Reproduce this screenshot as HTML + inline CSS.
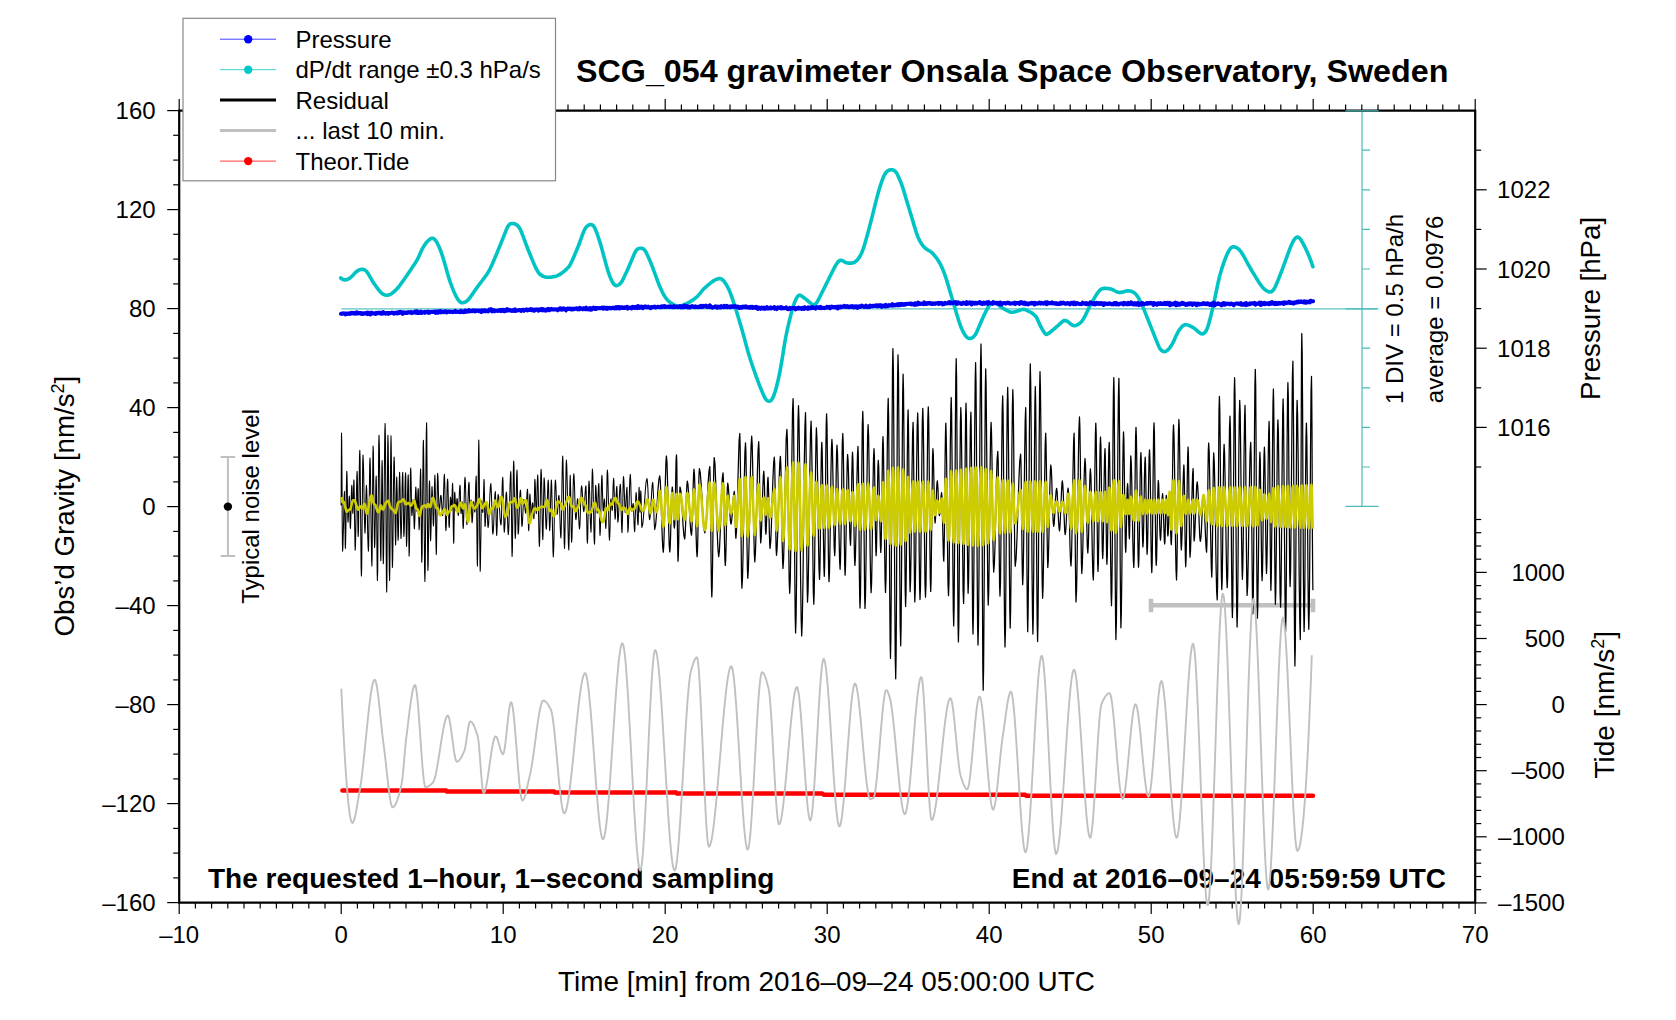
<!DOCTYPE html><html><head><meta charset="utf-8"><title>SCG_054</title><style>html,body{margin:0;padding:0;background:#fff;overflow:hidden}svg{display:block}</style></head><body><svg width="1676" height="1020" viewBox="0 0 1676 1020">
<rect width="1676" height="1020" fill="#fff"/>
<path d="M341.3,308.9 H1377" stroke="#5cc4c4" stroke-width="1.2" fill="none"/>
<path d="M1362,110.6 V506.5 M1345.5,110.9 H1378.5 M1345.5,506.3 H1378.5 M1345.5,308.9 H1378.5 M1362,150.2 h8 M1362,189.8 h8 M1362,229.4 h8 M1362,269.0 h8 M1362,348.2 h8 M1362,387.8 h8 M1362,427.4 h8 M1362,467.0 h8" stroke="#4dbaba" stroke-width="1.2" fill="none"/>
<path d="M340.7,278.0 341.5,278.6 342.3,279.1 343.1,279.5 343.9,279.8 344.7,280.0 345.5,279.9 346.3,279.8 347.1,279.5 347.9,279.2 348.7,278.7 349.5,278.3 350.3,277.7 351.1,277.0 351.9,276.3 352.7,275.5 353.5,274.6 354.3,273.7 355.1,272.9 355.9,272.1 356.7,271.4 357.5,270.9 358.3,270.4 359.1,270.0 359.9,269.7 360.7,269.5 361.5,269.4 362.3,269.4 363.1,269.4 363.9,269.6 364.7,270.0 365.5,270.5 366.3,271.2 367.1,272.2 367.9,273.3 368.7,274.6 369.5,275.9 370.3,277.3 371.1,278.7 371.9,280.1 372.7,281.5 373.5,282.7 374.3,283.9 375.1,285.0 375.9,286.1 376.7,287.3 377.5,288.3 378.3,289.4 379.1,290.4 379.9,291.3 380.7,292.2 381.5,293.0 382.3,293.7 383.1,294.2 383.9,294.6 384.7,294.9 385.5,295.1 386.3,295.2 387.1,295.2 387.9,295.1 388.7,295.0 389.5,294.7 390.3,294.4 391.1,294.0 391.9,293.4 392.7,292.8 393.5,292.1 394.3,291.4 395.1,290.7 395.9,289.9 396.7,289.1 397.5,288.2 398.3,287.3 399.1,286.3 399.9,285.2 400.7,284.1 401.5,283.0 402.3,281.9 403.1,280.8 403.9,279.7 404.7,278.5 405.5,277.4 406.3,276.2 407.1,275.1 407.9,273.9 408.7,272.8 409.5,271.6 410.3,270.4 411.1,269.2 411.9,268.0 412.7,266.8 413.5,265.6 414.3,264.4 415.1,263.2 415.9,261.9 416.7,260.6 417.5,259.2 418.3,257.6 419.1,255.9 419.9,254.1 420.7,252.2 421.5,250.5 422.3,248.9 423.1,247.4 423.9,246.1 424.7,244.9 425.5,243.7 426.3,242.7 427.1,241.8 427.9,241.0 428.7,240.2 429.5,239.6 430.3,239.0 431.1,238.5 431.9,238.3 432.7,238.3 433.5,238.5 434.3,239.1 435.1,239.9 435.9,240.9 436.7,242.2 437.5,243.7 438.3,245.3 439.1,247.0 439.9,248.9 440.7,251.0 441.5,253.2 442.3,255.5 443.1,258.0 443.9,260.6 444.7,263.4 445.5,266.2 446.3,269.1 447.1,271.9 447.9,274.7 448.7,277.4 449.5,279.9 450.3,282.3 451.1,284.5 451.9,286.7 452.7,288.7 453.5,290.6 454.3,292.5 455.1,294.2 455.9,295.9 456.7,297.4 457.5,298.8 458.3,300.0 459.1,301.0 459.9,301.8 460.7,302.4 461.5,302.7 462.3,302.8 463.1,302.7 463.9,302.5 464.7,302.2 465.5,301.9 466.3,301.4 467.1,300.8 467.9,300.1 468.7,299.2 469.5,298.2 470.3,297.1 471.1,296.0 471.9,294.9 472.7,293.7 473.5,292.6 474.3,291.4 475.1,290.3 475.9,289.1 476.7,288.0 477.5,286.9 478.3,285.8 479.1,284.7 479.9,283.6 480.7,282.6 481.5,281.5 482.3,280.5 483.1,279.4 483.9,278.4 484.7,277.3 485.5,276.2 486.3,275.1 487.1,274.0 487.9,272.7 488.7,271.3 489.5,269.9 490.3,268.3 491.1,266.6 491.9,264.9 492.7,263.1 493.5,261.3 494.3,259.4 495.1,257.5 495.9,255.6 496.7,253.6 497.5,251.7 498.3,249.7 499.1,247.8 499.9,245.8 500.7,243.9 501.5,241.9 502.3,239.9 503.1,237.9 503.9,235.9 504.7,233.8 505.5,231.8 506.3,229.8 507.1,227.9 507.9,226.4 508.7,225.2 509.5,224.4 510.3,223.9 511.1,223.6 511.9,223.5 512.7,223.5 513.5,223.6 514.3,223.8 515.1,224.0 515.9,224.4 516.7,224.9 517.5,225.5 518.3,226.4 519.1,227.4 519.9,228.7 520.7,230.3 521.5,232.2 522.3,234.3 523.1,236.3 523.9,238.5 524.7,240.6 525.5,242.8 526.3,244.9 527.1,247.0 527.9,249.1 528.7,251.1 529.5,253.1 530.3,255.0 531.1,257.0 531.9,258.9 532.7,260.9 533.5,262.7 534.3,264.6 535.1,266.4 535.9,268.2 536.7,269.7 537.5,271.1 538.3,272.3 539.1,273.3 539.9,274.2 540.7,274.8 541.5,275.4 542.3,275.9 543.1,276.3 543.9,276.6 544.7,276.9 545.5,277.1 546.3,277.2 547.1,277.3 547.9,277.3 548.7,277.3 549.5,277.2 550.3,277.2 551.1,277.1 551.9,277.0 552.7,276.9 553.5,276.8 554.3,276.6 555.1,276.4 555.9,276.2 556.7,275.9 557.5,275.6 558.3,275.2 559.1,274.8 559.9,274.4 560.7,273.9 561.5,273.3 562.3,272.7 563.1,272.1 563.9,271.5 564.7,270.8 565.5,270.1 566.3,269.4 567.1,268.6 567.9,267.8 568.7,266.9 569.5,265.7 570.3,264.3 571.1,262.8 571.9,261.1 572.7,259.4 573.5,257.6 574.3,255.7 575.1,253.8 575.9,251.9 576.7,250.0 577.5,248.0 578.3,246.1 579.1,244.0 579.9,241.8 580.7,239.6 581.5,237.4 582.3,235.2 583.1,233.1 583.9,231.1 584.7,229.5 585.5,228.1 586.3,227.0 587.1,226.2 587.9,225.6 588.7,225.1 589.5,224.7 590.3,224.5 591.1,224.5 591.9,224.7 592.7,225.2 593.5,226.0 594.3,227.1 595.1,228.7 595.9,230.6 596.7,232.7 597.5,234.9 598.3,237.3 599.1,239.7 599.9,242.3 600.7,244.9 601.5,247.6 602.3,250.5 603.1,253.4 603.9,256.4 604.7,259.4 605.5,262.4 606.3,265.3 607.1,268.1 607.9,270.8 608.7,273.2 609.5,275.4 610.3,277.4 611.1,279.3 611.9,281.0 612.7,282.5 613.5,283.7 614.3,284.6 615.1,285.2 615.9,285.6 616.7,285.6 617.5,285.4 618.3,285.0 619.1,284.5 619.9,283.9 620.7,283.1 621.5,282.0 622.3,280.7 623.1,279.2 623.9,277.5 624.7,275.8 625.5,274.1 626.3,272.4 627.1,270.7 627.9,268.9 628.7,267.1 629.5,265.3 630.3,263.4 631.1,261.5 631.9,259.6 632.7,257.7 633.5,255.8 634.3,254.0 635.1,252.3 635.9,250.9 636.7,249.9 637.5,249.1 638.3,248.7 639.1,248.4 639.9,248.2 640.7,248.2 641.5,248.3 642.3,248.5 643.1,248.8 643.9,249.4 644.7,250.2 645.5,251.3 646.3,252.7 647.1,254.4 647.9,256.1 648.7,257.9 649.5,259.7 650.3,261.6 651.1,263.6 651.9,265.6 652.7,267.7 653.5,269.8 654.3,272.0 655.1,274.2 655.9,276.4 656.7,278.5 657.5,280.7 658.3,282.8 659.1,284.8 659.9,286.7 660.7,288.5 661.5,290.3 662.3,292.0 663.1,293.5 663.9,295.0 664.7,296.3 665.5,297.5 666.3,298.6 667.1,299.5 667.9,300.4 668.7,301.2 669.5,301.9 670.3,302.5 671.1,303.1 671.9,303.6 672.7,304.1 673.5,304.6 674.3,305.0 675.1,305.4 675.9,305.7 676.7,305.9 677.5,306.1 678.3,306.1 679.1,306.1 679.9,305.9 680.7,305.8 681.5,305.6 682.3,305.4 683.1,305.1 683.9,304.8 684.7,304.5 685.5,304.1 686.3,303.8 687.1,303.4 687.9,302.9 688.7,302.5 689.5,302.1 690.3,301.6 691.1,301.1 691.9,300.6 692.7,300.1 693.5,299.6 694.3,299.0 695.1,298.4 695.9,297.7 696.7,297.0 697.5,296.3 698.3,295.5 699.1,294.5 699.9,293.5 700.7,292.5 701.5,291.5 702.3,290.5 703.1,289.6 703.9,288.8 704.7,288.0 705.5,287.3 706.3,286.6 707.1,285.9 707.9,285.2 708.7,284.5 709.5,283.9 710.3,283.2 711.1,282.6 711.9,282.0 712.7,281.4 713.5,280.9 714.3,280.4 715.1,280.0 715.9,279.6 716.7,279.3 717.5,279.0 718.3,278.8 719.1,278.6 719.9,278.5 720.7,278.7 721.5,279.1 722.3,279.6 723.1,280.3 723.9,281.2 724.7,282.2 725.5,283.4 726.3,284.6 727.1,286.0 727.9,287.5 728.7,289.1 729.5,290.9 730.3,292.9 731.1,295.1 731.9,297.4 732.7,299.7 733.5,302.0 734.3,304.4 735.1,306.9 735.9,309.4 736.7,312.0 737.5,314.6 738.3,317.3 739.1,320.0 739.9,322.7 740.7,325.4 741.5,328.1 742.3,330.9 743.1,333.7 743.9,336.6 744.7,339.6 745.5,342.6 746.3,345.6 747.1,348.5 747.9,351.4 748.7,354.1 749.5,356.7 750.3,359.3 751.1,361.7 751.9,364.1 752.7,366.5 753.5,368.8 754.3,371.0 755.1,373.3 755.9,375.6 756.7,377.8 757.5,380.0 758.3,382.2 759.1,384.3 759.9,386.3 760.7,388.3 761.5,390.2 762.3,392.1 763.1,394.0 763.9,395.8 764.7,397.5 765.5,398.9 766.3,399.8 767.1,400.5 767.9,400.9 768.7,401.2 769.5,401.2 770.3,400.9 771.1,400.3 771.9,399.3 772.7,398.0 773.5,396.3 774.3,394.2 775.1,391.8 775.9,389.0 776.7,386.0 777.5,382.8 778.3,379.3 779.1,375.6 779.9,371.6 780.7,367.4 781.5,362.9 782.3,358.0 783.1,353.0 783.9,347.9 784.7,343.0 785.5,338.5 786.3,334.5 787.1,330.7 787.9,327.1 788.7,323.6 789.5,320.2 790.3,317.0 791.1,313.9 791.9,310.9 792.7,308.1 793.5,305.5 794.3,303.1 795.1,301.1 795.9,299.4 796.7,297.9 797.5,296.6 798.3,295.7 799.1,295.2 799.9,295.1 800.7,295.5 801.5,296.0 802.3,296.5 803.1,297.1 803.9,297.7 804.7,298.3 805.5,298.9 806.3,299.5 807.1,300.2 807.9,300.9 808.7,301.6 809.5,302.2 810.3,302.9 811.1,303.6 811.9,304.2 812.7,304.6 813.5,304.8 814.3,304.7 815.1,304.4 815.9,303.7 816.7,302.7 817.5,301.4 818.3,299.8 819.1,298.3 819.9,296.7 820.7,295.1 821.5,293.5 822.3,291.9 823.1,290.3 823.9,288.7 824.7,287.1 825.5,285.5 826.3,283.9 827.1,282.3 827.9,280.7 828.7,279.1 829.5,277.4 830.3,275.8 831.1,274.2 831.9,272.6 832.7,271.0 833.5,269.4 834.3,267.8 835.1,266.3 835.9,264.9 836.7,263.7 837.5,262.6 838.3,261.6 839.1,260.9 839.9,260.5 840.7,260.3 841.5,260.4 842.3,260.6 843.1,261.0 843.9,261.5 844.7,261.9 845.5,262.4 846.3,262.7 847.1,262.9 847.9,263.0 848.7,263.1 849.5,263.1 850.3,263.1 851.1,263.1 851.9,263.0 852.7,262.9 853.5,262.8 854.3,262.4 855.1,261.9 855.9,261.3 856.7,260.6 857.5,259.7 858.3,258.7 859.1,257.6 859.9,256.3 860.7,254.8 861.5,253.2 862.3,251.3 863.1,249.2 863.9,246.9 864.7,244.3 865.5,241.5 866.3,238.7 867.1,235.8 867.9,232.9 868.7,229.9 869.5,226.9 870.3,223.9 871.1,220.7 871.9,217.6 872.7,214.4 873.5,211.2 874.3,207.9 875.1,204.7 875.9,201.6 876.7,198.4 877.5,195.4 878.3,192.5 879.1,189.7 879.9,187.1 880.7,184.6 881.5,182.2 882.3,179.9 883.1,177.8 883.9,176.0 884.7,174.5 885.5,173.2 886.3,172.2 887.1,171.4 887.9,170.8 888.7,170.3 889.5,170.0 890.3,169.9 891.1,169.8 891.9,169.8 892.7,169.9 893.5,170.2 894.3,170.6 895.1,171.3 895.9,172.1 896.7,173.2 897.5,174.7 898.3,176.4 899.1,178.2 899.9,180.1 900.7,182.1 901.5,184.2 902.3,186.4 903.1,188.8 903.9,191.4 904.7,194.1 905.5,196.7 906.3,199.4 907.1,202.0 907.9,204.7 908.7,207.3 909.5,210.0 910.3,212.7 911.1,215.3 911.9,218.0 912.7,220.6 913.5,223.3 914.3,225.9 915.1,228.6 915.9,231.3 916.7,233.7 917.5,235.9 918.3,237.8 919.1,239.5 919.9,241.1 920.7,242.4 921.5,243.7 922.3,244.8 923.1,245.8 923.9,246.8 924.7,247.6 925.5,248.3 926.3,248.9 927.1,249.5 927.9,250.0 928.7,250.5 929.5,250.9 930.3,251.5 931.1,252.0 931.9,252.7 932.7,253.4 933.5,254.3 934.3,255.3 935.1,256.2 935.9,257.3 936.7,258.3 937.5,259.5 938.3,260.7 939.1,262.0 939.9,263.4 940.7,264.9 941.5,266.5 942.3,268.3 943.1,270.2 943.9,272.2 944.7,274.3 945.5,276.6 946.3,279.0 947.1,281.6 947.9,284.3 948.7,287.0 949.5,289.7 950.3,292.4 951.1,295.1 951.9,297.8 952.7,300.5 953.5,303.2 954.3,305.9 955.1,308.6 955.9,311.2 956.7,313.9 957.5,316.5 958.3,319.2 959.1,321.8 959.9,324.2 960.7,326.3 961.5,328.3 962.3,330.0 963.1,331.6 963.9,333.1 964.7,334.5 965.5,335.7 966.3,336.7 967.1,337.5 967.9,338.0 968.7,338.4 969.5,338.5 970.3,338.5 971.1,338.3 971.9,337.9 972.7,337.5 973.5,336.9 974.3,336.0 975.1,335.0 975.9,333.7 976.7,332.1 977.5,330.3 978.3,328.4 979.1,326.5 979.9,324.6 980.7,322.7 981.5,320.8 982.3,319.0 983.1,317.3 983.9,315.5 984.7,313.9 985.5,312.2 986.3,310.6 987.1,309.1 987.9,307.6 988.7,306.3 989.5,305.2 990.3,304.3 991.1,303.6 991.9,303.0 992.7,302.7 993.5,302.6 994.3,302.6 995.1,302.8 995.9,303.2 996.7,303.7 997.5,304.2 998.3,304.8 999.1,305.5 999.9,306.1 1000.7,306.7 1001.5,307.3 1002.3,307.9 1003.1,308.4 1003.9,308.8 1004.7,309.3 1005.5,309.7 1006.3,310.2 1007.1,310.6 1007.9,311.0 1008.7,311.3 1009.5,311.7 1010.3,312.0 1011.1,312.2 1011.9,312.3 1012.7,312.3 1013.5,312.1 1014.3,311.9 1015.1,311.7 1015.9,311.4 1016.7,311.2 1017.5,311.0 1018.3,310.7 1019.1,310.4 1019.9,310.2 1020.7,309.9 1021.5,309.6 1022.3,309.4 1023.1,309.2 1023.9,309.2 1024.7,309.4 1025.5,309.7 1026.3,310.1 1027.1,310.5 1027.9,310.9 1028.7,311.3 1029.5,311.7 1030.3,312.1 1031.1,312.5 1031.9,313.0 1032.7,313.6 1033.5,314.2 1034.3,314.9 1035.1,315.7 1035.9,316.5 1036.7,317.8 1037.5,319.4 1038.3,321.2 1039.1,323.0 1039.9,324.9 1040.7,326.5 1041.5,327.9 1042.3,329.3 1043.1,330.7 1043.9,332.0 1044.7,333.1 1045.5,333.9 1046.3,334.4 1047.1,334.3 1047.9,333.8 1048.7,333.3 1049.5,332.7 1050.3,332.1 1051.1,331.5 1051.9,330.8 1052.7,330.1 1053.5,329.4 1054.3,328.8 1055.1,328.1 1055.9,327.4 1056.7,326.7 1057.5,326.0 1058.3,325.3 1059.1,324.5 1059.9,323.8 1060.7,323.1 1061.5,322.4 1062.3,321.7 1063.1,321.1 1063.9,320.6 1064.7,320.5 1065.5,320.6 1066.3,320.8 1067.1,321.2 1067.9,321.8 1068.7,322.4 1069.5,323.0 1070.3,323.7 1071.1,324.3 1071.9,324.8 1072.7,325.3 1073.5,325.6 1074.3,325.7 1075.1,325.6 1075.9,325.4 1076.7,325.1 1077.5,324.7 1078.3,324.3 1079.1,323.8 1079.9,323.2 1080.7,322.5 1081.5,321.6 1082.3,320.6 1083.1,319.4 1083.9,318.1 1084.7,316.6 1085.5,315.1 1086.3,313.4 1087.1,311.8 1087.9,310.1 1088.7,308.5 1089.5,306.9 1090.3,305.3 1091.1,303.9 1091.9,302.5 1092.7,301.0 1093.5,299.6 1094.3,298.2 1095.1,296.9 1095.9,295.6 1096.7,294.3 1097.5,293.1 1098.3,292.0 1099.1,291.0 1099.9,290.2 1100.7,289.5 1101.5,289.0 1102.3,288.7 1103.1,288.5 1103.9,288.4 1104.7,288.4 1105.5,288.4 1106.3,288.4 1107.1,288.5 1107.9,288.5 1108.7,288.6 1109.5,288.8 1110.3,288.9 1111.1,289.1 1111.9,289.4 1112.7,289.7 1113.5,290.1 1114.3,290.5 1115.1,291.0 1115.9,291.4 1116.7,291.8 1117.5,292.1 1118.3,292.3 1119.1,292.5 1119.9,292.5 1120.7,292.4 1121.5,292.3 1122.3,292.1 1123.1,291.9 1123.9,291.7 1124.7,291.5 1125.5,291.3 1126.3,291.1 1127.1,290.9 1127.9,290.9 1128.7,290.9 1129.5,291.0 1130.3,291.1 1131.1,291.3 1131.9,291.6 1132.7,291.9 1133.5,292.3 1134.3,292.9 1135.1,293.5 1135.9,294.3 1136.7,295.3 1137.5,296.4 1138.3,297.6 1139.1,299.0 1139.9,300.5 1140.7,302.0 1141.5,303.7 1142.3,305.5 1143.1,307.3 1143.9,309.3 1144.7,311.3 1145.5,313.3 1146.3,315.3 1147.1,317.3 1147.9,319.3 1148.7,321.3 1149.5,323.3 1150.3,325.3 1151.1,327.3 1151.9,329.3 1152.7,331.3 1153.5,333.3 1154.3,335.3 1155.1,337.3 1155.9,339.3 1156.7,341.3 1157.5,343.3 1158.3,345.3 1159.1,347.0 1159.9,348.5 1160.7,349.6 1161.5,350.4 1162.3,351.0 1163.1,351.4 1163.9,351.6 1164.7,351.6 1165.5,351.4 1166.3,351.0 1167.1,350.5 1167.9,349.8 1168.7,349.0 1169.5,348.1 1170.3,347.0 1171.1,345.9 1171.9,344.6 1172.7,343.2 1173.5,341.6 1174.3,339.9 1175.1,338.1 1175.9,336.3 1176.7,334.6 1177.5,333.0 1178.3,331.5 1179.1,330.3 1179.9,329.1 1180.7,328.1 1181.5,327.1 1182.3,326.3 1183.1,325.7 1183.9,325.1 1184.7,324.8 1185.5,324.7 1186.3,324.8 1187.1,324.9 1187.9,325.1 1188.7,325.4 1189.5,325.7 1190.3,326.1 1191.1,326.5 1191.9,326.9 1192.7,327.3 1193.5,327.8 1194.3,328.4 1195.1,329.0 1195.9,329.7 1196.7,330.4 1197.5,331.1 1198.3,331.8 1199.1,332.4 1199.9,333.0 1200.7,333.5 1201.5,333.8 1202.3,333.9 1203.1,333.8 1203.9,333.4 1204.7,332.7 1205.5,331.8 1206.3,330.4 1207.1,328.7 1207.9,326.5 1208.7,324.0 1209.5,321.1 1210.3,318.0 1211.1,314.8 1211.9,311.4 1212.7,307.9 1213.5,304.4 1214.3,300.7 1215.1,296.9 1215.9,293.1 1216.7,289.3 1217.5,285.5 1218.3,281.9 1219.1,278.5 1219.9,275.3 1220.7,272.4 1221.5,269.7 1222.3,267.1 1223.1,264.7 1223.9,262.4 1224.7,260.2 1225.5,258.1 1226.3,256.1 1227.1,254.3 1227.9,252.6 1228.7,251.1 1229.5,249.8 1230.3,248.7 1231.1,247.8 1231.9,247.2 1232.7,246.9 1233.5,246.8 1234.3,246.9 1235.1,247.1 1235.9,247.4 1236.7,247.8 1237.5,248.3 1238.3,248.9 1239.1,249.6 1239.9,250.5 1240.7,251.4 1241.5,252.5 1242.3,253.8 1243.1,255.1 1243.9,256.5 1244.7,258.0 1245.5,259.4 1246.3,260.9 1247.1,262.3 1247.9,263.8 1248.7,265.3 1249.5,266.7 1250.3,268.1 1251.1,269.5 1251.9,270.9 1252.7,272.2 1253.5,273.5 1254.3,274.8 1255.1,276.1 1255.9,277.4 1256.7,278.7 1257.5,280.0 1258.3,281.2 1259.1,282.5 1259.9,283.7 1260.7,284.9 1261.5,286.0 1262.3,287.0 1263.1,287.9 1263.9,288.7 1264.7,289.4 1265.5,290.0 1266.3,290.6 1267.1,291.0 1267.9,291.4 1268.7,291.8 1269.5,292.0 1270.3,292.0 1271.1,291.8 1271.9,291.4 1272.7,290.7 1273.5,289.8 1274.3,288.6 1275.1,287.1 1275.9,285.3 1276.7,283.4 1277.5,281.5 1278.3,279.6 1279.1,277.6 1279.9,275.5 1280.7,273.5 1281.5,271.4 1282.3,269.3 1283.1,267.2 1283.9,265.0 1284.7,262.8 1285.5,260.6 1286.3,258.4 1287.1,256.2 1287.9,254.0 1288.7,251.8 1289.5,249.7 1290.3,247.6 1291.1,245.6 1291.9,243.9 1292.7,242.2 1293.5,240.8 1294.3,239.6 1295.1,238.5 1295.9,237.7 1296.7,237.2 1297.5,237.0 1298.3,237.2 1299.1,237.7 1299.9,238.5 1300.7,239.6 1301.5,240.8 1302.3,242.2 1303.1,243.6 1303.9,245.2 1304.7,246.7 1305.5,248.3 1306.3,250.0 1307.1,251.7 1307.9,253.5 1308.7,255.4 1309.5,257.3 1310.3,259.4 1311.1,261.5 1311.9,263.7 1312.7,266.1 1312.9,266.7" stroke="#00c4c4" stroke-width="3.6" fill="none" stroke-linejoin="round" stroke-linecap="round"/>
<path d="M341.0,313.8 341.6,313.9 342.2,313.6 342.8,313.3 343.4,313.5 344.0,313.3 344.6,313.8 345.2,314.4 345.8,313.5 346.4,313.4 347.0,314.0 347.6,313.9 348.2,313.7 348.8,313.2 349.4,313.7 350.0,314.0 350.6,313.0 351.2,313.4 351.8,312.7 352.4,313.0 353.0,312.7 353.6,313.5 354.2,313.0 354.8,313.7 355.4,313.7 356.0,313.5 356.6,312.3 357.2,313.3 357.8,313.5 358.4,313.6 359.0,312.8 359.6,313.3 360.2,313.0 360.8,313.1 361.4,314.0 362.0,313.1 362.6,313.5 363.2,313.9 363.8,313.2 364.4,313.4 365.0,313.5 365.6,313.5 366.2,312.8 366.8,313.5 367.4,314.1 368.0,312.6 368.6,313.8 369.2,313.4 369.8,313.1 370.4,314.4 371.0,313.7 371.6,312.7 372.2,313.4 372.8,313.6 373.4,313.2 374.0,313.6 374.6,313.3 375.2,313.6 375.8,314.0 376.4,312.9 377.0,313.4 377.6,313.0 378.2,313.3 378.8,312.6 379.4,312.9 380.0,313.1 380.6,313.7 381.2,313.8 381.8,312.5 382.4,312.8 383.0,313.5 383.6,312.2 384.2,312.9 384.8,313.1 385.4,313.8 386.0,313.5 386.6,313.0 387.2,312.9 387.8,313.0 388.4,313.9 389.0,312.9 389.6,312.9 390.2,313.2 390.8,313.0 391.4,312.9 392.0,312.5 392.6,313.0 393.2,312.8 393.8,313.6 394.4,313.3 395.0,312.9 395.6,313.3 396.2,312.7 396.8,313.4 397.4,312.9 398.0,313.2 398.6,312.2 399.2,313.0 399.8,312.0 400.4,311.8 401.0,312.7 401.6,312.3 402.2,312.9 402.8,313.9 403.4,312.3 404.0,312.4 404.6,312.8 405.2,313.0 405.8,312.6 406.4,312.6 407.0,313.0 407.6,312.9 408.2,312.1 408.8,312.6 409.4,312.6 410.0,312.1 410.6,312.7 411.2,312.2 411.8,313.1 412.4,312.6 413.0,312.6 413.6,312.2 414.2,312.5 414.8,311.5 415.4,311.9 416.0,312.7 416.6,311.4 417.2,312.9 417.8,311.6 418.4,312.8 419.0,312.0 419.6,312.8 420.2,312.4 420.8,311.6 421.4,313.0 422.0,313.1 422.6,312.3 423.2,312.2 423.8,312.2 424.4,311.8 425.0,312.8 425.6,312.0 426.2,312.2 426.8,311.8 427.4,311.9 428.0,311.6 428.6,312.8 429.2,312.1 429.8,312.6 430.4,312.2 431.0,311.8 431.6,312.0 432.2,311.8 432.8,312.1 433.4,311.9 434.0,311.9 434.6,311.4 435.2,311.6 435.8,312.9 436.4,311.7 437.0,311.5 437.6,312.2 438.2,312.7 438.8,311.2 439.4,311.8 440.0,311.6 440.6,311.0 441.2,312.3 441.8,311.9 442.4,311.9 443.0,311.5 443.6,312.1 444.2,311.6 444.8,311.8 445.4,311.3 446.0,311.2 446.6,312.4 447.2,311.5 447.8,311.9 448.4,311.7 449.0,311.5 449.6,311.5 450.2,312.0 450.8,311.5 451.4,311.6 452.0,311.7 452.6,312.2 453.2,312.0 453.8,311.8 454.4,311.3 455.0,310.9 455.6,312.1 456.2,312.0 456.8,311.5 457.4,311.8 458.0,311.9 458.6,311.9 459.2,312.0 459.8,311.3 460.4,312.2 461.0,310.8 461.6,311.9 462.2,311.7 462.8,311.8 463.4,312.3 464.0,312.1 464.6,310.8 465.2,310.5 465.8,311.8 466.4,310.8 467.0,311.3 467.6,311.7 468.2,310.5 468.8,310.2 469.4,311.4 470.0,311.3 470.6,311.1 471.2,311.2 471.8,310.8 472.4,310.4 473.0,311.1 473.6,310.7 474.2,310.3 474.8,311.4 475.4,311.1 476.0,311.3 476.6,310.6 477.2,310.8 477.8,310.6 478.4,310.6 479.0,311.1 479.6,310.6 480.2,311.2 480.8,311.2 481.4,312.0 482.0,310.3 482.6,311.4 483.2,310.9 483.8,310.9 484.4,310.2 485.0,310.7 485.6,311.3 486.2,310.8 486.8,310.9 487.4,310.7 488.0,311.4 488.6,310.8 489.2,309.7 489.8,310.5 490.4,309.8 491.0,309.1 491.6,310.5 492.2,311.4 492.8,310.8 493.4,310.1 494.0,310.2 494.6,311.3 495.2,310.8 495.8,310.7 496.4,310.6 497.0,310.7 497.6,311.0 498.2,310.9 498.8,310.7 499.4,310.1 500.0,310.8 500.6,310.2 501.2,311.1 501.8,309.9 502.4,310.4 503.0,310.5 503.6,309.8 504.2,311.3 504.8,311.2 505.4,310.2 506.0,310.8 506.6,310.6 507.2,309.1 507.8,310.5 508.4,310.3 509.0,310.4 509.6,309.8 510.2,310.2 510.8,310.2 511.4,310.9 512.0,310.5 512.6,310.3 513.2,311.0 513.8,310.0 514.4,310.0 515.0,309.3 515.6,311.0 516.2,310.7 516.8,310.6 517.4,310.5 518.0,310.2 518.6,310.3 519.2,310.0 519.8,310.0 520.4,310.1 521.0,310.9 521.6,310.4 522.2,310.0 522.8,309.8 523.4,309.7 524.0,310.8 524.6,310.3 525.2,310.0 525.8,309.8 526.4,309.4 527.0,309.9 527.6,310.4 528.2,309.8 528.8,309.8 529.4,309.8 530.0,310.0 530.6,309.1 531.2,309.8 531.8,309.4 532.4,310.3 533.0,309.5 533.6,310.1 534.2,310.6 534.8,309.7 535.4,309.5 536.0,309.9 536.6,309.8 537.2,309.3 537.8,310.0 538.4,310.7 539.0,309.6 539.6,309.6 540.2,309.2 540.8,309.8 541.4,309.1 542.0,309.1 542.6,310.3 543.2,309.2 543.8,310.2 544.4,310.4 545.0,309.7 545.6,309.9 546.2,310.6 546.8,309.5 547.4,309.3 548.0,308.9 548.6,309.5 549.2,310.3 549.8,310.0 550.4,309.0 551.0,309.0 551.6,309.2 552.2,309.6 552.8,309.3 553.4,309.5 554.0,309.6 554.6,309.2 555.2,309.4 555.8,309.5 556.4,309.3 557.0,309.6 557.6,310.3 558.2,309.6 558.8,309.3 559.4,308.5 560.0,309.5 560.6,308.3 561.2,308.6 561.8,309.7 562.4,309.6 563.0,309.1 563.6,308.3 564.2,309.0 564.8,308.8 565.4,309.5 566.0,310.3 566.6,309.2 567.2,308.7 567.8,308.5 568.4,309.1 569.0,309.0 569.6,308.5 570.2,309.1 570.8,308.5 571.4,309.6 572.0,309.5 572.6,309.5 573.2,308.7 573.8,309.2 574.4,308.9 575.0,308.7 575.6,308.7 576.2,308.2 576.8,308.2 577.4,309.3 578.0,308.8 578.6,308.9 579.2,309.3 579.8,307.9 580.4,308.4 581.0,308.9 581.6,309.0 582.2,308.6 582.8,309.3 583.4,308.8 584.0,308.1 584.6,308.2 585.2,309.1 585.8,308.9 586.4,307.7 587.0,309.3 587.6,308.9 588.2,309.3 588.8,308.4 589.4,308.4 590.0,308.0 590.6,309.8 591.2,308.5 591.8,309.3 592.4,308.2 593.0,308.6 593.6,307.6 594.2,308.3 594.8,308.9 595.4,307.8 596.0,309.0 596.6,308.6 597.2,307.9 597.8,308.1 598.4,308.1 599.0,308.3 599.6,308.1 600.2,307.9 600.8,308.2 601.4,307.8 602.0,307.6 602.6,308.2 603.2,308.7 603.8,307.5 604.4,308.2 605.0,307.9 605.6,307.7 606.2,308.6 606.8,307.9 607.4,308.9 608.0,307.8 608.6,308.3 609.2,308.0 609.8,307.7 610.4,308.4 611.0,308.0 611.6,308.4 612.2,308.0 612.8,307.5 613.4,308.0 614.0,308.0 614.6,308.5 615.2,307.5 615.8,307.9 616.4,307.1 617.0,308.3 617.6,307.4 618.2,307.0 618.8,307.9 619.4,308.4 620.0,307.1 620.6,307.3 621.2,307.5 621.8,307.2 622.4,308.0 623.0,307.4 623.6,307.4 624.2,308.0 624.8,307.4 625.4,307.9 626.0,307.2 626.6,307.1 627.2,306.8 627.8,308.6 628.4,307.5 629.0,307.8 629.6,307.6 630.2,307.7 630.8,307.6 631.4,308.5 632.0,307.1 632.6,306.8 633.2,307.0 633.8,306.9 634.4,307.9 635.0,307.9 635.6,307.0 636.2,306.8 636.8,307.3 637.4,308.2 638.0,306.0 638.6,307.7 639.2,306.9 639.8,307.9 640.4,306.9 641.0,307.3 641.6,306.6 642.2,306.9 642.8,308.1 643.4,307.8 644.0,307.2 644.6,306.9 645.2,306.4 645.8,307.1 646.4,307.3 647.0,307.3 647.6,307.3 648.2,306.7 648.8,307.3 649.4,307.3 650.0,307.9 650.6,308.2 651.2,307.2 651.8,306.9 652.4,307.2 653.0,306.9 653.6,306.8 654.2,307.2 654.8,306.7 655.4,307.5 656.0,307.1 656.6,307.3 657.2,307.1 657.8,306.8 658.4,306.7 659.0,307.0 659.6,306.9 660.2,307.2 660.8,307.1 661.4,306.4 662.0,307.1 662.6,306.4 663.2,306.8 663.8,306.9 664.4,306.0 665.0,307.1 665.6,307.1 666.2,306.9 666.8,306.8 667.4,306.8 668.0,306.5 668.6,306.9 669.2,306.7 669.8,307.0 670.4,306.4 671.0,307.1 671.6,307.0 672.2,306.9 672.8,306.7 673.4,307.2 674.0,306.1 674.6,307.1 675.2,307.0 675.8,307.0 676.4,307.1 677.0,306.5 677.6,306.7 678.2,307.2 678.8,307.1 679.4,306.9 680.0,306.1 680.6,307.1 681.2,307.4 681.8,307.3 682.4,306.9 683.0,306.0 683.6,307.2 684.2,306.7 684.8,305.5 685.4,306.9 686.0,306.0 686.6,306.1 687.2,306.4 687.8,307.3 688.4,306.5 689.0,306.8 689.6,307.6 690.2,307.5 690.8,306.6 691.4,306.6 692.0,306.1 692.6,306.4 693.2,306.9 693.8,306.9 694.4,306.8 695.0,307.2 695.6,306.3 696.2,306.7 696.8,307.1 697.4,307.0 698.0,307.2 698.6,306.9 699.2,306.5 699.8,306.9 700.4,306.2 701.0,305.9 701.6,307.0 702.2,306.7 702.8,306.9 703.4,305.9 704.0,306.5 704.6,306.4 705.2,306.3 705.8,305.6 706.4,306.5 707.0,307.1 707.6,306.9 708.2,306.4 708.8,306.7 709.4,307.1 710.0,305.3 710.6,306.6 711.2,307.0 711.8,307.0 712.4,307.6 713.0,307.3 713.6,306.9 714.2,306.9 714.8,307.1 715.4,306.4 716.0,306.7 716.6,307.2 717.2,307.7 717.8,306.6 718.4,306.7 719.0,306.8 719.6,307.4 720.2,306.7 720.8,307.4 721.4,306.2 722.0,306.6 722.6,306.6 723.2,307.1 723.8,307.2 724.4,305.9 725.0,306.2 725.6,306.9 726.2,306.4 726.8,305.9 727.4,307.2 728.0,306.9 728.6,306.9 729.2,306.5 729.8,307.2 730.4,306.6 731.0,307.2 731.6,306.2 732.2,306.3 732.8,306.8 733.4,306.3 734.0,307.0 734.6,306.8 735.2,306.2 735.8,306.7 736.4,306.6 737.0,307.2 737.6,306.5 738.2,306.6 738.8,307.4 739.4,308.0 740.0,307.9 740.6,306.9 741.2,307.0 741.8,307.7 742.4,306.9 743.0,306.5 743.6,307.1 744.2,307.3 744.8,306.7 745.4,306.3 746.0,306.4 746.6,307.5 747.2,306.8 747.8,307.1 748.4,307.3 749.0,307.6 749.6,307.1 750.2,307.6 750.8,306.9 751.4,307.2 752.0,306.9 752.6,308.0 753.2,307.4 753.8,307.1 754.4,307.3 755.0,307.4 755.6,307.9 756.2,306.8 756.8,307.1 757.4,307.4 758.0,308.9 758.6,308.1 759.2,307.6 759.8,308.1 760.4,308.8 761.0,307.7 761.6,307.6 762.2,308.4 762.8,308.1 763.4,308.2 764.0,307.6 764.6,308.9 765.2,308.8 765.8,308.3 766.4,308.3 767.0,307.0 767.6,308.4 768.2,308.0 768.8,308.3 769.4,308.5 770.0,308.0 770.6,307.3 771.2,308.4 771.8,307.8 772.4,308.0 773.0,307.9 773.6,308.0 774.2,307.0 774.8,308.8 775.4,308.3 776.0,308.8 776.6,309.2 777.2,308.2 777.8,307.3 778.4,307.8 779.0,307.6 779.6,307.9 780.2,308.2 780.8,307.2 781.4,308.4 782.0,307.4 782.6,308.3 783.2,308.1 783.8,308.0 784.4,308.2 785.0,307.9 785.6,307.9 786.2,307.4 786.8,308.2 787.4,309.1 788.0,309.2 788.6,308.9 789.2,308.6 789.8,307.9 790.4,308.9 791.0,308.2 791.6,308.2 792.2,308.1 792.8,308.2 793.4,308.0 794.0,308.2 794.6,307.7 795.2,308.0 795.8,309.3 796.4,308.2 797.0,308.1 797.6,308.5 798.2,308.6 798.8,307.6 799.4,308.1 800.0,308.7 800.6,308.3 801.2,308.3 801.8,309.0 802.4,307.9 803.0,308.2 803.6,307.9 804.2,308.9 804.8,307.2 805.4,307.9 806.0,307.9 806.6,308.5 807.2,308.5 807.8,308.9 808.4,307.4 809.0,308.5 809.6,308.0 810.2,307.8 810.8,308.3 811.4,307.6 812.0,307.0 812.6,307.8 813.2,307.2 813.8,307.6 814.4,308.1 815.0,308.1 815.6,308.7 816.2,307.8 816.8,307.1 817.4,307.5 818.0,307.4 818.6,307.2 819.2,308.0 819.8,307.5 820.4,306.8 821.0,308.1 821.6,307.7 822.2,307.9 822.8,307.7 823.4,308.0 824.0,307.7 824.6,308.2 825.2,307.8 825.8,307.8 826.4,307.8 827.0,306.8 827.6,307.4 828.2,307.4 828.8,307.6 829.4,306.8 830.0,308.3 830.6,307.5 831.2,306.8 831.8,306.5 832.4,307.2 833.0,307.3 833.6,307.0 834.2,307.3 834.8,307.0 835.4,307.5 836.0,306.9 836.6,307.2 837.2,307.7 837.8,308.5 838.4,306.6 839.0,306.9 839.6,306.7 840.2,307.5 840.8,306.5 841.4,306.8 842.0,307.0 842.6,306.5 843.2,306.5 843.8,306.7 844.4,305.9 845.0,306.2 845.6,306.7 846.2,307.0 846.8,306.8 847.4,306.0 848.0,306.6 848.6,307.2 849.2,307.1 849.8,306.7 850.4,306.3 851.0,307.0 851.6,306.4 852.2,306.1 852.8,306.3 853.4,307.4 854.0,306.7 854.6,307.2 855.2,306.4 855.8,307.0 856.4,306.2 857.0,306.5 857.6,307.8 858.2,306.9 858.8,306.2 859.4,306.4 860.0,306.6 860.6,307.0 861.2,306.1 861.8,305.5 862.4,306.2 863.0,306.3 863.6,306.4 864.2,306.9 864.8,306.4 865.4,306.7 866.0,305.7 866.6,306.6 867.2,307.2 867.8,306.6 868.4,306.3 869.0,306.2 869.6,307.0 870.2,305.6 870.8,306.0 871.4,306.3 872.0,306.4 872.6,305.8 873.2,306.1 873.8,305.8 874.4,306.0 875.0,305.9 875.6,305.3 876.2,305.9 876.8,306.3 877.4,305.4 878.0,305.7 878.6,306.1 879.2,305.3 879.8,305.9 880.4,305.2 881.0,306.3 881.6,306.9 882.2,306.7 882.8,305.6 883.4,306.0 884.0,305.7 884.6,305.7 885.2,306.4 885.8,304.9 886.4,306.1 887.0,305.5 887.6,306.2 888.2,305.6 888.8,305.1 889.4,305.5 890.0,305.7 890.6,305.3 891.2,305.5 891.8,304.9 892.4,304.1 893.0,305.6 893.6,305.4 894.2,305.1 894.8,305.0 895.4,305.4 896.0,304.6 896.6,304.5 897.2,304.7 897.8,305.3 898.4,304.0 899.0,305.2 899.6,304.3 900.2,304.0 900.8,305.1 901.4,304.4 902.0,303.8 902.6,304.2 903.2,304.8 903.8,304.9 904.4,304.0 905.0,304.4 905.6,304.5 906.2,303.8 906.8,304.2 907.4,304.0 908.0,303.7 908.6,303.7 909.2,303.9 909.8,303.9 910.4,303.5 911.0,303.5 911.6,304.3 912.2,303.8 912.8,304.1 913.4,304.3 914.0,304.0 914.6,304.8 915.2,303.2 915.8,304.1 916.4,303.5 917.0,304.6 917.6,304.5 918.2,302.6 918.8,303.1 919.4,303.9 920.0,304.0 920.6,304.0 921.2,303.5 921.8,303.8 922.4,303.9 923.0,303.5 923.6,304.1 924.2,302.4 924.8,303.9 925.4,303.0 926.0,304.0 926.6,303.4 927.2,303.1 927.8,303.7 928.4,303.0 929.0,303.0 929.6,302.7 930.2,303.5 930.8,303.7 931.4,304.0 932.0,303.4 932.6,304.0 933.2,303.4 933.8,303.4 934.4,303.7 935.0,303.9 935.6,303.2 936.2,303.3 936.8,303.3 937.4,303.4 938.0,302.9 938.6,303.9 939.2,303.2 939.8,303.6 940.4,302.9 941.0,303.5 941.6,303.5 942.2,303.1 942.8,304.3 943.4,303.5 944.0,304.2 944.6,303.8 945.2,302.9 945.8,303.1 946.4,303.5 947.0,303.3 947.6,303.3 948.2,303.1 948.8,302.3 949.4,303.1 950.0,302.1 950.6,303.4 951.2,302.8 951.8,302.8 952.4,303.1 953.0,303.3 953.6,302.5 954.2,302.3 954.8,302.6 955.4,302.1 956.0,302.7 956.6,303.9 957.2,302.6 957.8,303.4 958.4,302.4 959.0,303.3 959.6,302.9 960.2,303.1 960.8,303.4 961.4,304.0 962.0,303.2 962.6,303.2 963.2,302.6 963.8,303.4 964.4,303.0 965.0,303.5 965.6,303.1 966.2,304.0 966.8,302.1 967.4,303.0 968.0,303.6 968.6,302.9 969.2,302.7 969.8,303.0 970.4,302.4 971.0,303.2 971.6,304.4 972.2,303.7 972.8,302.6 973.4,302.7 974.0,302.9 974.6,303.6 975.2,302.7 975.8,302.8 976.4,303.6 977.0,303.6 977.6,303.0 978.2,302.6 978.8,302.4 979.4,302.8 980.0,302.0 980.6,303.5 981.2,302.8 981.8,303.4 982.4,304.1 983.0,303.7 983.6,302.6 984.2,303.6 984.8,303.7 985.4,302.8 986.0,302.7 986.6,303.1 987.2,302.4 987.8,303.9 988.4,302.0 989.0,302.6 989.6,303.0 990.2,303.1 990.8,303.3 991.4,303.3 992.0,303.1 992.6,303.8 993.2,302.1 993.8,303.2 994.4,302.8 995.0,303.3 995.6,303.3 996.2,302.7 996.8,302.9 997.4,303.6 998.0,303.4 998.6,302.9 999.2,304.2 999.8,304.4 1000.4,302.5 1001.0,303.4 1001.6,304.5 1002.2,303.6 1002.8,303.3 1003.4,303.1 1004.0,302.9 1004.6,303.1 1005.2,302.9 1005.8,303.6 1006.4,303.0 1007.0,303.0 1007.6,302.6 1008.2,303.2 1008.8,302.8 1009.4,303.1 1010.0,303.7 1010.6,303.4 1011.2,303.5 1011.8,303.4 1012.4,303.3 1013.0,303.2 1013.6,303.1 1014.2,303.6 1014.8,302.7 1015.4,303.9 1016.0,303.3 1016.6,302.9 1017.2,303.0 1017.8,302.9 1018.4,303.3 1019.0,302.9 1019.6,303.8 1020.2,302.9 1020.8,302.1 1021.4,302.9 1022.0,302.3 1022.6,303.2 1023.2,303.8 1023.8,303.6 1024.4,302.6 1025.0,302.9 1025.6,304.2 1026.2,303.4 1026.8,303.3 1027.4,303.8 1028.0,304.5 1028.6,303.9 1029.2,303.3 1029.8,303.5 1030.4,303.6 1031.0,303.0 1031.6,302.7 1032.2,303.3 1032.8,302.8 1033.4,303.3 1034.0,303.3 1034.6,304.5 1035.2,302.9 1035.8,303.2 1036.4,303.2 1037.0,303.5 1037.6,303.8 1038.2,303.1 1038.8,302.9 1039.4,302.5 1040.0,302.8 1040.6,303.6 1041.2,303.3 1041.8,302.8 1042.4,303.1 1043.0,303.3 1043.6,303.6 1044.2,303.0 1044.8,303.2 1045.4,302.4 1046.0,302.7 1046.6,304.1 1047.2,302.2 1047.8,303.2 1048.4,303.4 1049.0,303.2 1049.6,302.9 1050.2,303.3 1050.8,303.3 1051.4,303.3 1052.0,302.4 1052.6,303.3 1053.2,302.9 1053.8,303.1 1054.4,303.5 1055.0,303.7 1055.6,303.8 1056.2,303.1 1056.8,303.8 1057.4,304.0 1058.0,303.9 1058.6,304.1 1059.2,303.3 1059.8,303.3 1060.4,303.8 1061.0,302.7 1061.6,303.5 1062.2,303.1 1062.8,303.2 1063.4,302.5 1064.0,303.0 1064.6,303.4 1065.2,303.8 1065.8,303.9 1066.4,303.4 1067.0,303.3 1067.6,303.0 1068.2,303.6 1068.8,303.3 1069.4,303.7 1070.0,304.3 1070.6,303.4 1071.2,302.7 1071.8,303.0 1072.4,302.7 1073.0,302.8 1073.6,304.1 1074.2,303.6 1074.8,302.7 1075.4,303.8 1076.0,304.1 1076.6,303.3 1077.2,303.1 1077.8,303.3 1078.4,303.6 1079.0,303.8 1079.6,304.1 1080.2,304.1 1080.8,304.1 1081.4,304.2 1082.0,303.8 1082.6,302.7 1083.2,303.4 1083.8,303.6 1084.4,303.3 1085.0,303.9 1085.6,303.3 1086.2,303.0 1086.8,304.2 1087.4,303.8 1088.0,303.6 1088.6,304.0 1089.2,304.0 1089.8,303.7 1090.4,302.3 1091.0,303.2 1091.6,303.3 1092.2,303.0 1092.8,303.6 1093.4,304.1 1094.0,303.3 1094.6,303.0 1095.2,304.5 1095.8,303.3 1096.4,302.9 1097.0,303.7 1097.6,303.8 1098.2,303.2 1098.8,303.9 1099.4,303.3 1100.0,303.1 1100.6,303.6 1101.2,303.9 1101.8,303.2 1102.4,303.7 1103.0,303.5 1103.6,305.0 1104.2,303.2 1104.8,304.3 1105.4,303.5 1106.0,303.5 1106.6,303.9 1107.2,304.0 1107.8,304.2 1108.4,303.8 1109.0,303.3 1109.6,303.3 1110.2,303.8 1110.8,303.9 1111.4,304.3 1112.0,303.8 1112.6,304.1 1113.2,304.4 1113.8,303.7 1114.4,302.9 1115.0,303.0 1115.6,302.9 1116.2,304.4 1116.8,303.2 1117.4,304.2 1118.0,303.9 1118.6,304.5 1119.2,304.1 1119.8,303.6 1120.4,303.5 1121.0,303.7 1121.6,303.7 1122.2,303.4 1122.8,303.6 1123.4,304.5 1124.0,302.8 1124.6,303.8 1125.2,303.2 1125.8,303.8 1126.4,304.1 1127.0,303.6 1127.6,304.1 1128.2,302.9 1128.8,304.2 1129.4,303.4 1130.0,304.0 1130.6,303.8 1131.2,302.4 1131.8,303.3 1132.4,303.8 1133.0,304.5 1133.6,303.8 1134.2,303.8 1134.8,303.0 1135.4,304.4 1136.0,304.6 1136.6,303.7 1137.2,303.6 1137.8,302.9 1138.4,304.2 1139.0,305.1 1139.6,304.1 1140.2,304.4 1140.8,304.0 1141.4,303.2 1142.0,304.4 1142.6,303.1 1143.2,303.6 1143.8,303.9 1144.4,304.2 1145.0,304.0 1145.6,303.9 1146.2,303.4 1146.8,303.1 1147.4,303.8 1148.0,303.4 1148.6,303.1 1149.2,303.1 1149.8,303.5 1150.4,302.8 1151.0,303.1 1151.6,303.0 1152.2,303.9 1152.8,304.0 1153.4,304.8 1154.0,303.0 1154.6,303.5 1155.2,304.2 1155.8,303.7 1156.4,303.6 1157.0,304.7 1157.6,303.6 1158.2,303.2 1158.8,303.2 1159.4,304.0 1160.0,304.0 1160.6,303.1 1161.2,303.3 1161.8,304.1 1162.4,304.1 1163.0,303.5 1163.6,304.1 1164.2,304.1 1164.8,302.9 1165.4,303.7 1166.0,304.1 1166.6,303.6 1167.2,302.8 1167.8,303.7 1168.4,304.2 1169.0,304.6 1169.6,302.8 1170.2,305.2 1170.8,303.3 1171.4,304.3 1172.0,304.5 1172.6,304.4 1173.2,304.0 1173.8,303.3 1174.4,304.2 1175.0,303.5 1175.6,302.6 1176.2,305.3 1176.8,304.2 1177.4,304.8 1178.0,303.4 1178.6,304.6 1179.2,304.7 1179.8,304.7 1180.4,303.9 1181.0,303.3 1181.6,303.8 1182.2,302.8 1182.8,303.1 1183.4,304.0 1184.0,303.4 1184.6,303.9 1185.2,303.9 1185.8,304.9 1186.4,304.6 1187.0,303.9 1187.6,304.6 1188.2,303.6 1188.8,303.8 1189.4,304.4 1190.0,303.3 1190.6,303.8 1191.2,303.3 1191.8,304.0 1192.4,304.8 1193.0,303.6 1193.6,304.1 1194.2,303.5 1194.8,303.4 1195.4,303.4 1196.0,304.7 1196.6,305.2 1197.2,304.2 1197.8,303.6 1198.4,304.4 1199.0,303.8 1199.6,304.4 1200.2,304.2 1200.8,304.1 1201.4,304.3 1202.0,303.7 1202.6,303.8 1203.2,303.2 1203.8,303.8 1204.4,303.3 1205.0,304.0 1205.6,303.6 1206.2,304.1 1206.8,304.3 1207.4,303.3 1208.0,303.6 1208.6,303.6 1209.2,304.4 1209.8,304.9 1210.4,304.5 1211.0,303.9 1211.6,304.8 1212.2,303.3 1212.8,304.8 1213.4,303.7 1214.0,302.7 1214.6,305.4 1215.2,304.9 1215.8,303.6 1216.4,304.2 1217.0,304.0 1217.6,304.1 1218.2,303.3 1218.8,303.8 1219.4,304.3 1220.0,304.2 1220.6,304.7 1221.2,304.1 1221.8,305.3 1222.4,303.7 1223.0,304.2 1223.6,303.1 1224.2,303.4 1224.8,304.7 1225.4,303.6 1226.0,304.3 1226.6,304.0 1227.2,303.5 1227.8,303.8 1228.4,303.7 1229.0,303.7 1229.6,304.3 1230.2,304.3 1230.8,303.7 1231.4,303.5 1232.0,304.1 1232.6,303.9 1233.2,304.4 1233.8,305.2 1234.4,304.3 1235.0,303.9 1235.6,303.8 1236.2,303.5 1236.8,303.4 1237.4,303.4 1238.0,303.7 1238.6,303.6 1239.2,304.2 1239.8,303.6 1240.4,303.7 1241.0,303.2 1241.6,304.6 1242.2,304.1 1242.8,304.7 1243.4,304.2 1244.0,304.5 1244.6,303.6 1245.2,304.1 1245.8,305.1 1246.4,303.1 1247.0,304.3 1247.6,304.6 1248.2,303.9 1248.8,304.1 1249.4,304.3 1250.0,303.4 1250.6,303.9 1251.2,303.2 1251.8,303.3 1252.4,303.3 1253.0,303.6 1253.6,303.7 1254.2,303.9 1254.8,302.9 1255.4,304.6 1256.0,304.2 1256.6,304.0 1257.2,303.4 1257.8,303.5 1258.4,303.9 1259.0,303.8 1259.6,302.7 1260.2,303.9 1260.8,305.0 1261.4,302.6 1262.0,304.0 1262.6,303.7 1263.2,303.5 1263.8,304.2 1264.4,302.9 1265.0,303.6 1265.6,304.2 1266.2,303.4 1266.8,303.3 1267.4,303.5 1268.0,303.2 1268.6,304.2 1269.2,303.0 1269.8,303.9 1270.4,302.8 1271.0,303.8 1271.6,303.3 1272.2,302.0 1272.8,303.3 1273.4,302.8 1274.0,303.1 1274.6,304.1 1275.2,302.7 1275.8,302.7 1276.4,303.9 1277.0,303.2 1277.6,303.9 1278.2,303.3 1278.8,302.7 1279.4,303.0 1280.0,303.7 1280.6,303.5 1281.2,303.0 1281.8,303.0 1282.4,302.9 1283.0,302.6 1283.6,303.9 1284.2,302.9 1284.8,302.3 1285.4,302.6 1286.0,303.2 1286.6,303.1 1287.2,302.7 1287.8,302.4 1288.4,302.7 1289.0,301.8 1289.6,302.0 1290.2,303.1 1290.8,302.4 1291.4,302.8 1292.0,303.2 1292.6,302.9 1293.2,302.5 1293.8,303.6 1294.4,302.8 1295.0,302.3 1295.6,302.8 1296.2,302.6 1296.8,301.9 1297.4,302.4 1298.0,302.2 1298.6,301.3 1299.2,302.2 1299.8,302.1 1300.4,302.0 1301.0,301.4 1301.6,302.0 1302.2,302.1 1302.8,302.2 1303.4,301.5 1304.0,302.4 1304.6,301.4 1305.2,301.9 1305.8,302.7 1306.4,301.6 1307.0,301.7 1307.6,302.5 1308.2,301.7 1308.8,301.7 1309.4,302.0 1310.0,302.4 1310.6,300.7 1311.2,301.4 1311.8,301.2 1312.4,301.2 1313.0,301.3" stroke="#0000f0" stroke-width="4.0" fill="none" stroke-linejoin="round" stroke-linecap="round"/>
<path d="M1151,605.3 H1313" stroke="#c0c0c0" stroke-width="4.5" fill="none"/>
<path d="M1151,598.8 V612.2 M1313,598.8 V612.2" stroke="#c0c0c0" stroke-width="4.6" fill="none"/>
<path d="M341.1,505.6 341.5,433.1 341.7,441.0 341.9,462.6 342.1,492.2 342.2,521.8 342.4,543.4 342.6,551.3 342.9,547.3 343.2,536.3 343.6,521.4 343.9,506.4 344.2,495.4 344.5,491.4 344.6,495.2 344.8,505.6 344.9,519.9 345.1,534.1 345.2,544.6 345.4,548.4 345.6,543.2 345.9,529.1 346.1,509.9 346.3,490.6 346.6,476.5 346.8,471.3 347.0,474.7 347.2,484.0 347.4,496.8 347.6,509.5 347.8,518.8 348.0,522.2 348.2,520.5 348.4,515.7 348.6,509.2 348.9,502.6 349.1,497.8 349.3,496.1 349.5,498.3 349.7,504.2 349.9,512.2 350.0,520.3 350.2,526.2 350.4,528.4 350.6,525.5 350.9,517.6 351.1,506.8 351.3,496.0 351.6,488.1 351.8,485.2 352.0,487.1 352.2,492.2 352.3,499.3 352.5,506.3 352.7,511.5 352.9,513.4 353.0,511.1 353.2,505.0 353.4,496.6 353.6,488.3 353.7,482.1 353.9,479.9 354.1,484.6 354.3,497.5 354.5,515.1 354.8,532.7 355.0,545.6 355.2,550.3 355.5,545.0 355.8,530.5 356.1,510.8 356.5,491.1 356.8,476.6 357.1,471.3 357.3,475.7 357.5,487.6 357.6,503.9 357.8,520.2 358.0,532.1 358.2,536.5 358.5,530.7 358.7,515.0 359.0,493.4 359.3,471.9 359.5,456.1 359.8,450.3 360.1,458.7 360.3,481.8 360.6,513.2 360.9,544.6 361.1,567.7 361.4,576.1 361.7,568.0 361.9,545.9 362.2,515.6 362.5,485.4 362.7,463.2 363.0,455.1 363.3,460.3 363.7,474.6 364.0,494.2 364.3,513.7 364.7,528.0 365.0,533.2 365.2,530.0 365.5,521.2 365.7,509.2 365.9,497.2 366.2,488.4 366.4,485.2 366.7,489.6 367.1,501.7 367.4,518.2 367.7,534.8 368.1,546.9 368.4,551.3 368.7,545.1 368.9,528.0 369.2,504.6 369.5,481.3 369.7,464.2 370.0,458.0 370.3,465.2 370.6,485.0 370.9,512.0 371.3,539.1 371.6,558.9 371.9,566.1 372.1,558.1 372.3,536.1 372.5,506.1 372.7,476.0 372.9,454.0 373.1,446.0 373.4,452.8 373.6,471.4 373.9,496.8 374.1,522.1 374.4,540.7 374.6,547.5 374.9,542.7 375.1,529.6 375.4,511.8 375.7,494.0 375.9,480.9 376.2,476.1 376.4,483.1 376.6,502.2 376.8,528.2 377.0,554.3 377.2,573.4 377.4,580.4 377.7,570.7 377.9,544.1 378.2,507.8 378.5,471.5 378.7,444.9 379.0,435.2 379.3,443.6 379.6,466.6 379.9,498.0 380.2,529.4 380.5,552.4 380.8,560.8 381.0,554.1 381.2,535.8 381.5,510.7 381.7,485.7 381.9,467.3 382.1,460.6 382.3,467.5 382.5,486.4 382.7,512.1 382.9,537.9 383.1,556.8 383.3,563.7 383.6,554.3 383.9,528.6 384.2,493.6 384.5,458.5 384.8,432.8 385.1,423.4 385.4,434.7 385.6,465.5 385.9,507.6 386.2,549.8 386.4,580.6 386.7,591.9 386.9,581.4 387.1,552.7 387.3,513.5 387.5,474.4 387.7,445.7 387.9,435.2 388.2,444.9 388.5,471.5 388.8,507.8 389.0,544.1 389.3,570.7 389.6,580.4 389.8,570.7 390.1,544.2 390.3,508.1 390.5,472.0 390.8,445.5 391.0,435.8 391.2,444.6 391.5,468.7 391.7,501.6 391.9,534.6 392.2,558.7 392.4,567.5 392.7,560.1 393.0,539.9 393.2,512.2 393.5,484.6 393.8,464.4 394.1,457.0 394.4,462.9 394.6,479.0 394.9,501.1 395.1,523.1 395.4,539.2 395.6,545.1 395.8,540.5 396.0,528.1 396.1,511.1 396.3,494.1 396.5,481.7 396.7,477.1 396.9,481.3 397.2,492.9 397.4,508.7 397.6,524.5 397.9,536.1 398.1,540.3 398.4,535.7 398.6,523.3 398.9,506.3 399.1,489.3 399.4,476.9 399.6,472.3 399.8,476.7 400.1,488.8 400.3,505.3 400.5,521.9 400.8,534.0 401.0,538.4 401.3,534.0 401.6,521.9 401.9,505.4 402.1,488.8 402.4,476.7 402.7,472.3 402.9,476.6 403.1,488.4 403.3,504.4 403.5,520.5 403.7,532.2 403.9,536.5 404.2,532.2 404.5,520.6 404.8,504.7 405.0,488.7 405.3,477.1 405.6,472.8 405.8,477.7 405.9,491.2 406.1,509.6 406.2,528.1 406.4,541.6 406.5,546.5 406.8,541.7 407.1,528.5 407.4,510.6 407.6,492.6 407.9,479.5 408.2,474.7 408.4,480.2 408.5,495.1 408.6,515.4 408.8,535.8 409.0,550.6 409.1,556.1 409.4,550.2 409.6,534.1 409.9,512.1 410.2,490.0 410.4,473.9 410.7,468.0 410.9,471.2 411.1,479.9 411.3,491.8 411.5,503.7 411.7,512.4 411.9,515.6 412.1,514.5 412.3,511.6 412.5,507.6 412.8,503.6 413.0,500.6 413.2,499.6 413.4,501.5 413.6,506.9 413.8,514.2 414.0,521.6 414.2,526.9 414.4,528.9 414.6,526.1 414.9,518.5 415.1,508.0 415.3,497.6 415.6,489.9 415.8,487.1 416.0,488.7 416.2,493.2 416.4,499.2 416.6,505.3 416.8,509.7 417.0,511.4 417.2,509.8 417.4,505.6 417.6,499.9 417.8,494.2 418.0,490.0 418.2,488.5 418.4,491.3 418.5,498.8 418.6,509.1 418.8,519.5 419.0,527.0 419.1,529.8 419.4,525.7 419.6,514.6 419.9,499.3 420.1,484.1 420.4,473.0 420.6,468.9 420.8,475.2 421.0,492.2 421.2,515.6 421.4,538.9 421.6,556.0 421.8,562.3 422.1,554.1 422.3,531.8 422.6,501.3 422.9,470.8 423.1,448.5 423.4,440.3 423.6,449.8 423.9,475.6 424.1,510.8 424.4,546.1 424.6,571.9 424.9,581.4 425.2,570.8 425.5,541.8 425.8,502.1 426.0,462.5 426.3,433.4 426.6,422.8 426.8,432.7 427.0,459.7 427.2,496.6 427.5,533.5 427.7,560.5 427.9,570.4 428.2,564.4 428.4,548.0 428.7,525.6 429.0,503.3 429.2,486.9 429.5,480.9 429.7,484.9 429.9,495.9 430.1,510.8 430.2,525.8 430.4,536.8 430.6,540.8 430.8,537.2 431.1,527.2 431.3,513.7 431.5,500.2 431.8,490.2 432.0,486.6 432.2,489.2 432.5,496.4 432.8,506.3 433.0,516.1 433.2,523.4 433.5,526.0 433.7,522.6 434.0,513.3 434.2,500.6 434.4,487.8 434.7,478.5 434.9,475.1 435.1,480.4 435.4,495.0 435.6,514.9 435.8,534.7 436.1,549.3 436.3,554.6 436.5,549.1 436.7,534.2 437.0,513.9 437.2,493.6 437.4,478.7 437.6,473.2 437.9,475.7 438.2,482.6 438.4,492.0 438.7,501.4 439.0,508.2 439.2,510.7 439.5,509.7 439.8,506.9 440.1,503.0 440.3,499.1 440.6,496.2 440.9,495.2 441.2,496.6 441.5,500.3 441.8,505.5 442.1,510.6 442.4,514.4 442.6,515.7 442.9,513.0 443.2,505.4 443.5,495.0 443.8,484.6 444.1,477.0 444.4,474.2 444.6,478.0 444.9,488.3 445.1,502.5 445.4,516.6 445.6,527.0 445.9,530.8 446.2,527.3 446.5,517.9 446.8,504.9 447.0,491.9 447.3,482.5 447.6,479.0 447.9,482.2 448.1,491.1 448.4,503.2 448.7,515.3 448.9,524.2 449.2,527.4 449.4,525.4 449.6,519.8 449.9,512.2 450.1,504.7 450.3,499.1 450.5,497.1 450.7,498.0 450.9,500.4 451.0,503.7 451.2,507.0 451.4,509.4 451.6,510.3 451.7,508.4 451.9,503.5 452.1,496.8 452.2,490.0 452.4,485.1 452.6,483.3 452.8,487.3 453.0,498.3 453.1,513.2 453.3,528.2 453.5,539.2 453.7,543.2 453.9,539.8 454.0,530.4 454.2,517.7 454.4,504.9 454.5,495.5 454.7,492.1 454.9,493.3 455.1,496.7 455.3,501.4 455.5,506.0 455.7,509.4 455.9,510.6 456.1,509.8 456.3,507.6 456.5,504.6 456.7,501.5 456.9,499.3 457.1,498.5 457.3,499.6 457.5,502.7 457.7,507.0 457.9,511.2 458.1,514.4 458.3,515.5 458.6,513.5 458.9,507.9 459.1,500.4 459.4,492.8 459.7,487.2 460.0,485.2 460.2,487.1 460.4,492.3 460.5,499.5 460.7,506.6 460.9,511.9 461.1,513.8 461.2,513.0 461.4,510.8 461.6,507.8 461.8,504.7 462.0,502.5 462.1,501.7 462.3,503.5 462.5,508.4 462.7,515.1 462.8,521.7 463.0,526.6 463.2,528.4 463.5,525.0 463.8,515.6 464.1,502.8 464.4,490.0 464.7,480.6 465.0,477.2 465.3,480.4 465.6,489.1 465.9,500.9 466.3,512.8 466.6,521.4 466.9,524.6 467.2,521.8 467.6,514.0 467.9,503.5 468.3,492.9 468.6,485.1 469.0,482.3 469.2,484.4 469.3,490.0 469.5,497.7 469.7,505.4 469.9,511.0 470.0,513.1 470.2,512.2 470.4,509.8 470.6,506.6 470.7,503.3 470.9,501.0 471.1,500.1 471.2,501.6 471.4,505.7 471.6,511.4 471.8,517.0 471.9,521.2 472.1,522.7 472.3,521.3 472.6,517.5 472.8,512.2 473.0,507.0 473.2,503.1 473.5,501.7 473.7,502.4 473.9,504.3 474.1,506.9 474.4,509.5 474.6,511.4 474.8,512.1 475.1,509.7 475.3,503.1 475.5,494.1 475.7,485.1 476.0,478.5 476.2,476.1 476.4,482.1 476.6,498.6 476.8,521.1 477.0,543.6 477.2,560.1 477.4,566.1 477.6,557.7 477.9,534.6 478.1,503.1 478.3,471.5 478.6,448.4 478.8,440.0 479.0,448.8 479.3,472.8 479.5,505.6 479.7,538.5 480.0,562.5 480.2,571.3 480.4,566.6 480.6,553.6 480.9,536.0 481.1,518.3 481.3,505.4 481.5,500.7 481.7,501.5 481.9,503.6 482.1,506.6 482.4,509.5 482.6,511.7 482.8,512.5 483.0,510.2 483.2,504.2 483.5,495.9 483.7,487.7 483.9,481.6 484.1,479.4 484.2,482.6 484.4,491.2 484.6,502.9 484.7,514.7 484.9,523.3 485.0,526.5 485.3,524.9 485.5,520.4 485.8,514.2 486.0,508.1 486.3,503.6 486.6,501.9 486.8,503.6 487.1,508.3 487.3,514.7 487.6,521.0 487.8,525.7 488.1,527.4 488.6,524.5 489.0,516.4 489.5,505.4 489.9,494.5 490.4,486.4 490.8,483.5 491.1,486.9 491.5,496.1 491.9,508.8 492.2,521.5 492.5,530.7 492.9,534.1 493.3,531.3 493.7,523.5 494.1,512.9 494.5,502.2 494.9,494.4 495.3,491.6 495.5,494.5 495.8,502.6 496.0,513.5 496.2,524.5 496.5,532.6 496.7,535.5 496.9,532.7 497.2,525.2 497.4,515.0 497.6,504.7 497.9,497.2 498.1,494.4 498.6,496.4 499.1,502.0 499.6,509.7 500.0,517.4 500.5,523.0 501.0,525.0 501.3,521.8 501.6,513.1 501.9,501.2 502.1,489.2 502.4,480.5 502.7,477.3 503.0,481.0 503.2,491.0 503.5,504.8 503.8,518.5 504.0,528.5 504.3,532.2 504.6,529.5 505.0,522.2 505.4,512.2 505.7,502.1 506.0,494.8 506.4,492.1 506.7,494.9 507.0,502.7 507.4,513.4 507.7,524.0 508.0,531.8 508.3,534.6 508.7,530.4 509.1,518.8 509.6,503.1 510.0,487.3 510.4,475.7 510.8,471.5 511.0,477.2 511.2,492.8 511.5,514.0 511.7,535.3 511.9,550.9 512.1,556.6 512.4,550.2 512.6,532.7 512.9,508.8 513.2,484.9 513.4,467.4 513.7,461.0 514.0,466.2 514.2,480.3 514.5,499.7 514.8,519.0 515.0,533.2 515.3,538.4 515.6,533.8 515.9,521.3 516.1,504.2 516.4,487.2 516.7,474.7 517.0,470.1 517.2,474.4 517.4,486.1 517.6,502.1 517.8,518.1 518.0,529.8 518.2,534.1 518.6,531.2 518.9,523.1 519.3,512.1 519.7,501.1 520.0,493.0 520.4,490.1 520.7,492.5 520.9,499.2 521.2,508.3 521.5,517.4 521.7,524.1 522.0,526.5 522.3,524.7 522.6,519.7 522.9,513.0 523.2,506.2 523.5,501.3 523.8,499.5 524.1,500.4 524.4,502.9 524.8,506.3 525.1,509.8 525.4,512.3 525.7,513.2 526.0,511.6 526.3,507.2 526.6,501.2 526.9,495.2 527.2,490.8 527.5,489.2 527.7,492.0 527.9,499.6 528.1,510.0 528.3,520.4 528.5,528.0 528.7,530.8 528.9,528.3 529.1,521.6 529.3,512.4 529.5,503.2 529.7,496.5 529.9,494.0 530.1,495.5 530.3,499.5 530.6,505.1 530.8,510.6 531.0,514.7 531.2,516.2 531.5,515.3 531.7,512.8 531.9,509.5 532.1,506.1 532.3,503.7 532.6,502.8 532.8,503.9 533.0,506.8 533.2,510.8 533.5,514.8 533.7,517.7 533.9,518.8 534.1,516.1 534.2,508.9 534.4,499.0 534.6,489.1 534.7,481.9 534.9,479.2 535.1,481.5 535.4,487.8 535.6,496.4 535.8,505.0 536.1,511.3 536.3,513.6 536.5,511.0 536.8,504.0 537.0,494.3 537.2,484.6 537.5,477.5 537.7,474.9 538.0,479.7 538.3,492.8 538.5,510.7 538.8,528.6 539.1,541.7 539.4,546.5 539.7,541.3 540.0,527.2 540.2,507.9 540.5,488.6 540.8,474.5 541.1,469.3 541.4,474.0 541.7,486.9 542.0,504.5 542.2,522.2 542.5,535.1 542.8,539.8 543.0,535.6 543.2,524.3 543.5,508.8 543.7,493.2 543.9,481.9 544.1,477.7 544.5,481.2 544.8,490.6 545.2,503.5 545.6,516.4 545.9,525.8 546.3,529.3 546.6,526.0 546.9,517.0 547.2,504.7 547.6,492.4 547.9,483.4 548.2,480.1 548.5,483.5 548.7,492.7 549.0,505.4 549.2,518.0 549.5,527.2 549.7,530.6 550.0,527.2 550.3,518.0 550.5,505.4 550.8,492.7 551.1,483.5 551.4,480.1 551.7,485.3 552.0,499.3 552.3,518.5 552.7,537.8 553.0,551.8 553.3,557.0 553.6,551.8 554.0,537.8 554.3,518.6 554.7,499.3 555.0,485.3 555.4,480.1 555.7,482.4 556.0,488.7 556.3,497.2 556.6,505.8 556.9,512.1 557.1,514.4 557.4,513.1 557.7,509.6 558.0,504.9 558.3,500.1 558.6,496.7 558.9,495.4 559.2,498.2 559.6,506.0 559.9,516.6 560.2,527.3 560.6,535.1 560.9,537.9 561.2,532.4 561.5,517.4 561.8,496.9 562.1,476.5 562.4,461.5 562.7,456.0 563.0,462.2 563.3,479.1 563.6,502.2 563.9,525.3 564.2,542.2 564.5,548.4 564.8,542.5 565.1,526.3 565.5,504.2 565.8,482.2 566.1,466.0 566.4,460.1 566.8,466.1 567.2,482.6 567.6,505.0 568.0,527.4 568.4,543.9 568.8,549.9 569.0,544.9 569.3,531.2 569.5,512.6 569.7,493.9 570.0,480.3 570.2,475.3 570.4,479.8 570.7,492.0 570.9,508.8 571.1,525.5 571.4,537.7 571.6,542.2 572.0,537.6 572.3,525.1 572.7,508.0 573.1,490.8 573.4,478.3 573.8,473.7 574.1,476.8 574.5,485.2 574.8,496.7 575.2,508.3 575.5,516.7 575.9,519.8 576.2,518.4 576.5,514.5 576.8,509.2 577.0,504.0 577.3,500.1 577.6,498.7 577.9,500.7 578.2,506.2 578.5,513.8 578.9,521.4 579.2,526.9 579.5,528.9 579.9,526.0 580.2,518.1 580.5,507.4 580.9,496.6 581.2,488.7 581.6,485.8 582.0,487.5 582.3,492.3 582.7,498.8 583.0,505.2 583.4,510.0 583.8,511.7 584.1,510.0 584.5,505.2 584.8,498.8 585.2,492.3 585.5,487.5 585.9,485.8 586.1,489.6 586.4,500.2 586.6,514.5 586.9,528.9 587.1,539.4 587.4,543.2 587.7,539.0 587.9,527.7 588.2,512.2 588.5,496.6 588.7,485.3 589.0,481.1 589.3,484.5 589.7,493.9 590.0,506.7 590.3,519.4 590.7,528.8 591.0,532.2 591.2,528.0 591.5,516.4 591.7,500.6 591.9,484.8 592.2,473.2 592.4,469.0 592.8,474.0 593.1,487.8 593.5,506.6 593.8,525.3 594.1,539.1 594.5,544.1 594.7,540.2 594.9,529.4 595.1,514.8 595.3,500.1 595.5,489.3 595.7,485.4 596.0,487.3 596.2,492.3 596.5,499.3 596.7,506.2 597.0,511.3 597.2,513.1 597.5,511.2 597.8,505.7 598.0,498.3 598.3,490.9 598.5,485.5 598.8,483.5 599.0,487.0 599.2,496.5 599.4,509.5 599.6,522.5 599.8,532.0 600.0,535.5 600.3,531.5 600.6,520.5 601.0,505.4 601.3,490.4 601.6,479.3 601.9,475.3 602.1,477.7 602.3,484.2 602.5,493.2 602.8,502.1 603.0,508.6 603.2,511.0 603.4,510.2 603.6,508.0 603.8,505.0 604.1,502.0 604.3,499.8 604.5,499.0 604.7,501.0 604.9,506.4 605.1,513.7 605.4,521.1 605.6,526.4 605.8,528.4 606.1,524.5 606.3,513.8 606.6,499.2 606.9,484.7 607.1,474.0 607.4,470.1 607.8,474.8 608.1,487.6 608.5,505.2 608.8,522.8 609.1,535.6 609.5,540.3 609.7,537.5 610.0,529.9 610.2,519.5 610.4,509.1 610.6,501.5 610.9,498.7 611.1,499.5 611.3,501.6 611.5,504.5 611.8,507.5 612.0,509.6 612.2,510.4 612.5,508.2 612.7,502.3 612.9,494.3 613.1,486.2 613.4,480.4 613.6,478.2 613.9,481.0 614.1,488.5 614.4,498.7 614.6,509.0 614.9,516.5 615.1,519.3 615.4,517.1 615.7,511.0 616.0,502.8 616.2,494.6 616.5,488.5 616.8,486.3 617.0,488.7 617.2,495.3 617.3,504.2 617.5,513.2 617.7,519.8 617.9,522.2 618.3,519.7 618.7,512.7 619.1,503.2 619.5,493.7 619.9,486.7 620.3,484.2 620.6,487.4 620.9,496.3 621.1,508.4 621.4,520.6 621.7,529.5 622.0,532.7 622.2,528.9 622.5,518.7 622.8,504.7 623.0,490.6 623.2,480.4 623.5,476.6 623.8,479.0 624.1,485.6 624.4,494.5 624.7,503.5 625.0,510.0 625.2,512.4 625.5,510.7 625.8,506.1 626.1,499.9 626.4,493.6 626.7,489.0 627.0,487.3 627.1,490.3 627.3,498.5 627.5,509.8 627.6,521.0 627.8,529.2 627.9,532.2 628.3,528.3 628.7,517.8 629.1,503.3 629.5,488.9 629.9,478.3 630.3,474.4 630.5,476.9 630.8,483.6 631.0,492.8 631.3,502.0 631.5,508.8 631.7,511.3 632.0,510.7 632.2,509.3 632.5,507.4 632.7,505.5 632.9,504.1 633.2,503.5 633.4,505.4 633.6,510.6 633.9,517.6 634.1,524.7 634.4,529.8 634.6,531.7 634.9,529.1 635.1,521.9 635.4,512.1 635.6,502.3 635.9,495.1 636.1,492.5 636.4,494.7 636.7,500.6 637.0,508.8 637.4,516.9 637.7,522.8 638.0,525.0 638.2,522.5 638.4,515.6 638.5,506.2 638.7,496.7 638.9,489.8 639.1,487.3 639.2,489.0 639.4,493.5 639.5,499.7 639.7,506.0 639.8,510.5 640.0,512.2 640.1,510.8 640.2,506.9 640.4,501.5 640.5,496.2 640.7,492.3 640.8,490.9 641.0,493.3 641.2,500.0 641.3,509.1 641.5,518.3 641.7,525.0 641.9,527.4 642.8,524.1 643.6,515.2 644.5,502.9 645.3,490.7 646.1,481.8 647.0,478.5 647.4,481.3 647.9,488.8 648.3,499.1 648.7,509.4 649.2,516.9 649.6,519.7 650.1,517.2 650.6,510.4 651.2,501.1 651.7,491.7 652.2,484.9 652.7,482.4 653.0,485.6 653.4,494.2 653.7,506.1 654.0,517.9 654.4,526.5 654.7,529.7 655.5,526.1" stroke="#000" stroke-width="1.05" fill="none" stroke-linejoin="round"/>
<path d="M655.5,526.1 656.4,516.2 657.2,502.8 658.0,489.4 658.9,479.5 659.7,475.9 660.3,481.0 660.9,495.0 661.5,514.0 662.1,533.1 662.7,547.1 663.3,552.2 663.8,545.8 664.3,528.2 664.8,504.1 665.4,480.1 665.9,462.4 666.4,456.0 667.0,462.4 667.5,480.0 668.1,503.9 668.7,527.9 669.2,545.5 669.8,551.9 670.2,547.6 670.6,535.7 671.0,519.5 671.5,503.2 671.9,491.3 672.3,487.0 672.6,489.7 673.0,497.3 673.3,507.5 673.7,517.8 674.0,525.3 674.4,528.0 674.8,523.1 675.1,509.8 675.5,491.5 675.8,473.2 676.1,459.8 676.5,454.9 676.8,462.0 677.0,481.5 677.2,508.1 677.5,534.6 677.8,554.1 678.0,561.2 678.3,556.2 678.7,542.7 679.0,524.1 679.3,505.6 679.7,492.0 680.0,487.0 680.8,490.5 681.6,500.0 682.4,513.0 683.1,526.0 683.9,535.5 684.7,539.0 685.1,535.1 685.6,524.5 686.0,510.1 686.4,495.6 686.9,485.0 687.3,481.1 688.0,484.7 688.7,494.6 689.4,508.2 690.1,521.7 690.8,531.6 691.5,535.2 691.9,530.8 692.3,518.7 692.8,502.2 693.2,485.7 693.6,473.6 694.0,469.2 694.5,475.1 695.0,491.1 695.5,512.9 696.1,534.8 696.6,550.7 697.1,556.6 697.5,550.7 697.9,534.6 698.2,512.6 698.6,490.7 699.0,474.6 699.4,468.7 700.3,473.0 701.2,484.7 702.1,500.7 703.0,516.8 703.9,528.5 704.8,532.8 705.6,528.4 706.5,516.2 707.3,499.7 708.1,483.2 709.0,471.0 709.8,466.6 710.1,475.3 710.5,499.2 710.8,531.8 711.1,564.3 711.5,588.2 711.8,596.9 712.2,587.6 712.6,562.1 713.0,527.2 713.4,492.4 713.8,466.9 714.2,457.6 715.0,464.2 715.7,482.4 716.5,507.1 717.2,531.9 718.0,550.0 718.7,556.6 719.4,551.0 720.1,535.6 720.9,514.7 721.6,493.8 722.3,478.4 723.0,472.8 723.4,479.0 723.8,495.9 724.1,519.1 724.5,542.2 724.9,559.2 725.3,565.4 725.7,559.9 726.1,544.9 726.5,524.3 726.9,503.8 727.3,488.7 727.7,483.2 728.2,485.9 728.8,493.4 729.4,503.7 729.9,513.9 730.5,521.4 731.0,524.2 731.5,522.0 732.1,516.0 732.6,507.8 733.2,499.6 733.8,493.6 734.3,491.4 734.6,494.5 734.8,503.1 735.1,514.8 735.4,526.6 735.6,535.2 735.9,538.3 736.5,531.3 737.2,512.1 737.8,485.9 738.5,459.7 739.1,440.5 739.8,433.5 740.1,443.9 740.5,472.2 740.8,510.9 741.2,549.5 741.5,577.8 741.9,588.2 742.5,578.5 743.1,551.9 743.7,515.5 744.3,479.2 744.9,452.5 745.5,442.8 745.9,451.9 746.3,476.7 746.6,510.5 747.0,544.4 747.4,569.2 747.8,578.3 748.4,568.8 749.1,542.8 749.8,507.2 750.4,471.7 751.1,445.7 751.7,436.2 752.2,444.6 752.7,467.6 753.2,499.0 753.8,530.5 754.3,553.5 754.8,561.9 755.4,553.8 756.1,531.9 756.8,501.8 757.4,471.8 758.1,449.8 758.7,441.7 759.0,448.5 759.4,467.0 759.7,492.3 760.0,517.6 760.4,536.1 760.7,542.9 761.2,538.1 761.7,525.0 762.2,507.1 762.8,489.1 763.3,476.0 763.8,471.2 764.1,475.4 764.5,487.0 764.8,502.7 765.2,518.5 765.5,530.0 765.9,534.2 766.2,530.4 766.6,520.0 767.0,505.8 767.3,491.6 767.6,481.2 768.0,477.4 768.3,482.2 768.7,495.1 769.0,512.9 769.3,530.6 769.7,543.6 770.0,548.4 770.7,542.3 771.4,525.6 772.1,502.8 772.9,479.9 773.6,463.2 774.3,457.1 774.7,463.7 775.0,481.6 775.4,506.2 775.8,530.8 776.1,548.7 776.5,555.3 777.1,548.7 777.8,530.5 778.5,505.8 779.1,481.1 779.8,462.9 780.4,456.3 780.8,463.8 781.3,484.4 781.7,512.4 782.1,540.5 782.6,561.0 783.0,568.5 783.6,559.2 784.3,533.7 785.0,498.9 785.6,464.1 786.2,438.6 786.9,429.3 787.4,440.3 787.8,470.3 788.3,511.3 788.8,552.3 789.2,582.3 789.7,593.3 790.3,580.3 790.8,544.6 791.4,495.9 792.0,447.3 792.5,411.6 793.1,398.6 793.5,414.3 793.9,457.2 794.4,515.8 794.8,574.3 795.2,617.2 795.6,632.9 796.1,617.7 796.6,576.1 797.0,519.2 797.5,462.4 798.0,420.8 798.5,405.6 799.0,421.0 799.6,463.2 800.1,520.8 800.6,578.4 801.2,620.6 801.7,636.0 802.3,621.0 803.0,580.1 803.6,524.3 804.2,468.5 804.9,427.6 805.5,412.6 805.8,425.3 806.2,460.0 806.5,507.4 806.8,554.8 807.2,589.5 807.5,602.2 808.1,590.1 808.7,556.9 809.3,511.7 809.9,466.4 810.5,433.2 811.1,421.1 811.5,433.4 812.0,466.9 812.5,512.6 812.9,558.4 813.3,591.9 813.8,604.2 814.2,592.4 814.7,560.1 815.1,516.0 815.5,471.9 816.0,439.6 816.4,427.8 816.9,438.0 817.4,465.7 818.0,503.6 818.5,541.5 819.0,569.2 819.5,579.4 819.9,570.2 820.3,545.1 820.6,510.9 821.0,476.6 821.4,451.6 821.8,442.4 822.2,451.4 822.6,475.9 823.0,509.3 823.5,542.8 823.9,567.3 824.3,576.3 824.7,565.4 825.1,535.7 825.5,495.1 825.8,454.4 826.2,424.7 826.6,413.8 827.0,425.0 827.4,455.8 827.8,497.8 828.2,539.7 828.6,570.5 829.0,581.7 829.5,572.2 830.0,546.1 830.5,510.6 830.9,475.0 831.4,448.9 831.9,439.4 832.4,447.2 832.8,468.4 833.3,497.5 833.8,526.5 834.2,547.8 834.7,555.6 835.1,548.2 835.5,528.0 835.9,500.4 836.2,472.8 836.6,452.6 837.0,445.2 837.5,453.5 838.0,476.2 838.5,507.2 839.1,538.3 839.6,561.0 840.1,569.3 840.5,560.2 841.0,535.4 841.5,501.4 841.9,467.4 842.3,442.6 842.8,433.5 843.2,443.0 843.6,468.9 844.0,504.4 844.3,539.8 844.7,565.7 845.1,575.2 845.5,567.1 845.9,545.0 846.4,514.9 846.8,484.7 847.2,462.6 847.6,454.5 848.1,460.6 848.6,477.2 849.0,499.9 849.5,522.6 850.0,539.2 850.5,545.3 850.8,539.1 851.2,522.0 851.5,498.7 851.8,475.4 852.2,458.3 852.5,452.1 852.9,459.7 853.3,480.4 853.7,508.8 854.1,537.1 854.5,557.8 854.9,565.4 855.4,557.4 855.9,535.6 856.5,505.9 857.0,476.1 857.5,454.4 858.0,446.4 858.3,457.2 858.7,486.8 859.0,527.2 859.3,567.7 859.7,597.3 860.0,608.1 860.5,594.9 860.9,558.9 861.4,509.8 861.9,460.6 862.3,424.6 862.8,411.4 863.2,424.6 863.5,460.6 863.9,509.9 864.3,559.1 864.6,595.2 865.0,608.4 865.5,596.1 866.0,562.5 866.5,516.5 867.1,470.6 867.6,436.9 868.1,424.6 868.6,435.9 869.1,466.6 869.6,508.6 870.1,550.6 870.6,581.3 871.1,592.6 871.6,583.0 872.1,556.6 872.5,520.6 873.0,484.7 873.5,458.3 874.0,448.7 874.4,455.9 874.7,475.4 875.0,502.1 875.4,528.9 875.8,548.4 876.1,555.6 876.5,549.2 876.8,531.8 877.2,508.0 877.6,484.1 877.9,466.7 878.3,460.3 878.7,466.5 879.1,483.4 879.5,506.4 880.0,529.5 880.4,546.3 880.8,552.5 881.2,544.7 881.5,523.5 881.9,494.6 882.3,465.6 882.6,444.5 883.0,436.7 883.4,447.1 883.8,475.6 884.2,514.6 884.7,553.5 885.1,582.1 885.5,592.5 886.0,579.5 886.4,544.0 886.9,495.4 887.3,446.9 887.8,411.3 888.2,398.3 888.6,415.7 889.0,463.3 889.4,528.3 889.7,593.4 890.1,641.0 890.5,658.4 890.9,637.6 891.3,581.0 891.7,503.5 892.1,426.1 892.5,369.4 892.9,348.6 893.4,370.7 893.8,431.1 894.3,513.7 894.8,596.2 895.2,656.7 895.7,678.8 896.1,657.1 896.5,597.8 896.9,516.8 897.2,435.8 897.6,376.5 898.0,354.8 898.5,374.3 898.9,427.5 899.4,500.3 899.8,573.0 900.2,626.3 900.7,645.8 901.1,627.6 901.5,577.9 901.9,510.0 902.3,442.1 902.7,392.4 903.1,374.2 903.5,389.8 903.9,432.3 904.4,490.4 904.8,548.5 905.2,591.0 905.6,606.6 906.0,593.4 906.4,557.4 906.9,508.2 907.3,459.1 907.7,423.1 908.1,409.9 908.4,422.1 908.8,455.3 909.1,500.8 909.4,546.2 909.8,579.5 910.1,591.7 910.6,580.4 911.1,549.4 911.6,507.0 912.1,464.7 912.6,433.6 913.1,422.3 913.4,434.3 913.7,467.2 914.0,512.1 914.2,557.0 914.5,589.9 914.8,601.9 915.3,589.2 915.8,554.7 916.2,507.4 916.7,460.2 917.2,425.7 917.7,413.0 918.1,425.5 918.5,459.6 918.9,506.3 919.2,553.0 919.6,587.1 920.0,599.6 920.5,586.8 920.9,551.8 921.4,504.0 921.9,456.1 922.3,421.1 922.8,408.3 923.2,421.0 923.7,455.5 924.1,502.8 924.6,550.0 925.0,584.5 925.5,597.2 926.0,584.4 926.4,549.6 926.9,502.0 927.4,454.4 927.8,419.6 928.3,406.8 928.7,419.2 929.1,452.9 929.5,499.1 929.9,545.2 930.3,579.0 930.7,591.4 931.1,581.8 931.4,555.7 931.8,520.0 932.2,484.4 932.5,458.3 932.9,448.7 933.3,453.7 933.6,467.3 934.0,485.9 934.4,504.4 934.7,518.0 935.1,523.0 935.4,520.2 935.8,512.5 936.2,502.0 936.5,491.5 936.9,483.8 937.3,480.9 937.6,483.3 938.0,489.6 938.3,498.3 938.7,507.0 939.1,513.4 939.4,515.7 939.8,514.2 940.2,510.0 940.5,504.2 940.9,498.4 941.3,494.2 941.6,492.7 942.0,497.2 942.3,509.8 942.7,526.9 943.1,544.1 943.4,556.6 943.8,561.2 944.1,551.9 944.5,526.7 944.8,492.2 945.1,457.6 945.5,432.4 945.8,423.1 946.2,434.7 946.7,466.2 947.1,509.4 947.6,552.5 948.0,584.1 948.5,595.7 949.0,582.4 949.4,546.2 949.9,496.6 950.3,447.1 950.8,410.8 951.2,397.5 951.6,412.8 952.0,454.6 952.5,511.7 952.9,568.8 953.3,610.6 953.7,625.9 954.1,608.0 954.5,559.1 955.0,492.3 955.4,425.5 955.8,376.6 956.2,358.7 956.6,377.7 956.9,429.5 957.3,500.3 957.7,571.1 958.0,622.9 958.4,641.9 958.8,626.2 959.2,583.3 959.6,524.8 960.0,466.2 960.4,423.3 960.8,407.6 961.3,420.7 961.7,456.6 962.2,505.6 962.7,554.5 963.1,590.4 963.6,603.5 964.0,590.1 964.4,553.4 964.8,503.4 965.2,453.3 965.6,416.6 966.0,403.2 966.4,415.9 966.7,450.7 967.0,498.2 967.4,545.8 967.8,580.6 968.1,593.3 968.6,581.2 969.0,548.0 969.5,502.8 970.0,457.5 970.4,424.3 970.9,412.2 971.2,427.1 971.6,467.7 972.0,523.1 972.3,578.6 972.6,619.2 973.0,634.1 973.4,615.9 973.9,566.2 974.3,498.4 974.7,430.5 975.2,380.8 975.6,362.6 976.0,381.5 976.4,433.2 976.8,503.9 977.2,574.5 977.6,626.2 978.0,645.1 978.5,624.9 979.0,569.8 979.5,494.6 980.0,419.3 980.5,364.2 981.0,344.0 981.4,367.2 981.7,430.6 982.1,517.1 982.5,603.6 982.8,667.0 983.2,690.2 983.6,668.7 984.0,609.9 984.5,529.5 984.9,449.2 985.3,390.3 985.7,368.8 986.1,384.6 986.5,427.9 987.0,486.9 987.4,546.0 987.8,589.3 988.2,605.1 988.7,592.9 989.2,559.4 989.7,513.7 990.1,468.0 990.6,434.5 991.1,422.3 991.5,432.3 992.0,459.8 992.4,497.2 992.8,534.6 993.3,562.1 993.7,572.1 994.4,564.0 995.1,541.9 995.8,511.7 996.4,481.5 997.1,459.4 997.8,451.3 998.2,461.0 998.5,487.5 998.9,523.7 999.3,559.9 999.6,586.4 1000.0,596.1 1000.5,582.7 1000.9,546.1 1001.4,496.0 1001.8,446.0 1002.2,409.3 1002.7,395.9 1003.1,412.7 1003.5,458.7 1003.9,521.4 1004.2,584.2 1004.6,630.2 1005.0,647.0 1005.5,629.6 1005.9,582.1 1006.4,517.2 1006.8,452.3 1007.2,404.8 1007.7,387.4 1008.1,403.5 1008.5,447.6 1009.0,507.8 1009.4,567.9 1009.8,612.0 1010.2,628.1 1010.6,612.1 1011.1,568.5 1011.5,508.9 1011.9,449.3 1012.4,405.7 1012.8,389.7 1013.2,401.5 1013.6,433.8 1014.0,478.0 1014.4,522.1 1014.8,554.5 1015.2,566.3 1016.1,558.8 1017.0,538.2 1017.9,510.2 1018.8,482.2 1019.7,461.6 1020.6,454.1 1021.0,462.8 1021.3,486.8 1021.7,519.4 1022.0,552.1 1022.4,576.0 1022.7,584.7 1023.2,572.8 1023.7,540.4 1024.2,496.2 1024.7,451.9 1025.2,419.5 1025.7,407.6 1026.0,422.6 1026.4,463.6 1026.7,519.6 1027.0,575.7 1027.4,616.7 1027.7,631.7 1028.1,613.8 1028.6,564.7 1029.0,497.8 1029.4,430.8 1029.9,381.7 1030.3,363.8 1030.7,381.9 1031.2,431.4 1031.6,498.9 1032.0,566.5 1032.5,616.0 1032.9,634.1 1033.3,617.5 1033.7,572.2 1034.1,510.4 1034.5,448.5 1034.9,403.2 1035.3,386.6 1035.7,403.7 1036.1,450.4 1036.4,514.1 1036.8,577.9 1037.2,624.5 1037.6,641.6 1038.0,623.5 1038.4,574.1 1038.8,506.6 1039.2,439.1 1039.6,389.7 1040.0,371.6 1040.4,386.8 1040.9,428.3 1041.3,484.9 1041.7,541.6 1042.2,583.1 1042.6,598.3 1043.1,587.2 1043.6,557.0 1044.2,515.8 1044.7,474.5 1045.2,444.3 1045.7,433.2 1046.0,442.2 1046.4,466.8 1046.8,500.3 1047.1,533.8 1047.5,558.4 1047.8,567.4 1048.3,560.5 1048.8,541.8 1049.3,516.2 1049.8,490.6 1050.3,471.9 1050.8,465.0 1051.3,469.1 1051.8,480.4 1052.2,495.7 1052.7,511.1 1053.2,522.3 1053.7,526.4 1054.2,523.9 1054.6,516.9 1055.1,507.4 1055.6,497.9 1056.1,491.0 1056.6,488.4 1057.1,491.3 1057.5,499.0 1058.0,509.6 1058.5,520.2 1059.0,528.0 1059.5,530.8 1059.9,527.5 1060.4,518.3 1060.9,505.9 1061.4,493.4 1061.9,484.2 1062.3,480.9 1062.8,484.5 1063.3,494.3 1063.8,507.7 1064.3,521.2 1064.7,531.0 1065.2,534.6 1065.7,531.5 1066.2,523.0 1066.7,511.4 1067.2,499.7 1067.6,491.2 1068.1,488.1 1068.6,493.3 1069.1,507.6 1069.6,527.0 1070.0,546.5 1070.5,560.7 1071.0,565.9 1071.5,557.0 1072.0,532.7 1072.5,499.6 1073.1,466.4 1073.6,442.1 1074.1,433.2 1074.4,444.5 1074.7,475.4 1075.0,517.5 1075.4,559.7 1075.7,590.6 1076.0,601.9 1076.6,589.5 1077.2,555.6 1077.8,509.4 1078.3,463.1 1078.9,429.3 1079.5,416.9 1079.9,427.4 1080.3,456.0 1080.7,495.1 1081.0,534.3 1081.4,562.9 1081.8,573.4 1082.3,565.7 1082.9,544.7 1083.4,516.0 1083.9,487.2 1084.5,466.2 1085.0,458.5 1085.5,464.8 1085.9,482.1 1086.4,505.7 1086.9,529.3 1087.3,546.6 1087.8,552.9 1088.2,547.3 1088.7,531.9 1089.1,510.9 1089.5,489.8 1090.0,474.4 1090.4,468.8 1090.9,476.2 1091.4,496.6 1091.8,524.4 1092.3,552.2 1092.8,572.6 1093.3,580.0 1093.7,569.5 1094.1,540.8 1094.5,501.6 1095.0,462.3 1095.4,433.6 1095.8,423.1 1096.2,433.0 1096.5,460.2 1096.9,497.2 1097.3,534.3 1097.6,561.5 1098.0,571.4 1098.4,562.4 1098.8,537.8 1099.2,504.2 1099.7,470.6 1100.1,446.0 1100.5,437.0 1100.9,445.1 1101.2,467.4 1101.6,497.8 1102.0,528.1 1102.3,550.4 1102.7,558.5 1103.1,551.1 1103.5,531.0 1103.8,503.6 1104.2,476.1 1104.6,456.0 1105.0,448.6 1105.3,456.4 1105.6,477.5 1106.0,506.4 1106.3,535.4 1106.6,556.5 1106.9,564.3 1107.3,556.1 1107.7,533.8 1108.1,503.3 1108.4,472.8 1108.8,450.5 1109.2,442.3 1109.6,453.2 1110.0,483.2 1110.3,524.0 1110.7,564.9 1111.1,594.8 1111.5,605.7 1111.9,590.4 1112.3,548.7 1112.7,491.7 1113.0,434.6 1113.4,392.9 1113.8,377.6 1114.2,395.2 1114.5,443.1 1114.8,508.6 1115.2,574.1 1115.6,622.0 1115.9,639.6 1116.4,622.1 1116.9,574.3 1117.4,509.0 1117.9,443.6 1118.4,395.8 1118.9,378.3 1119.2,395.0 1119.6,440.7 1119.9,503.0 1120.2,565.4 1120.6,611.1 1120.9,627.8 1121.3,614.7 1121.8,578.8 1122.2,529.9 1122.6,480.9 1123.1,445.0 1123.5,431.9 1123.9,440.0 1124.2,461.9 1124.6,492.0 1125.0,522.0 1125.3,544.0 1125.7,552.1 1126.0,547.5 1126.3,535.0 1126.6,517.9 1126.9,500.8 1127.2,488.3 1127.6,483.7 1127.9,487.4 1128.2,497.5 1128.5,511.3 1128.8,525.0 1129.1,535.1 1129.4,538.8 1129.6,533.2 1129.9,518.0 1130.1,497.3 1130.3,476.6 1130.6,461.4 1130.8,455.8 1131.3,463.3 1131.8,483.7 1132.3,511.6 1132.8,539.6 1133.3,560.0 1133.8,567.5 1134.2,558.1 1134.5,532.5 1134.9,497.4 1135.3,462.4 1135.6,436.7 1136.0,427.3 1136.4,436.7 1136.8,462.2 1137.2,497.2 1137.7,532.1 1138.1,557.7 1138.5,567.1 1138.9,559.4 1139.3,538.5 1139.7,509.9 1140.1,481.2 1140.5,460.3 1140.9,452.6 1141.2,458.9 1141.6,476.2 1141.9,499.8 1142.2,523.3 1142.6,540.6 1142.9,546.9 1143.3,540.9 1143.7,524.5 1144.1,502.1 1144.4,479.6 1144.8,463.2 1145.2,457.2 1145.5,463.7 1145.8,481.5 1146.2,505.7 1146.5,530.0 1146.8,547.8 1147.1,554.3 1147.5,547.3 1147.9,528.2 1148.3,502.1 1148.7,475.9 1149.1,456.8 1149.5,449.8 1149.9,458.0 1150.3,480.5 1150.7,511.2 1151.0,541.9 1151.4,564.4 1151.8,572.6 1152.2,562.6 1152.5,535.1 1152.9,497.7 1153.3,460.2 1153.6,432.8 1154.0,422.8 1154.4,432.3 1154.7,458.4 1155.1,494.0 1155.5,529.7 1155.8,555.8 1156.2,565.3 1156.6,559.6 1156.9,544.1 1157.3,522.9 1157.6,501.7 1158.0,486.2 1158.3,480.5 1158.7,484.5 1159.0,495.4 1159.4,510.3 1159.7,525.2 1160.1,536.1 1160.5,540.1 1160.8,537.0 1161.2,528.5 1161.5,516.9 1161.9,505.3 1162.2,496.8 1162.6,493.7 1162.9,497.0 1163.3,506.3 1163.6,518.8 1164.0,531.4 1164.3,540.6 1164.7,544.0 1165.0,540.7 1165.2,531.9 1165.5,519.7 1165.8,507.6 1166.0,498.7 1166.3,495.4 1166.6,498.1 1166.8,505.6 1167.1,515.7 1167.4,525.8 1167.6,533.2 1167.9,535.9 1168.2,533.5 1168.5,526.8 1168.8,517.8 1169.0,508.7 1169.3,502.1 1169.6,499.6 1169.9,502.7 1170.2,510.9 1170.4,522.2 1170.7,533.4 1171.0,541.7 1171.3,544.7 1171.7,536.7 1172.0,514.7 1172.4,484.8 1172.8,454.8 1173.1,432.8 1173.5,424.8 1174.0,435.2 1174.5,463.6 1175.0,502.4 1175.5,541.2 1176.0,569.6 1176.5,580.0 1176.9,569.2 1177.3,539.9 1177.7,499.8 1178.1,459.6 1178.5,430.3 1178.9,419.5 1179.3,428.2 1179.7,452.1 1180.1,484.7 1180.5,517.3 1180.9,541.2 1181.3,549.9 1181.7,544.2 1182.2,528.7 1182.6,507.4 1183.0,486.2 1183.5,470.7 1183.9,465.0 1184.2,471.8 1184.5,490.4 1184.8,515.9 1185.1,541.3 1185.4,560.0 1185.7,566.8 1186.1,558.8 1186.5,536.9 1186.9,506.9 1187.3,476.9 1187.7,455.0 1188.1,447.0 1188.4,454.4 1188.7,474.6 1189.0,502.1 1189.4,529.6 1189.7,549.8 1190.0,557.2 1190.5,551.3 1191.0,535.0 1191.5,512.9 1192.1,490.7 1192.6,474.4 1193.1,468.5 1193.3,473.4 1193.4,486.6 1193.6,504.8 1193.8,522.9 1193.9,536.1 1194.1,541.0 1194.6,537.0 1195.1,526.2 1195.7,511.4 1196.2,496.6 1196.7,485.7 1197.2,481.8 1197.7,485.8 1198.3,496.7 1198.8,511.5 1199.3,526.4 1199.8,537.3 1200.3,541.3 1200.9,538.3 1201.4,530.0 1201.9,518.7 1202.4,507.4 1203.0,499.1 1203.5,496.1 1204.0,499.9 1204.5,510.1 1205.0,524.1 1205.6,538.1 1206.1,548.4 1206.6,552.1 1206.9,544.8 1207.3,524.8 1207.7,497.6 1208.0,470.3 1208.3,450.3 1208.7,443.0 1209.2,452.0 1209.7,476.5 1210.2,510.1 1210.8,543.6 1211.3,568.1 1211.8,577.1 1212.1,568.8 1212.4,546.1 1212.8,515.0 1213.1,483.9 1213.4,461.2 1213.7,452.9 1214.3,462.7 1214.9,489.6 1215.5,526.4 1216.0,563.1 1216.6,590.1 1217.2,599.9 1217.6,586.3 1217.9,549.0 1218.3,498.1 1218.7,447.2 1219.0,409.9 1219.4,396.3 1219.8,409.2 1220.2,444.6 1220.6,492.9 1221.0,541.3 1221.4,576.7 1221.8,589.6 1222.2,579.9 1222.6,553.3 1222.9,517.0 1223.3,480.7 1223.7,454.1 1224.1,444.4 1224.6,454.0 1225.1,480.2 1225.7,516.0 1226.2,551.8 1226.7,578.0 1227.2,587.6 1227.7,576.1 1228.1,544.8 1228.6,501.9 1229.1,459.1 1229.5,427.7 1230.0,416.2 1230.4,429.7 1230.8,466.5 1231.2,516.9 1231.6,567.2 1232.0,604.0 1232.4,617.5 1232.8,601.4 1233.1,557.5 1233.5,497.6 1233.9,437.6 1234.2,393.7 1234.6,377.6 1235.0,394.3 1235.4,440.0 1235.8,502.4 1236.3,564.7 1236.7,610.4 1237.1,627.1 1237.5,611.9 1238.0,570.4 1238.4,513.7 1238.8,457.0 1239.3,415.5 1239.7,400.3 1240.2,412.3 1240.6,445.1 1241.1,489.8 1241.5,534.5 1242.0,567.3 1242.4,579.3 1242.8,567.6 1243.3,535.8 1243.7,492.3 1244.1,448.8 1244.6,417.0 1245.0,405.3 1245.3,418.0 1245.7,452.8 1246.0,500.3 1246.4,547.9 1246.8,582.7 1247.1,595.4 1247.7,585.1 1248.3,557.1 1248.9,518.9 1249.5,480.6 1250.1,452.6 1250.7,442.3 1251.1,453.8 1251.4,485.2 1251.8,528.0 1252.2,570.9 1252.5,602.3 1252.9,613.8 1253.3,597.4 1253.7,552.7 1254.1,491.6 1254.5,430.4 1254.9,385.7 1255.3,369.3 1255.7,386.0 1256.0,431.5 1256.3,493.8 1256.7,556.0 1257.1,601.5 1257.4,618.2 1257.8,607.1 1258.2,576.7 1258.7,535.2 1259.1,493.7 1259.5,463.3 1259.9,452.2 1260.3,460.8 1260.6,484.3 1261.0,516.5 1261.4,548.6 1261.7,572.1 1262.1,580.7 1262.5,571.8 1262.9,547.3 1263.2,514.0 1263.6,480.6 1264.0,456.1 1264.4,447.2 1264.8,455.7 1265.1,478.8 1265.5,510.3 1265.8,541.8 1266.2,564.9 1266.5,573.4 1266.9,563.2 1267.4,535.4 1267.8,497.4 1268.2,459.4 1268.7,431.6 1269.1,421.4 1269.4,432.7 1269.7,463.6 1270.0,505.8 1270.3,548.1 1270.6,579.0 1270.9,590.3 1271.3,576.8 1271.7,540.0 1272.2,489.6 1272.6,439.3 1273.0,402.5 1273.4,389.0 1273.7,403.4 1274.1,442.8 1274.4,496.6 1274.7,550.5 1275.1,589.9 1275.4,604.3 1275.8,591.9 1276.2,558.2 1276.7,512.1 1277.1,466.0 1277.5,432.3 1277.9,419.9 1278.4,432.4 1278.8,466.7 1279.2,513.5 1279.7,560.4 1280.1,594.7 1280.6,607.2 1281.0,593.2 1281.4,555.1 1281.8,503.1 1282.3,451.0 1282.7,412.9 1283.1,398.9 1283.5,414.5 1283.9,457.0 1284.3,515.2 1284.8,573.3 1285.2,615.9 1285.6,631.5 1286.0,614.8 1286.4,569.3 1286.8,507.1 1287.1,444.8 1287.5,399.3 1287.9,382.6 1288.3,396.3 1288.6,433.6 1289.0,484.6 1289.4,535.6 1289.7,572.9 1290.1,586.6 1290.6,571.5 1291.0,530.2 1291.5,473.9 1292.0,417.6 1292.4,376.3 1292.9,361.2 1293.2,381.6 1293.6,437.4 1293.9,513.6 1294.2,589.8 1294.6,645.6 1294.9,666.0 1295.3,648.2 1295.6,599.6 1296.0,533.2 1296.4,466.7 1296.7,418.1 1297.1,400.3 1297.6,416.3 1298.2,460.1 1298.7,520.0 1299.2,579.8 1299.8,623.6 1300.3,639.6 1300.5,619.1 1300.8,563.1 1301.0,486.6 1301.3,410.0 1301.5,354.0 1301.8,333.5 1302.2,353.5 1302.6,408.0 1302.9,482.5 1303.3,557.0 1303.7,611.5 1304.1,631.5 1304.5,617.5 1304.9,579.4 1305.2,527.3 1305.6,475.2 1306.0,437.1 1306.4,423.1 1306.8,436.9 1307.2,474.6 1307.6,526.2 1308.0,577.8 1308.4,615.5 1308.8,629.3 1309.2,612.4 1309.7,566.1 1310.2,502.8 1310.6,439.6 1311.0,393.3 1311.5,376.4 1311.7,390.7 1312.0,429.9 1312.2,483.3 1312.4,536.8 1312.7,576.0 1312.9,590.3" stroke="#000" stroke-width="1.25" fill="none" stroke-linejoin="round"/>
<path d="M341.5,497.0 341.7,498.5 341.9,499.8 342.1,500.8 342.2,501.6 342.4,502.1 342.6,502.3 342.9,502.4 343.2,502.1 343.6,501.8 343.9,501.8 344.2,502.3 344.5,503.2 344.6,503.8 344.8,504.5 344.9,505.2 345.1,506.0 345.2,506.7 345.4,507.5 345.6,508.7 345.9,509.7 346.1,510.5 346.3,511.2 346.6,511.6 346.8,511.8 347.0,511.8 347.2,511.7 347.4,511.5 347.6,511.2 347.8,510.9 348.0,510.6 348.2,510.3 348.4,510.1 348.6,509.9 348.9,509.8 349.1,509.7 349.3,509.7 349.5,509.8 349.7,509.8 349.9,509.7 350.0,509.6 350.2,509.4 350.4,509.1 350.6,508.5 350.9,507.7 351.1,506.8 351.3,505.7 351.6,504.5 351.8,503.4 352.0,502.7 352.2,502.0 352.3,501.5 352.5,501.1 352.7,500.8 352.9,500.5 353.0,500.4 353.2,500.3 353.4,500.3 353.6,500.3 353.7,500.3 353.9,500.4 354.1,500.4 354.3,500.5 354.5,500.7 354.8,500.9 355.0,501.3 355.2,501.7 355.5,502.5 355.8,503.4 356.1,504.4 356.5,505.4 356.8,506.4 357.1,507.4 357.3,508.0 357.5,508.5 357.6,509.0 357.8,509.4 358.0,509.6 358.2,509.6 358.5,509.4 358.7,509.0 359.0,508.3 359.3,507.7 359.5,507.1 359.8,506.7 360.1,506.5 360.3,506.4 360.6,506.5 360.9,506.8 361.1,507.1 361.4,507.5 361.7,507.9 361.9,508.3 362.2,508.5 362.5,508.4 362.7,508.1 363.0,507.4 363.3,506.3 363.7,505.2 364.0,504.3 364.3,504.0 364.7,504.4 365.0,505.4 365.2,506.5 365.5,507.7 365.7,509.0 365.9,510.3 366.2,511.5 366.4,512.4 366.7,513.3 367.1,513.5 367.4,513.0 367.7,511.9 368.1,510.3 368.4,508.3 368.7,506.6 368.9,505.0 369.2,503.3 369.5,501.8 369.7,500.5 370.0,499.3 370.3,498.0 370.6,496.9 370.9,496.1 371.3,495.5 371.6,495.4 371.9,495.8 372.1,496.4 372.3,497.1 372.5,498.0 372.7,499.0 372.9,500.0 373.1,501.0 373.4,502.1 373.6,503.0 373.9,503.7 374.1,504.1 374.4,504.3 374.6,504.4 374.9,504.6 375.1,504.8 375.4,505.2 375.7,505.8 375.9,506.6 376.2,507.4 376.4,508.1 376.6,508.8 376.8,509.5 377.0,510.1 377.2,510.7 377.4,511.2 377.7,511.7 377.9,512.0 378.2,512.1 378.5,512.0 378.7,511.7 379.0,511.1 379.3,510.1 379.6,508.9 379.9,507.6 380.2,506.5 380.5,505.7 380.8,505.4 381.0,505.6 381.2,506.0 381.5,506.6 381.7,507.3 381.9,508.0 382.1,508.6 382.3,509.0 382.5,509.4 382.7,509.5 382.9,509.5 383.1,509.3 383.3,509.1 383.6,508.5 383.9,507.7 384.2,506.8 384.5,505.9 384.8,505.0 385.1,504.2 385.4,503.6 385.6,503.1 385.9,502.7 386.2,502.4 386.4,502.2 386.7,502.0 386.9,501.8 387.1,501.6 387.3,501.4 387.5,501.1 387.7,500.9 387.9,500.8 388.2,500.8 388.5,501.1 388.8,501.7 389.0,502.7 389.3,503.8 389.6,504.9 389.8,505.8 390.1,506.5 390.3,507.1 390.5,507.5 390.8,507.8 391.0,508.0 391.2,508.2 391.5,508.5 391.7,508.7 391.9,509.0 392.2,509.3 392.4,509.4 392.7,509.6 393.0,509.7 393.2,509.8 393.5,510.1 393.8,510.5 394.1,511.0 394.4,511.6 394.6,512.3 394.9,512.8 395.1,513.1 395.4,513.2 395.6,513.0 395.8,512.6 396.0,512.1 396.1,511.5 396.3,510.7 396.5,509.8 396.7,508.9 396.9,507.6 397.2,506.3 397.4,505.2 397.6,504.2 397.9,503.3 398.1,502.7 398.4,502.3 398.6,502.1 398.9,502.0 399.1,501.9 399.4,501.9 399.6,501.8 399.8,501.8 400.1,501.7 400.3,501.6 400.5,501.5 400.8,501.5 401.0,501.4 401.3,501.3 401.6,501.1 401.9,500.8 402.1,500.4 402.4,500.0 402.7,499.7 402.9,499.5 403.1,499.4 403.3,499.4 403.5,499.5 403.7,499.7 403.9,500.1 404.2,500.7 404.5,501.5 404.8,502.3 405.0,503.1 405.3,503.7 405.6,504.1 405.8,504.2 405.9,504.3 406.1,504.3 406.2,504.3 406.4,504.3 406.5,504.2 406.8,503.9 407.1,503.6 407.4,503.4 407.6,503.1 407.9,503.0 408.2,502.9 408.4,502.9 408.5,502.9 408.6,503.0 408.8,503.1 409.0,503.3 409.1,503.5 409.4,503.9 409.6,504.3 409.9,504.8 410.2,505.2 410.4,505.5 410.7,505.7 410.9,505.7 411.1,505.6 411.3,505.5 411.5,505.2 411.7,504.8 411.9,504.4 412.1,504.0 412.3,503.6 412.5,503.1 412.8,502.7 413.0,502.3 413.2,501.8 413.4,501.4 413.6,501.1 413.8,500.8 414.0,500.6 414.2,500.7 414.4,501.0 414.6,501.6 414.9,502.5 415.1,503.6 415.3,504.9 415.6,506.1 415.8,507.2 416.0,507.9 416.2,508.4 416.4,508.6 416.6,508.8 416.8,508.8 417.0,508.8 417.2,508.9 417.4,509.1 417.6,509.4 417.8,510.0 418.0,510.8 418.2,511.7 418.4,512.4 418.5,513.1 418.6,513.8 418.8,514.4 419.0,515.0 419.1,515.4 419.4,515.8 419.6,515.7 419.9,515.3 420.1,514.5 420.4,513.5 420.6,512.3 420.8,511.3 421.0,510.3 421.2,509.4 421.4,508.6 421.6,507.9 421.8,507.4 422.1,506.8 422.3,506.5 422.6,506.3 422.9,506.2 423.1,506.2 423.4,506.1 423.6,505.9 423.9,505.8 424.1,505.6 424.4,505.4 424.6,505.3 424.9,505.3 425.2,505.6 425.5,506.1 425.8,506.6 426.0,507.1 426.3,507.4 426.6,507.3 426.8,507.0 427.0,506.6 427.2,505.9 427.5,505.3 427.7,504.7 427.9,504.3 428.2,504.0 428.4,504.1 428.7,504.5 429.0,505.0 429.2,505.7 429.5,506.3 429.7,506.7 429.9,506.9 430.1,507.0 430.2,507.0 430.4,506.7 430.6,506.2 430.8,505.5 431.1,504.5 431.3,503.3 431.5,502.0 431.8,500.8 432.0,499.7 432.2,498.7 432.5,498.1 432.8,497.8 433.0,497.8 433.2,498.2 433.5,498.7 433.7,499.3 434.0,500.0 434.2,500.7 434.4,501.5 434.7,502.2 434.9,503.1 435.1,503.9 435.4,504.8 435.6,505.7 435.8,506.5 436.1,507.2 436.3,507.8 436.5,508.2 436.7,508.4 437.0,508.5 437.2,508.5 437.4,508.4 437.6,508.4 437.9,508.6 438.2,509.0 438.4,509.8 438.7,510.8 439.0,512.1 439.2,513.3 439.5,514.3 439.8,515.0 440.1,515.3 440.3,515.2 440.6,514.9 440.9,514.5 441.2,514.0 441.5,513.6 441.8,513.2 442.1,512.8 442.4,512.4 442.6,511.9 442.9,511.4 443.2,510.8 443.5,510.3 443.8,509.8 444.1,509.4 444.4,509.2 444.6,509.2 444.9,509.4 445.1,509.8 445.4,510.5 445.6,511.3 445.9,512.2 446.2,513.3 446.5,514.1 446.8,514.7 447.0,514.8 447.3,514.5 447.6,513.9 447.9,513.2 448.1,512.5 448.4,511.9 448.7,511.6 448.9,511.4 449.2,511.5 449.4,511.5 449.6,511.4 449.9,511.2 450.1,510.9 450.3,510.3 450.5,509.6 450.7,509.0 450.9,508.4 451.0,507.7 451.2,507.3 451.4,506.8 451.6,506.5 451.7,506.4 451.9,506.3 452.1,506.3 452.2,506.3 452.4,506.3 452.6,506.3 452.8,506.3 453.0,506.2 453.1,506.1 453.3,505.9 453.5,505.7 453.7,505.4 453.9,505.3 454.0,505.1 454.2,505.0 454.4,505.0 454.5,505.0 454.7,505.1 454.9,505.3 455.1,505.7 455.3,506.1 455.5,506.6 455.7,507.2 455.9,507.8 456.1,508.5 456.3,509.2 456.5,509.9 456.7,510.6 456.9,511.1 457.1,511.5 457.3,511.7 457.5,511.8 457.7,511.7 457.9,511.4 458.1,510.9 458.3,510.3 458.6,509.3 458.9,508.1 459.1,506.9 459.4,505.7 459.7,504.7 460.0,503.8 460.2,503.4 460.4,503.0 460.5,502.8 460.7,502.7 460.9,502.8 461.1,503.0 461.2,503.3 461.4,503.7 461.6,504.3 461.8,504.9 462.0,505.6 462.1,506.3 462.3,506.9 462.5,507.5 462.7,507.9 462.8,508.2 463.0,508.4 463.2,508.4 463.5,508.0 463.8,507.3 464.1,506.4 464.4,505.5 464.7,504.8 465.0,504.5 465.3,504.8 465.6,506.0 465.9,508.0 466.3,510.6 466.6,513.5 466.9,516.4 467.2,519.1 467.6,520.9 467.9,521.6 468.3,521.3 468.6,519.8 469.0,517.3 469.2,515.9 469.3,514.3 469.5,512.7 469.7,511.0 469.9,509.3 470.0,507.8 470.2,506.3 470.4,505.1 470.6,504.0 470.7,503.1 470.9,502.5 471.1,502.1 471.2,502.0 471.4,502.0 471.6,502.2 471.8,502.6 471.9,503.0 472.1,503.5 472.3,504.2 472.6,504.9 472.8,505.6 473.0,506.1 473.2,506.7 473.5,507.1 473.7,507.5 473.9,507.9 474.1,508.2 474.4,508.4 474.6,508.5 474.8,508.4 475.1,508.3 475.3,508.1 475.5,507.8 475.7,507.4 476.0,507.1 476.2,506.7 476.4,506.4 476.6,506.1 476.8,505.7 477.0,505.3 477.2,504.9 477.4,504.3 477.6,503.6 477.9,502.8 478.1,501.9 478.3,501.1 478.6,500.3 478.8,499.7 479.0,499.3 479.3,499.1 479.5,499.1 479.7,499.5 480.0,500.0 480.2,500.8 480.4,501.8 480.6,502.8 480.9,503.9 481.1,504.9 481.3,506.0 481.5,506.8 481.7,507.5 481.9,507.9 482.1,508.2 482.4,508.3 482.6,508.2 482.8,507.9 483.0,507.5 483.2,507.1 483.5,506.6 483.7,506.1 483.9,505.6 484.1,505.2 484.2,504.9 484.4,504.6 484.6,504.3 484.7,504.0 484.9,503.8 485.0,503.5 485.3,503.1 485.5,502.8 485.8,502.5 486.0,502.3 486.3,502.2 486.6,502.3 486.8,502.7 487.1,503.4 487.3,504.4 487.6,505.7 487.8,507.3 488.1,509.0 488.6,511.7 489.0,513.5 489.5,513.9 489.9,513.0 490.4,511.3 490.8,509.7 491.1,508.7 491.5,508.2 491.9,508.2 492.2,508.4 492.5,508.6 492.9,508.5 493.3,507.6 493.7,506.0 494.1,504.0 494.5,502.1 494.9,500.9 495.3,500.6 495.5,500.9 495.8,501.4 496.0,502.2 496.2,503.0 496.5,503.9 496.7,504.7 496.9,505.5 497.2,506.1 497.4,506.6 497.6,507.0 497.9,507.2 498.1,507.3 498.6,506.9 499.1,505.4 499.6,502.9 500.0,500.2 500.5,498.1 501.0,497.1 501.3,497.0 501.6,497.2 501.9,497.5 502.1,498.0 502.4,498.8 502.7,500.0 503.0,501.5 503.2,503.5 503.5,505.7 503.8,508.1 504.0,510.4 504.3,512.5 504.6,514.6 505.0,516.0 505.4,516.7 505.7,516.8 506.0,516.5 506.4,516.0 506.7,515.3 507.0,514.4 507.4,513.3 507.7,512.0 508.0,510.5 508.3,508.9 508.7,506.7 509.1,504.7 509.6,503.2 510.0,502.3 510.4,502.0 510.8,502.1 511.0,502.2 511.2,502.3 511.5,502.3 511.7,502.3 511.9,502.2 512.1,502.1 512.4,502.0 512.6,501.9 512.9,501.7 513.2,501.4 513.4,500.9 513.7,500.3 514.0,499.5 514.2,498.7 514.5,498.2 514.8,498.2 515.0,498.7 515.3,499.7 515.6,501.2 515.9,502.9 516.1,504.6 516.4,505.9 516.7,506.9 517.0,507.5 517.2,507.7 517.4,507.7 517.6,507.5 517.8,507.3 518.0,507.1 518.2,506.7 518.6,505.9 518.9,504.8 519.3,503.4 519.7,501.8 520.0,500.2 520.4,498.9 520.7,498.3 520.9,498.2 521.2,498.7 521.5,499.5 521.7,500.6 522.0,501.7 522.3,502.9 522.6,503.6 522.9,503.7 523.2,503.4 523.5,502.9 523.8,502.2 524.1,501.6 524.4,501.2 524.8,500.8 525.1,500.5 525.4,500.2 525.7,500.1 526.0,500.3 526.3,500.9 526.6,502.3 526.9,504.3 527.2,506.8 527.5,509.8 527.7,511.9 527.9,513.9 528.1,515.8 528.3,517.6 528.5,519.1 528.7,520.4 528.9,521.5 529.1,522.3 529.3,522.8 529.5,523.1 529.7,523.2 529.9,523.0 530.1,522.5 530.3,521.8 530.6,520.9 530.8,520.0 531.0,519.0 531.2,517.9 531.5,516.9 531.7,516.0 531.9,515.1 532.1,514.2 532.3,513.4 532.6,512.7 532.8,512.0 533.0,511.3 533.2,510.7 533.5,510.1 533.7,509.6 533.9,509.1 534.1,508.8 534.2,508.6 534.4,508.4 534.6,508.3 534.7,508.2 534.9,508.2 535.1,508.3 535.4,508.4 535.6,508.7 535.8,508.9 536.1,509.2 536.3,509.5 536.5,509.7 536.8,509.9 537.0,510.1 537.2,510.1 537.5,510.1 537.7,510.0 538.0,509.7 538.3,509.3 538.5,508.8 538.8,508.4 539.1,508.0 539.4,507.7 539.7,507.4 540.0,507.2 540.2,507.1 540.5,507.0 540.8,506.9 541.1,506.8 541.4,506.8 541.7,506.8 542.0,506.9 542.2,506.9 542.5,507.0 542.8,507.0 543.0,506.9 543.2,506.9 543.5,506.8 543.7,506.8 543.9,506.8 544.1,506.8 544.5,506.8 544.8,506.5 545.2,505.7 545.6,504.4 545.9,502.8 546.3,501.3 546.6,500.4 546.9,500.1 547.2,500.5 547.6,501.5 547.9,503.0 548.2,504.8 548.5,506.3 548.7,507.7 549.0,509.0 549.2,510.0 549.5,510.7 549.7,511.1 550.0,511.0 550.3,510.7 550.5,510.3 550.8,509.9 551.1,509.8 551.4,510.0 551.7,510.6 552.0,511.6 552.3,512.7 552.7,513.8 553.0,514.7 553.3,515.5 553.6,516.0 554.0,516.2 554.3,515.8 554.7,515.0 555.0,513.7 555.4,512.0 555.7,510.4 556.0,508.7 556.3,507.0 556.6,505.4 556.9,503.9 557.1,502.7 557.4,501.8 557.7,501.4 558.0,501.2 558.3,501.4 558.6,501.7 558.9,502.0 559.2,502.3 559.6,502.5 559.9,502.6 560.2,502.8 560.6,503.2 560.9,504.0 561.2,505.0 561.5,506.3 561.8,507.6 562.1,508.7 562.4,509.4 562.7,509.6 563.0,509.4 563.3,508.9 563.6,508.2 563.9,507.5 564.2,506.9 564.5,506.2 564.8,505.6 565.1,504.9 565.5,504.1 565.8,503.4 566.1,502.6 566.4,501.8 566.8,500.7 567.2,499.6 567.6,498.4 568.0,497.3 568.4,496.8 568.8,496.7 569.0,497.0 569.3,497.5 569.5,498.2 569.7,499.0 570.0,499.9 570.2,501.0 570.4,502.1 570.7,503.2 570.9,504.3 571.1,505.2 571.4,506.0 571.6,506.6 572.0,506.9 572.3,506.8 572.7,506.4 573.1,506.1 573.4,506.3 573.8,507.0 574.1,508.0 574.5,509.3 574.8,510.4 575.2,511.1 575.5,511.4 575.9,511.0 576.2,510.5 576.5,509.8 576.8,509.2 577.0,508.6 577.3,508.1 577.6,507.6 577.9,507.1 578.2,506.5 578.5,505.7 578.9,504.5 579.2,503.2 579.5,501.7 579.9,500.2 580.2,499.1 580.5,498.4 580.9,498.0 581.2,498.0 581.6,498.1 582.0,498.3 582.3,498.6 582.7,499.2 583.0,500.1 583.4,501.3 583.8,502.5 584.1,503.5 584.5,504.2 584.8,504.5 585.2,504.8 585.5,505.3 585.9,506.2 586.1,507.0 586.4,508.0 586.6,509.1 586.9,510.2 587.1,511.2 587.4,512.0 587.7,512.5 587.9,512.8 588.2,512.9 588.5,512.8 588.7,512.6 589.0,512.4 589.3,512.3 589.7,512.2 590.0,512.3 590.3,512.4 590.7,512.4 591.0,512.1 591.2,511.8 591.5,511.4 591.7,510.8 591.9,510.1 592.2,509.3 592.4,508.5 592.8,507.1 593.1,505.8 593.5,504.7 593.8,503.8 594.1,503.1 594.5,502.7 594.7,502.6 594.9,502.8 595.1,503.0 595.3,503.4 595.5,503.9 595.7,504.6 596.0,505.7 596.2,506.8 596.5,508.0 596.7,509.0 597.0,509.7 597.2,510.2 597.5,510.3 597.8,510.2 598.0,510.0 598.3,509.8 598.5,509.9 598.8,510.1 599.0,510.5 599.2,511.1 599.4,511.8 599.6,512.6 599.8,513.4 600.0,514.3 600.3,515.8 600.6,517.2 601.0,518.5 601.3,519.6 601.6,520.5 601.9,521.3 602.1,521.6 602.3,521.9 602.5,522.1 602.8,522.1 603.0,522.0 603.2,521.8 603.4,521.5 603.6,521.0 603.8,520.2 604.1,519.2 604.3,518.1 604.5,516.7 604.7,515.2 604.9,513.6 605.1,512.1 605.4,510.8 605.6,509.7 605.8,508.8 606.1,508.3 606.3,508.2 606.6,508.5 606.9,509.0 607.1,509.5 607.4,509.8 607.8,510.0 608.1,509.7 608.5,509.1 608.8,508.1 609.1,506.9 609.5,505.6 609.7,504.8 610.0,504.2 610.2,503.7 610.4,503.5 610.6,503.5 610.9,503.7 611.1,504.0 611.3,504.3 611.5,504.5 611.8,504.6 612.0,504.6 612.2,504.3 612.5,503.8 612.7,503.3 612.9,502.6 613.1,502.0 613.4,501.3 613.6,500.7 613.9,500.1 614.1,499.5 614.4,499.0 614.6,498.6 614.9,498.2 615.1,498.0 615.4,497.9 615.7,498.1 616.0,498.5 616.2,499.1 616.5,499.9 616.8,500.7 617.0,501.2 617.2,501.7 617.3,502.1 617.5,502.5 617.7,502.8 617.9,503.0 618.3,503.5 618.7,503.8 619.1,504.4 619.5,505.2 619.9,506.5 620.3,507.8 620.6,508.7 620.9,509.4 621.1,509.7 621.4,509.8 621.7,509.6 622.0,509.2 622.2,508.8 622.5,508.4 622.8,508.0 623.0,507.8 623.2,507.6 623.5,507.6 623.8,507.7 624.1,507.9 624.4,508.1 624.7,508.3 625.0,508.4 625.2,508.6 625.5,508.9 625.8,509.3 626.1,509.9 626.4,510.8 626.7,511.8 627.0,512.7 627.1,513.2 627.3,513.5 627.5,513.8 627.6,513.8 627.8,513.8 627.9,513.7 628.3,512.6 628.7,511.0 629.1,509.3 629.5,508.2 629.9,507.7 630.3,507.9 630.5,508.2 630.8,508.7 631.0,509.2 631.3,509.7 631.5,510.1 631.7,510.3 632.0,510.4 632.2,510.3 632.5,510.1 632.7,509.8 632.9,509.5 633.2,509.1 633.4,508.9 633.6,508.8 633.9,508.7 634.1,508.7 634.4,508.6 634.6,508.5 634.9,508.2 635.1,507.7 635.4,506.9 635.6,506.0 635.9,505.1 636.1,504.1 636.4,503.1 636.7,502.3 637.0,501.8 637.4,501.5 637.7,501.4 638.0,501.5 638.2,501.6 638.4,501.8 638.5,502.0 638.7,502.4 638.9,502.8 639.1,503.2 639.2,503.5 639.4,503.9 639.5,504.2 639.7,504.5 639.8,504.8 640.0,505.1 640.1,505.4 640.2,505.7 640.4,506.0 640.5,506.3 640.7,506.7 640.8,507.1 641.0,507.6 641.2,508.2 641.3,508.8 641.5,509.4 641.7,510.0 641.9,510.4 642.8,510.8 643.6,509.7 644.5,508.7 645.3,506.5 646.1,502.7 647.0,499.6 647.4,499.2 647.9,499.8 648.3,501.7 648.7,504.4 649.2,507.4 649.6,510.3 650.1,512.7 650.6,513.1 651.2,511.5 651.7,508.3 652.2,504.4 652.7,501.2 653.0,500.0 653.4,499.8 653.7,500.7 654.0,502.4 654.4,504.3 654.7,506.2 655.5,509.9 656.4,512.1 657.2,510.7 658.0,504.8 658.9,496.7 659.7,490.9 660.3,491.2 660.9,496.4 661.5,505.5 662.1,515.6 662.7,523.4 663.3,526.7 663.8,524.4 664.3,517.0 664.8,506.6 665.4,496.4 665.9,489.1 666.4,486.7 667.0,489.7 667.5,497.1 668.1,506.6 668.7,515.5 669.2,521.5 669.8,523.2 670.2,520.4 670.6,514.3 671.0,506.6 671.5,499.5 671.9,494.6 672.3,493.1 672.6,495.1 673.0,500.1 673.3,506.6 673.7,513.0 674.0,517.6 674.4,519.3 674.8,517.6 675.1,512.9 675.5,506.6 675.8,500.3 676.1,495.6 676.5,493.9 676.8,495.6 677.0,500.3 677.2,506.6 677.5,513.0 677.8,517.6 678.0,519.3 678.3,517.7 678.7,513.0 679.0,506.6 679.3,500.2 679.7,495.5 680.0,493.7 680.8,495.4 681.6,500.1 682.4,506.6 683.1,513.1 683.9,517.9 684.7,519.7 685.1,518.0 685.6,513.2 686.0,506.6 686.4,499.9 686.9,495.0 687.3,493.1 688.0,494.8 688.7,499.7 689.4,506.6 690.1,513.7 690.8,519.2 691.5,521.4 691.9,519.7 692.3,514.4 692.8,506.6 693.2,498.5 693.6,492.2 694.0,489.6 694.5,491.5 695.0,497.7 695.5,506.6 696.1,515.9 696.6,523.1 697.1,526.1 697.5,523.8 697.9,516.8 698.2,506.6 698.6,496.0 699.0,488.0 699.4,484.7 700.3,487.4 701.2,495.3 702.1,506.6 703.0,518.1 703.9,526.8 704.8,530.1 705.6,527.1 706.5,518.5 707.3,506.6 708.1,494.6 709.0,485.8 709.8,482.6 710.1,485.8 710.5,494.6 710.8,506.6 711.1,518.6 711.5,527.5 711.8,530.7 712.2,527.5 712.6,518.7 713.0,506.6 713.4,494.5 713.8,485.7 714.2,482.5 715.0,485.7 715.7,494.5 716.5,506.6 717.2,518.7 718.0,527.5 718.7,530.7 719.4,527.4 720.1,518.6 720.9,506.6 721.6,494.7 722.3,486.2 723.0,483.4 723.4,486.8 723.8,495.5 724.1,506.6 724.5,517.0 724.9,523.7 725.3,525.2 725.7,521.6 726.1,514.6 726.5,506.6 726.9,500.0 727.3,496.4 727.7,496.0 728.2,498.4 728.8,502.3 729.4,506.6 729.9,510.2 730.5,512.6 731.0,513.4 731.5,512.6 732.1,510.2 732.6,506.6 733.2,502.3 733.8,498.3 734.3,495.9 734.6,496.1 734.8,499.8 735.1,506.6 735.4,515.1 735.6,522.7 735.9,526.9 736.5,525.5 737.2,518.3 737.8,506.6 738.5,493.7 739.1,483.5 739.8,479.1 740.1,482.3 740.5,492.3 740.8,506.6 741.2,521.2 741.5,532.0 741.9,536.0 742.5,532.1 743.1,521.4 743.7,506.6 744.3,491.8 744.9,481.0 745.5,477.0 745.9,480.9 746.3,491.8 746.6,506.6 747.0,521.4 747.4,532.3 747.8,536.3 748.4,532.3 749.1,521.4 749.8,506.6 750.4,491.8 751.1,480.9 751.7,477.0 752.2,481.0 752.7,491.9 753.2,506.6 753.8,521.1 754.3,531.5 754.8,534.9 755.4,530.7 756.1,520.1 756.8,506.6 757.4,494.0 758.1,485.9 758.7,484.0 759.0,488.3 759.4,496.8 759.7,506.6 760.0,514.9 760.4,519.6 760.7,520.3 761.2,517.4 761.7,512.3 762.2,506.6 762.8,501.7 763.3,498.6 763.8,497.7 764.1,499.2 764.5,502.4 764.8,506.6 765.2,510.6 765.5,513.5 765.9,514.6 766.2,513.5 766.6,510.6 767.0,506.6 767.3,502.6 767.6,499.6 768.0,498.3 768.3,499.3 768.7,502.2 769.0,506.6 769.3,511.4 769.7,515.5 770.0,517.6 770.7,516.9 771.4,513.1 772.1,506.6 772.9,499.0 773.6,492.5 774.3,489.1 774.7,490.4 775.0,496.7 775.4,506.6 775.8,517.6 776.1,526.5 776.5,530.6 777.1,528.2 777.8,519.5 778.5,506.6 779.1,492.8 779.8,481.9 780.4,477.3 780.8,480.5 781.3,491.1 781.7,506.6 782.1,522.9 782.6,535.6 783.0,540.9 783.6,537.1 784.3,524.6 785.0,506.6 785.6,487.8 786.2,473.3 786.9,467.4 787.4,472.0 787.8,486.3 788.3,506.6 788.8,527.5 789.2,543.2 789.7,549.3 790.3,543.9 790.8,528.3 791.4,506.6 792.0,484.7 792.5,468.5 793.1,462.5 793.5,468.4 793.9,484.5 794.4,506.6 794.8,528.7 795.2,544.9 795.6,550.8 796.1,544.9 796.6,528.7 797.0,506.6 797.5,484.5 798.0,468.4 798.5,462.5 799.0,468.4 799.6,484.6 800.1,506.6 800.6,528.6 801.2,544.6 801.7,550.4 802.3,544.4 803.0,528.3 803.6,506.6 804.2,485.1 804.9,469.6 805.5,464.3 805.8,470.3 806.2,485.9 806.5,506.6 806.8,526.7 807.2,540.9 807.5,545.5 808.1,539.6 808.7,525.3 809.3,506.6 809.9,488.7 810.5,476.4 811.1,472.6 811.5,477.8 812.0,490.4 812.5,506.6 812.9,522.0 813.3,532.5 813.8,535.7 814.2,531.1 814.7,520.4 815.1,506.6 815.5,493.6 816.0,484.6 816.4,481.9 816.9,485.7 817.4,494.8 818.0,506.6 818.5,517.9 819.0,525.9 819.5,528.6 819.9,525.5 820.3,517.4 820.6,506.6 821.0,495.9 821.4,488.1 821.8,485.3 822.2,488.2 822.6,496.0 823.0,506.6 823.5,517.2 823.9,525.0 824.3,527.9 824.7,525.1 825.1,517.3 825.5,506.6 825.8,495.9 826.2,488.1 826.6,485.3 827.0,488.2 827.4,496.0 827.8,506.6 828.2,517.2 828.6,524.9 829.0,527.6 829.5,524.7 830.0,517.0 830.5,506.6 830.9,496.4 831.4,489.2 831.9,486.8 832.4,489.7 832.8,497.0 833.3,506.6 833.8,515.9 834.2,522.6 834.7,524.8 835.1,522.2 835.5,515.5 835.9,506.6 836.2,497.8 836.6,491.4 837.0,489.1 837.5,491.5 838.0,497.9 838.5,506.6 839.1,515.3 839.6,521.7 840.1,524.0 840.5,521.7 841.0,515.3 841.5,506.6 841.9,497.9 842.3,491.6 842.8,489.2 843.2,491.6 843.6,497.9 844.0,506.6 844.3,515.3 844.7,521.6 845.1,523.9 845.5,521.5 845.9,515.2 846.4,506.6 846.8,498.1 847.2,492.0 847.6,490.0 848.1,492.4 848.6,498.6 849.0,506.6 849.5,514.2 850.0,519.5 850.5,521.1 850.8,518.9 851.2,513.6 851.5,506.6 851.8,499.7 852.2,494.4 852.5,492.1 852.9,493.5 853.3,498.7 853.7,506.6 854.1,515.3 854.5,522.5 854.9,525.8 855.4,523.8 855.9,516.9 856.5,506.6 857.0,495.8 857.5,487.5 858.0,484.3 858.3,487.1 858.7,495.3 859.0,506.6 859.3,518.0 859.7,526.4 860.0,529.5 860.5,526.4 860.9,518.1 861.4,506.6 861.9,495.1 862.3,486.7 862.8,483.7 863.2,486.7 863.5,495.1 863.9,506.6 864.3,518.1 864.6,526.5 865.0,529.6 865.5,526.5 866.0,518.1 866.5,506.6 867.1,495.1 867.6,486.7 868.1,483.6 868.6,486.7 869.1,495.1 869.6,506.6 870.1,518.0 870.6,526.2 871.1,529.0 871.6,525.8 872.1,517.5 872.5,506.6 873.0,496.3 873.5,489.3 874.0,487.5 874.4,490.9 874.7,498.0 875.0,506.6 875.4,514.2 875.8,518.9 876.1,519.9 876.5,517.5 876.8,512.6 877.2,506.6 877.6,501.1 877.9,497.2 878.3,495.8 878.7,497.1 879.1,501.0 879.5,506.6 880.0,512.8 880.4,518.2 880.8,521.1 881.2,520.3 881.5,515.3 881.9,506.6 882.3,496.3 882.6,487.2 883.0,482.4 883.4,484.2 883.8,492.8 884.2,506.6 884.7,521.8 885.1,533.8 885.5,539.0 886.0,535.4 886.4,523.6 886.9,506.6 887.3,489.1 887.8,476.0 888.2,470.9 888.6,475.4 889.0,488.4 889.4,506.6 889.7,525.0 890.1,538.7 890.5,543.9 890.9,539.1 891.3,525.5 891.7,506.6 892.1,487.5 892.5,473.3 892.9,467.9 893.4,473.0 893.8,487.1 894.3,506.6 894.8,526.2 895.2,540.6 895.7,545.9 896.1,540.6 896.5,526.2 896.9,506.6 897.2,487.0 897.6,472.8 898.0,467.6 898.5,473.0 898.9,487.2 899.4,506.6 899.8,525.8 900.2,539.8 900.7,544.7 901.1,539.5 901.5,525.5 901.9,506.6 902.3,487.9 902.7,474.3 903.1,469.5 903.5,474.7 903.9,488.4 904.4,506.6 904.8,524.4 905.2,537.0 905.6,541.0 906.0,535.8 906.4,523.1 906.9,506.6 907.3,491.0 907.7,480.3 908.1,477.1 908.4,481.7 908.8,492.6 909.1,506.6 909.4,520.0 909.8,529.4 910.1,532.5 910.6,528.8 911.1,519.3 911.6,506.6 912.1,494.0 912.6,484.9 913.1,481.6 913.4,485.0 913.7,494.1 914.0,506.6 914.2,519.1 914.5,528.2 914.8,531.5 915.3,528.2 915.8,519.1 916.2,506.6 916.7,494.1 917.2,485.0 917.7,481.6 918.1,485.0 918.5,494.1 918.9,506.6 919.2,519.1 919.6,528.3 920.0,531.6 920.5,528.3 920.9,519.1 921.4,506.6 921.9,494.1 922.3,484.9 922.8,481.5 923.2,484.9 923.7,494.1 924.1,506.6 924.6,519.2 925.0,528.4 925.5,531.7 926.0,528.4 926.4,519.2 926.9,506.6 927.4,494.0 927.8,484.9 928.3,481.5 928.7,485.0 929.1,494.2 929.5,506.6 929.9,518.7 930.3,527.1 930.7,529.7 931.1,525.9 931.4,517.3 931.8,506.6 932.2,497.2 932.5,491.4 932.9,490.6 933.3,494.0 933.6,500.0 934.0,506.6 934.4,511.9 934.7,514.8 935.1,515.2 935.4,513.4 935.8,510.2 936.2,506.6 936.5,503.3 936.9,501.1 937.3,500.4 937.6,501.3 938.0,503.6 938.3,506.6 938.7,509.6 939.1,511.8 939.4,512.7 939.8,512.0 940.2,509.8 940.5,506.6 940.9,503.1 941.3,500.2 941.6,498.5 942.0,498.9 942.3,501.6 942.7,506.6 943.1,512.9 943.4,519.0 943.8,522.7 944.1,522.2 944.5,516.6 944.8,506.6 945.1,494.6 945.5,484.1 945.8,478.9 946.2,481.3 946.7,491.3 947.1,506.6 947.6,522.9 948.0,535.5 948.5,540.5 949.0,536.4 949.4,523.9 949.9,506.6 950.3,489.0 950.8,476.1 951.2,471.2 951.6,475.9 952.0,488.8 952.5,506.6 952.9,524.4 953.3,537.5 953.7,542.4 954.1,537.6 954.5,524.6 955.0,506.6 955.4,488.6 955.8,475.3 956.2,470.5 956.6,475.2 956.9,488.5 957.3,506.6 957.7,524.8 958.0,538.2 958.4,543.1 958.8,538.3 959.2,524.9 959.6,506.6 960.0,488.2 960.4,474.7 960.8,469.7 961.3,474.6 961.7,488.1 962.2,506.6 962.7,525.2 963.1,538.9 963.6,543.9 964.0,539.0 964.4,525.3 964.8,506.6 965.2,487.8 965.6,474.0 966.0,468.9 966.4,473.9 966.7,487.7 967.0,506.6 967.4,525.6 967.8,539.6 968.1,544.7 968.6,539.7 969.0,525.7 969.5,506.6 970.0,487.4 970.4,473.3 970.9,468.1 971.2,473.2 971.6,487.3 972.0,506.6 972.3,526.0 972.6,540.2 973.0,545.5 973.4,540.3 973.9,526.1 974.3,506.6 974.7,487.1 975.2,472.7 975.6,467.4 976.0,472.6 976.4,487.0 976.8,506.6 977.2,526.3 977.6,540.7 978.0,546.0 978.5,540.7 979.0,526.3 979.5,506.6 980.0,486.9 980.5,472.6 981.0,467.4 981.4,472.7 981.7,487.1 982.1,506.6 982.5,526.0 982.8,540.1 983.2,545.1 983.6,539.8 984.0,525.7 984.5,506.6 984.9,487.6 985.3,473.9 985.7,469.0 986.1,474.1 986.5,487.9 987.0,506.6 987.4,525.1 987.8,538.5 988.2,543.3 988.7,538.2 989.2,524.8 989.7,506.6 990.1,488.6 990.6,475.7 991.1,471.1 991.5,476.1 992.0,489.1 992.4,506.6 992.8,523.7 993.3,535.8 993.7,539.7 994.4,534.8 995.1,522.6 995.8,506.6 996.4,491.3 997.1,480.7 997.8,477.3 998.2,481.8 998.5,492.5 998.9,506.6 999.3,520.3 999.6,530.0 1000.0,533.4 1000.5,529.6 1000.9,519.8 1001.4,506.6 1001.8,493.4 1002.2,483.8 1002.7,480.4 1003.1,483.9 1003.5,493.5 1003.9,506.6 1004.2,519.7 1004.6,529.3 1005.0,532.7 1005.5,529.2 1005.9,519.7 1006.4,506.6 1006.8,493.5 1007.2,484.0 1007.7,480.5 1008.1,484.0 1008.5,493.6 1009.0,506.6 1009.4,519.6 1009.8,529.0 1010.2,532.4 1010.6,528.8 1011.1,519.3 1011.5,506.6 1011.9,494.4 1012.4,485.9 1012.8,483.5 1013.2,487.4 1013.6,496.0 1014.0,506.6 1014.4,516.1 1014.8,522.1 1015.2,523.5 1016.1,520.6 1017.0,514.4 1017.9,506.6 1018.8,498.8 1019.7,492.7 1020.6,489.9 1021.0,491.4 1021.3,497.3 1021.7,506.6 1022.0,516.9 1022.4,525.2 1022.7,528.9 1023.2,526.5 1023.7,518.4 1024.2,506.6 1024.7,494.4 1025.2,485.3 1025.7,481.9 1026.0,485.1 1026.4,494.1 1026.7,506.6 1027.0,519.1 1027.4,528.3 1027.7,531.6 1028.1,528.3 1028.6,519.1 1029.0,506.6 1029.4,494.1 1029.9,484.9 1030.3,481.5 1030.7,484.9 1031.2,494.0 1031.6,506.6 1032.0,519.2 1032.5,528.4 1032.9,531.7 1033.3,528.4 1033.7,519.2 1034.1,506.6 1034.5,494.0 1034.9,484.8 1035.3,481.4 1035.7,484.8 1036.1,494.0 1036.4,506.6 1036.8,519.2 1037.2,528.5 1037.6,531.9 1038.0,528.5 1038.4,519.3 1038.8,506.6 1039.2,493.9 1039.6,484.6 1040.0,481.2 1040.4,484.6 1040.9,493.9 1041.3,506.6 1041.7,519.3 1042.2,528.6 1042.6,532.0 1043.1,528.6 1043.6,519.3 1044.2,506.6 1044.7,494.0 1045.2,485.0 1045.7,481.9 1046.0,485.5 1046.4,494.7 1046.8,506.6 1047.1,517.8 1047.5,525.1 1047.8,526.8 1048.3,522.9 1048.8,515.3 1049.3,506.6 1049.8,499.4 1050.3,495.5 1050.8,495.2 1051.3,497.9 1051.8,502.1 1052.2,506.6 1052.7,510.2 1053.2,512.2 1053.7,512.6 1054.2,511.5 1054.6,509.3 1055.1,506.6 1055.6,504.0 1056.1,502.2 1056.6,501.6 1057.1,502.3 1057.5,504.1 1058.0,506.6 1058.5,509.1 1059.0,510.9 1059.5,511.6 1059.9,510.9 1060.4,509.1 1060.9,506.6 1061.4,504.1 1061.9,502.3 1062.3,501.6 1062.8,502.2 1063.3,504.0 1063.8,506.6 1064.3,509.4 1064.7,511.7 1065.2,512.9 1065.7,512.6 1066.2,510.5 1066.7,506.6 1067.2,501.6 1067.6,496.8 1068.1,493.8 1068.6,494.1 1069.1,498.5 1069.6,506.6 1070.0,516.3 1070.5,524.6 1071.0,528.7 1071.5,526.7 1072.0,518.7 1072.5,506.6 1073.1,493.9 1073.6,484.3 1074.1,480.5 1074.4,483.9 1074.7,493.4 1075.0,506.6 1075.4,519.8 1075.7,529.5 1076.0,533.1 1076.6,529.5 1077.2,519.8 1077.8,506.6 1078.3,493.4 1078.9,483.8 1079.5,480.3 1079.9,483.9 1080.3,493.5 1080.7,506.6 1081.0,519.5 1081.4,528.6 1081.8,531.6 1082.3,527.8 1082.9,518.5 1083.4,506.6 1083.9,495.5 1084.5,488.1 1085.0,486.1 1085.5,489.6 1085.9,497.2 1086.4,506.6 1086.9,515.2 1087.3,520.9 1087.8,522.6 1088.2,520.1 1088.7,514.2 1089.1,506.6 1089.5,499.2 1090.0,493.8 1090.4,491.9 1090.9,493.9 1091.4,499.3 1091.8,506.6 1092.3,513.9 1092.8,519.2 1093.3,521.2 1093.7,519.2 1094.1,513.9 1094.5,506.6 1095.0,499.3 1095.4,494.0 1095.8,492.0 1096.2,494.0 1096.5,499.3 1096.9,506.6 1097.3,513.9 1097.6,519.3 1098.0,521.2 1098.4,519.3 1098.8,513.9 1099.2,506.6 1099.7,499.3 1100.1,493.9 1100.5,492.0 1100.9,493.9 1101.2,499.3 1101.6,506.6 1102.0,513.9 1102.3,519.3 1102.7,521.3 1103.1,519.3 1103.5,513.9 1103.8,506.6 1104.2,499.2 1104.6,493.8 1105.0,491.9 1105.3,493.8 1105.6,499.2 1106.0,506.6 1106.3,514.1 1106.6,519.8 1106.9,522.1 1107.3,520.3 1107.7,514.7 1108.1,506.6 1108.4,497.9 1108.8,491.0 1109.2,487.8 1109.6,489.6 1110.0,496.3 1110.3,506.6 1110.7,517.8 1111.1,526.6 1111.5,530.5 1111.9,527.8 1112.3,519.1 1112.7,506.6 1113.0,493.7 1113.4,484.1 1113.8,480.4 1114.2,483.8 1114.5,493.4 1114.8,506.6 1115.2,519.8 1115.6,529.5 1115.9,533.0 1116.4,529.5 1116.9,519.8 1117.4,506.6 1117.9,493.6 1118.4,484.2 1118.9,481.1 1119.2,484.9 1119.6,494.4 1119.9,506.6 1120.2,517.9 1120.6,525.3 1120.9,526.9 1121.3,523.0 1121.8,515.3 1122.2,506.6 1122.6,499.4 1123.1,495.3 1123.5,494.9 1123.9,497.4 1124.2,501.8 1124.6,506.6 1125.0,510.7 1125.3,513.3 1125.7,514.1 1126.0,512.8 1126.3,510.1 1126.6,506.6 1126.9,503.2 1127.2,500.7 1127.6,499.8 1127.9,500.7 1128.2,503.2 1128.5,506.6 1128.8,510.1 1129.1,512.7 1129.4,513.9 1129.6,513.1 1129.9,510.5 1130.1,506.6 1130.3,502.3 1130.6,498.6 1130.8,496.8 1131.3,497.5 1131.8,501.0 1132.3,506.6 1132.8,513.0 1133.3,518.2 1133.8,520.6 1134.2,519.2 1134.5,514.1 1134.9,506.6 1135.3,498.8 1135.6,493.0 1136.0,490.8 1136.4,493.0 1136.8,498.8 1137.2,506.6 1137.7,514.1 1138.1,519.2 1138.5,520.7 1138.9,518.3 1139.3,513.0 1139.7,506.6 1140.1,500.9 1140.5,497.4 1140.9,496.7 1141.2,498.5 1141.6,502.2 1141.9,506.6 1142.2,510.5 1142.6,513.1 1142.9,513.9 1143.3,512.8 1143.7,510.1 1144.1,506.6 1144.4,503.2 1144.8,500.7 1145.2,499.8 1145.5,500.7 1145.8,503.2 1146.2,506.6 1146.5,510.0 1146.8,512.5 1147.1,513.4 1147.5,512.5 1147.9,510.0 1148.3,506.6 1148.7,503.2 1149.1,500.7 1149.5,499.8 1149.9,500.7 1150.3,503.2 1150.7,506.6 1151.0,510.0 1151.4,512.5 1151.8,513.4 1152.2,512.5 1152.5,510.0 1152.9,506.6 1153.3,503.2 1153.6,500.7 1154.0,499.8 1154.4,500.7 1154.7,503.2 1155.1,506.6 1155.5,510.0 1155.8,512.5 1156.2,513.4 1156.6,512.5 1156.9,510.0 1157.3,506.6 1157.6,503.2 1158.0,500.7 1158.3,499.8 1158.7,500.7 1159.0,503.2 1159.4,506.6 1159.7,510.0 1160.1,512.5 1160.5,513.4 1160.8,512.5 1161.2,510.0 1161.5,506.6 1161.9,503.2 1162.2,500.7 1162.6,499.8 1162.9,500.7 1163.3,503.2 1163.6,506.6 1164.0,510.0 1164.3,512.5 1164.7,513.4 1165.0,512.5 1165.2,510.0 1165.5,506.6 1165.8,503.2 1166.0,500.7 1166.3,499.7 1166.6,500.6 1166.8,503.0 1167.1,506.6 1167.4,510.4 1167.6,513.5 1167.9,515.1 1168.2,514.5 1168.5,511.6 1168.8,506.6 1169.0,500.6 1169.3,495.0 1169.6,491.8 1169.9,492.5 1170.2,497.7 1170.4,506.6 1170.7,516.9 1171.0,525.5 1171.3,529.5 1171.7,527.3 1172.0,518.9 1172.4,506.6 1172.8,493.7 1173.1,483.9 1173.5,480.2 1174.0,483.6 1174.5,493.2 1175.0,506.6 1175.5,520.0 1176.0,529.8 1176.5,533.4 1176.9,529.8 1177.3,519.9 1177.7,506.6 1178.1,493.5 1178.5,484.1 1178.9,481.1 1179.3,485.1 1179.7,494.5 1180.1,506.6 1180.5,517.6 1180.9,524.5 1181.3,525.9 1181.7,522.0 1182.2,514.7 1182.6,506.6 1183.0,500.0 1183.5,496.3 1183.9,495.9 1184.2,498.2 1184.5,502.1 1184.8,506.6 1185.1,510.5 1185.4,513.1 1185.7,513.8 1186.1,512.7 1186.5,510.1 1186.9,506.6 1187.3,503.2 1187.7,500.7 1188.1,499.8 1188.4,500.7 1188.7,503.2 1189.0,506.6 1189.4,510.0 1189.7,512.5 1190.0,513.4 1190.5,512.5 1191.0,510.0 1191.5,506.6 1192.1,503.2 1192.6,500.7 1193.1,499.8 1193.3,500.7 1193.4,503.2 1193.6,506.6 1193.8,510.0 1193.9,512.5 1194.1,513.4 1194.6,512.5 1195.1,510.0 1195.7,506.6 1196.2,503.2 1196.7,500.6 1197.2,499.6 1197.7,500.5 1198.3,503.0 1198.8,506.6 1199.3,510.4 1199.8,513.4 1200.3,514.8 1200.9,514.1 1201.4,511.2 1201.9,506.6 1202.4,501.5 1203.0,497.2 1203.5,495.1 1204.0,496.2 1204.5,500.3 1205.0,506.6 1205.6,513.5 1206.1,518.9 1206.6,521.2 1206.9,519.6 1207.3,514.3 1207.7,506.6 1208.0,498.6 1208.3,492.6 1208.7,490.2 1209.2,492.2 1209.7,498.2 1210.2,506.6 1210.8,515.2 1211.3,521.6 1211.8,524.2 1212.1,522.0 1212.4,515.6 1212.8,506.6 1213.1,497.5 1213.4,490.6 1213.7,488.0 1214.3,490.4 1214.9,497.2 1215.5,506.6 1216.0,516.1 1216.6,523.2 1217.2,525.9 1217.6,523.3 1217.9,516.3 1218.3,506.6 1218.7,496.9 1219.0,489.8 1219.4,487.1 1219.8,489.7 1220.2,496.9 1220.6,506.6 1221.0,516.3 1221.4,523.5 1221.8,526.1 1222.2,523.4 1222.6,516.3 1222.9,506.6 1223.3,496.9 1223.7,489.8 1224.1,487.2 1224.6,489.8 1225.1,496.9 1225.7,506.6 1226.2,516.3 1226.7,523.4 1227.2,526.0 1227.7,523.4 1228.1,516.3 1228.6,506.6 1229.1,496.9 1229.5,489.8 1230.0,487.2 1230.4,489.8 1230.8,496.9 1231.2,506.6 1231.6,516.3 1232.0,523.4 1232.4,526.0 1232.8,523.4 1233.1,516.3 1233.5,506.6 1233.9,496.9 1234.2,489.8 1234.6,487.2 1235.0,489.8 1235.4,496.9 1235.8,506.6 1236.3,516.3 1236.7,523.4 1237.1,526.0 1237.5,523.4 1238.0,516.3 1238.4,506.6 1238.8,496.9 1239.3,489.8 1239.7,487.2 1240.2,489.8 1240.6,496.9 1241.1,506.6 1241.5,516.3 1242.0,523.4 1242.4,526.0 1242.8,523.4 1243.3,516.3 1243.7,506.6 1244.1,496.9 1244.6,489.8 1245.0,487.1 1245.3,489.7 1245.7,496.9 1246.0,506.6 1246.4,516.3 1246.8,523.5 1247.1,526.1 1247.7,523.5 1248.3,516.4 1248.9,506.6 1249.5,496.8 1250.1,489.7 1250.7,487.1 1251.1,489.7 1251.4,496.8 1251.8,506.6 1252.2,516.4 1252.5,523.6 1252.9,526.2 1253.3,523.6 1253.7,516.4 1254.1,506.6 1254.5,496.8 1254.9,489.6 1255.3,487.0 1255.7,489.7 1256.0,496.8 1256.3,506.6 1256.7,516.3 1257.1,523.3 1257.4,525.6 1257.8,522.9 1258.2,515.9 1258.7,506.6 1259.1,497.7 1259.5,491.7 1259.9,489.9 1260.3,492.6 1260.6,498.8 1261.0,506.6 1261.4,513.9 1261.7,518.8 1262.1,520.2 1262.5,518.0 1262.9,513.0 1263.2,506.6 1263.6,500.4 1264.0,496.0 1264.4,494.4 1264.8,496.1 1265.1,500.6 1265.5,506.6 1265.8,512.6 1266.2,517.0 1266.5,518.6 1266.9,517.1 1267.4,512.7 1267.8,506.6 1268.2,500.4 1268.7,495.8 1269.1,493.9 1269.4,495.3 1269.7,499.9 1270.0,506.6 1270.3,513.7 1270.6,519.4 1270.9,521.9 1271.3,520.3 1271.7,514.8 1272.2,506.6 1272.6,497.8 1273.0,490.9 1273.4,488.0 1273.7,490.2 1274.1,497.0 1274.4,506.6 1274.7,516.5 1275.1,523.8 1275.4,526.6 1275.8,524.0 1276.2,516.7 1276.7,506.6 1277.1,496.5 1277.5,489.0 1277.9,486.3 1278.4,489.0 1278.8,496.4 1279.2,506.6 1279.7,516.8 1280.1,524.3 1280.6,527.0 1281.0,524.3 1281.4,516.8 1281.8,506.6 1282.3,496.4 1282.7,488.9 1283.1,486.1 1283.5,488.9 1283.9,496.4 1284.3,506.6 1284.8,516.9 1285.2,524.4 1285.6,527.1 1286.0,524.4 1286.4,516.9 1286.8,506.6 1287.1,496.3 1287.5,488.8 1287.9,486.0 1288.3,488.8 1288.6,496.3 1289.0,506.6 1289.4,516.9 1289.7,524.5 1290.1,527.2 1290.6,524.5 1291.0,516.9 1291.5,506.6 1292.0,496.3 1292.4,488.7 1292.9,485.9 1293.2,488.7 1293.6,496.2 1293.9,506.6 1294.2,517.0 1294.6,524.6 1294.9,527.4 1295.3,524.6 1295.6,517.0 1296.0,506.6 1296.4,496.2 1296.7,488.5 1297.1,485.7 1297.6,488.5 1298.2,496.2 1298.7,506.6 1299.2,517.1 1299.8,524.7 1300.3,527.6 1300.5,524.8 1300.8,517.1 1301.0,506.6 1301.3,496.1 1301.5,488.4 1301.8,485.5 1302.2,488.3 1302.6,496.0 1302.9,506.6 1303.3,517.2 1303.7,525.0 1304.1,527.8 1304.5,525.0 1304.9,517.2 1305.2,506.6 1305.6,495.9 1306.0,488.1 1306.4,485.2 1306.8,488.0 1307.2,495.9 1307.6,506.6 1308.0,517.4 1308.4,525.3 1308.8,528.2 1309.2,525.3 1309.7,517.4 1310.2,506.6 1310.6,495.7 1311.0,487.7 1311.5,484.8 1311.7,487.7 1312.0,495.7 1312.2,506.6 1312.4,517.6 1312.7,525.7 1312.9,528.6" stroke="#cccc00" stroke-width="2.6" fill="none" stroke-linejoin="round"/>
<path d="M342.4,790.6 446.0,790.6 447.0,791.6 554.0,791.6 555.0,792.6 676.0,792.6 677.0,793.6 822.0,793.6 824.0,794.8 1025.0,794.8 1026.5,795.8 1313.0,795.8" stroke="#ff0000" stroke-width="4.5" fill="none" stroke-linecap="round"/>
<path d="M227.9,457.1 V556.1 M220.6,457.1 H235.2 M220.6,556.1 H235.2" stroke="#c0c0c0" stroke-width="2" fill="none"/>
<circle cx="227.9" cy="506.6" r="4.2" fill="#000"/>
<g stroke="#000" fill="none">
<path d="M179.2,110.6 H1475.2 V902.6 H179.2 Z" stroke-width="2.2"/>
<path d="M179.2,902.6 v11.5" stroke-width="1.2"/>
<path d="M179.2,110.6 v-11.5" stroke-width="1.2"/>
<path d="M195.4,902.6 v6" stroke-width="1.2"/>
<path d="M195.4,110.6 v-6" stroke-width="1.2"/>
<path d="M211.6,902.6 v6" stroke-width="1.2"/>
<path d="M211.6,110.6 v-6" stroke-width="1.2"/>
<path d="M227.8,902.6 v6" stroke-width="1.2"/>
<path d="M227.8,110.6 v-6" stroke-width="1.2"/>
<path d="M244.0,902.6 v6" stroke-width="1.2"/>
<path d="M244.0,110.6 v-6" stroke-width="1.2"/>
<path d="M260.2,902.6 v6" stroke-width="1.2"/>
<path d="M260.2,110.6 v-6" stroke-width="1.2"/>
<path d="M276.4,902.6 v6" stroke-width="1.2"/>
<path d="M276.4,110.6 v-6" stroke-width="1.2"/>
<path d="M292.6,902.6 v6" stroke-width="1.2"/>
<path d="M292.6,110.6 v-6" stroke-width="1.2"/>
<path d="M308.8,902.6 v6" stroke-width="1.2"/>
<path d="M308.8,110.6 v-6" stroke-width="1.2"/>
<path d="M325.0,902.6 v6" stroke-width="1.2"/>
<path d="M325.0,110.6 v-6" stroke-width="1.2"/>
<path d="M341.2,902.6 v11.5" stroke-width="1.2"/>
<path d="M341.2,110.6 v-11.5" stroke-width="1.2"/>
<path d="M357.4,902.6 v6" stroke-width="1.2"/>
<path d="M357.4,110.6 v-6" stroke-width="1.2"/>
<path d="M373.6,902.6 v6" stroke-width="1.2"/>
<path d="M373.6,110.6 v-6" stroke-width="1.2"/>
<path d="M389.8,902.6 v6" stroke-width="1.2"/>
<path d="M389.8,110.6 v-6" stroke-width="1.2"/>
<path d="M406.0,902.6 v6" stroke-width="1.2"/>
<path d="M406.0,110.6 v-6" stroke-width="1.2"/>
<path d="M422.2,902.6 v6" stroke-width="1.2"/>
<path d="M422.2,110.6 v-6" stroke-width="1.2"/>
<path d="M438.4,902.6 v6" stroke-width="1.2"/>
<path d="M438.4,110.6 v-6" stroke-width="1.2"/>
<path d="M454.6,902.6 v6" stroke-width="1.2"/>
<path d="M454.6,110.6 v-6" stroke-width="1.2"/>
<path d="M470.8,902.6 v6" stroke-width="1.2"/>
<path d="M470.8,110.6 v-6" stroke-width="1.2"/>
<path d="M487.0,902.6 v6" stroke-width="1.2"/>
<path d="M487.0,110.6 v-6" stroke-width="1.2"/>
<path d="M503.2,902.6 v11.5" stroke-width="1.2"/>
<path d="M503.2,110.6 v-11.5" stroke-width="1.2"/>
<path d="M519.4,902.6 v6" stroke-width="1.2"/>
<path d="M519.4,110.6 v-6" stroke-width="1.2"/>
<path d="M535.6,902.6 v6" stroke-width="1.2"/>
<path d="M535.6,110.6 v-6" stroke-width="1.2"/>
<path d="M551.8,902.6 v6" stroke-width="1.2"/>
<path d="M551.8,110.6 v-6" stroke-width="1.2"/>
<path d="M568.0,902.6 v6" stroke-width="1.2"/>
<path d="M568.0,110.6 v-6" stroke-width="1.2"/>
<path d="M584.2,902.6 v6" stroke-width="1.2"/>
<path d="M584.2,110.6 v-6" stroke-width="1.2"/>
<path d="M600.4,902.6 v6" stroke-width="1.2"/>
<path d="M600.4,110.6 v-6" stroke-width="1.2"/>
<path d="M616.6,902.6 v6" stroke-width="1.2"/>
<path d="M616.6,110.6 v-6" stroke-width="1.2"/>
<path d="M632.8,902.6 v6" stroke-width="1.2"/>
<path d="M632.8,110.6 v-6" stroke-width="1.2"/>
<path d="M649.0,902.6 v6" stroke-width="1.2"/>
<path d="M649.0,110.6 v-6" stroke-width="1.2"/>
<path d="M665.2,902.6 v11.5" stroke-width="1.2"/>
<path d="M665.2,110.6 v-11.5" stroke-width="1.2"/>
<path d="M681.4,902.6 v6" stroke-width="1.2"/>
<path d="M681.4,110.6 v-6" stroke-width="1.2"/>
<path d="M697.6,902.6 v6" stroke-width="1.2"/>
<path d="M697.6,110.6 v-6" stroke-width="1.2"/>
<path d="M713.8,902.6 v6" stroke-width="1.2"/>
<path d="M713.8,110.6 v-6" stroke-width="1.2"/>
<path d="M730.0,902.6 v6" stroke-width="1.2"/>
<path d="M730.0,110.6 v-6" stroke-width="1.2"/>
<path d="M746.2,902.6 v6" stroke-width="1.2"/>
<path d="M746.2,110.6 v-6" stroke-width="1.2"/>
<path d="M762.4,902.6 v6" stroke-width="1.2"/>
<path d="M762.4,110.6 v-6" stroke-width="1.2"/>
<path d="M778.6,902.6 v6" stroke-width="1.2"/>
<path d="M778.6,110.6 v-6" stroke-width="1.2"/>
<path d="M794.8,902.6 v6" stroke-width="1.2"/>
<path d="M794.8,110.6 v-6" stroke-width="1.2"/>
<path d="M811.0,902.6 v6" stroke-width="1.2"/>
<path d="M811.0,110.6 v-6" stroke-width="1.2"/>
<path d="M827.2,902.6 v11.5" stroke-width="1.2"/>
<path d="M827.2,110.6 v-11.5" stroke-width="1.2"/>
<path d="M843.4,902.6 v6" stroke-width="1.2"/>
<path d="M843.4,110.6 v-6" stroke-width="1.2"/>
<path d="M859.6,902.6 v6" stroke-width="1.2"/>
<path d="M859.6,110.6 v-6" stroke-width="1.2"/>
<path d="M875.8,902.6 v6" stroke-width="1.2"/>
<path d="M875.8,110.6 v-6" stroke-width="1.2"/>
<path d="M892.0,902.6 v6" stroke-width="1.2"/>
<path d="M892.0,110.6 v-6" stroke-width="1.2"/>
<path d="M908.2,902.6 v6" stroke-width="1.2"/>
<path d="M908.2,110.6 v-6" stroke-width="1.2"/>
<path d="M924.4,902.6 v6" stroke-width="1.2"/>
<path d="M924.4,110.6 v-6" stroke-width="1.2"/>
<path d="M940.6,902.6 v6" stroke-width="1.2"/>
<path d="M940.6,110.6 v-6" stroke-width="1.2"/>
<path d="M956.8,902.6 v6" stroke-width="1.2"/>
<path d="M956.8,110.6 v-6" stroke-width="1.2"/>
<path d="M973.0,902.6 v6" stroke-width="1.2"/>
<path d="M973.0,110.6 v-6" stroke-width="1.2"/>
<path d="M989.2,902.6 v11.5" stroke-width="1.2"/>
<path d="M989.2,110.6 v-11.5" stroke-width="1.2"/>
<path d="M1005.4,902.6 v6" stroke-width="1.2"/>
<path d="M1005.4,110.6 v-6" stroke-width="1.2"/>
<path d="M1021.6,902.6 v6" stroke-width="1.2"/>
<path d="M1021.6,110.6 v-6" stroke-width="1.2"/>
<path d="M1037.8,902.6 v6" stroke-width="1.2"/>
<path d="M1037.8,110.6 v-6" stroke-width="1.2"/>
<path d="M1054.0,902.6 v6" stroke-width="1.2"/>
<path d="M1054.0,110.6 v-6" stroke-width="1.2"/>
<path d="M1070.2,902.6 v6" stroke-width="1.2"/>
<path d="M1070.2,110.6 v-6" stroke-width="1.2"/>
<path d="M1086.4,902.6 v6" stroke-width="1.2"/>
<path d="M1086.4,110.6 v-6" stroke-width="1.2"/>
<path d="M1102.6,902.6 v6" stroke-width="1.2"/>
<path d="M1102.6,110.6 v-6" stroke-width="1.2"/>
<path d="M1118.8,902.6 v6" stroke-width="1.2"/>
<path d="M1118.8,110.6 v-6" stroke-width="1.2"/>
<path d="M1135.0,902.6 v6" stroke-width="1.2"/>
<path d="M1135.0,110.6 v-6" stroke-width="1.2"/>
<path d="M1151.2,902.6 v11.5" stroke-width="1.2"/>
<path d="M1151.2,110.6 v-11.5" stroke-width="1.2"/>
<path d="M1167.4,902.6 v6" stroke-width="1.2"/>
<path d="M1167.4,110.6 v-6" stroke-width="1.2"/>
<path d="M1183.6,902.6 v6" stroke-width="1.2"/>
<path d="M1183.6,110.6 v-6" stroke-width="1.2"/>
<path d="M1199.8,902.6 v6" stroke-width="1.2"/>
<path d="M1199.8,110.6 v-6" stroke-width="1.2"/>
<path d="M1216.0,902.6 v6" stroke-width="1.2"/>
<path d="M1216.0,110.6 v-6" stroke-width="1.2"/>
<path d="M1232.2,902.6 v6" stroke-width="1.2"/>
<path d="M1232.2,110.6 v-6" stroke-width="1.2"/>
<path d="M1248.4,902.6 v6" stroke-width="1.2"/>
<path d="M1248.4,110.6 v-6" stroke-width="1.2"/>
<path d="M1264.6,902.6 v6" stroke-width="1.2"/>
<path d="M1264.6,110.6 v-6" stroke-width="1.2"/>
<path d="M1280.8,902.6 v6" stroke-width="1.2"/>
<path d="M1280.8,110.6 v-6" stroke-width="1.2"/>
<path d="M1297.0,902.6 v6" stroke-width="1.2"/>
<path d="M1297.0,110.6 v-6" stroke-width="1.2"/>
<path d="M1313.2,902.6 v11.5" stroke-width="1.2"/>
<path d="M1313.2,110.6 v-11.5" stroke-width="1.2"/>
<path d="M1329.4,902.6 v6" stroke-width="1.2"/>
<path d="M1329.4,110.6 v-6" stroke-width="1.2"/>
<path d="M1345.6,902.6 v6" stroke-width="1.2"/>
<path d="M1345.6,110.6 v-6" stroke-width="1.2"/>
<path d="M1361.8,902.6 v6" stroke-width="1.2"/>
<path d="M1361.8,110.6 v-6" stroke-width="1.2"/>
<path d="M1378.0,902.6 v6" stroke-width="1.2"/>
<path d="M1378.0,110.6 v-6" stroke-width="1.2"/>
<path d="M1394.2,902.6 v6" stroke-width="1.2"/>
<path d="M1394.2,110.6 v-6" stroke-width="1.2"/>
<path d="M1410.4,902.6 v6" stroke-width="1.2"/>
<path d="M1410.4,110.6 v-6" stroke-width="1.2"/>
<path d="M1426.6,902.6 v6" stroke-width="1.2"/>
<path d="M1426.6,110.6 v-6" stroke-width="1.2"/>
<path d="M1442.8,902.6 v6" stroke-width="1.2"/>
<path d="M1442.8,110.6 v-6" stroke-width="1.2"/>
<path d="M1459.0,902.6 v6" stroke-width="1.2"/>
<path d="M1459.0,110.6 v-6" stroke-width="1.2"/>
<path d="M1475.2,902.6 v11.5" stroke-width="1.2"/>
<path d="M1475.2,110.6 v-11.5" stroke-width="1.2"/>
<path d="M179.2,902.6 h-12" stroke-width="1.2"/>
<path d="M179.2,877.9 h-6" stroke-width="1.2"/>
<path d="M179.2,853.1 h-6" stroke-width="1.2"/>
<path d="M179.2,828.4 h-6" stroke-width="1.2"/>
<path d="M179.2,803.6 h-12" stroke-width="1.2"/>
<path d="M179.2,778.9 h-6" stroke-width="1.2"/>
<path d="M179.2,754.1 h-6" stroke-width="1.2"/>
<path d="M179.2,729.4 h-6" stroke-width="1.2"/>
<path d="M179.2,704.6 h-12" stroke-width="1.2"/>
<path d="M179.2,679.9 h-6" stroke-width="1.2"/>
<path d="M179.2,655.1 h-6" stroke-width="1.2"/>
<path d="M179.2,630.4 h-6" stroke-width="1.2"/>
<path d="M179.2,605.6 h-12" stroke-width="1.2"/>
<path d="M179.2,580.9 h-6" stroke-width="1.2"/>
<path d="M179.2,556.1 h-6" stroke-width="1.2"/>
<path d="M179.2,531.4 h-6" stroke-width="1.2"/>
<path d="M179.2,506.6 h-12" stroke-width="1.2"/>
<path d="M179.2,481.9 h-6" stroke-width="1.2"/>
<path d="M179.2,457.1 h-6" stroke-width="1.2"/>
<path d="M179.2,432.4 h-6" stroke-width="1.2"/>
<path d="M179.2,407.6 h-12" stroke-width="1.2"/>
<path d="M179.2,382.9 h-6" stroke-width="1.2"/>
<path d="M179.2,358.1 h-6" stroke-width="1.2"/>
<path d="M179.2,333.4 h-6" stroke-width="1.2"/>
<path d="M179.2,308.6 h-12" stroke-width="1.2"/>
<path d="M179.2,283.9 h-6" stroke-width="1.2"/>
<path d="M179.2,259.1 h-6" stroke-width="1.2"/>
<path d="M179.2,234.3 h-6" stroke-width="1.2"/>
<path d="M179.2,209.6 h-12" stroke-width="1.2"/>
<path d="M179.2,184.8 h-6" stroke-width="1.2"/>
<path d="M179.2,160.1 h-6" stroke-width="1.2"/>
<path d="M179.2,135.3 h-6" stroke-width="1.2"/>
<path d="M179.2,110.6 h-12" stroke-width="1.2"/>
<path d="M1475.2,467.0 h6" stroke-width="1.2"/>
<path d="M1475.2,427.4 h11.5" stroke-width="1.2"/>
<path d="M1475.2,387.8 h6" stroke-width="1.2"/>
<path d="M1475.2,348.2 h11.5" stroke-width="1.2"/>
<path d="M1475.2,308.6 h6" stroke-width="1.2"/>
<path d="M1475.2,269.0 h11.5" stroke-width="1.2"/>
<path d="M1475.2,229.4 h6" stroke-width="1.2"/>
<path d="M1475.2,189.8 h11.5" stroke-width="1.2"/>
<path d="M1475.2,150.2 h6" stroke-width="1.2"/>
<path d="M1475.2,902.9 h11.5" stroke-width="1.2"/>
<path d="M1475.2,889.7 h6" stroke-width="1.2"/>
<path d="M1475.2,876.5 h6" stroke-width="1.2"/>
<path d="M1475.2,863.2 h6" stroke-width="1.2"/>
<path d="M1475.2,850.0 h6" stroke-width="1.2"/>
<path d="M1475.2,836.8 h11.5" stroke-width="1.2"/>
<path d="M1475.2,823.6 h6" stroke-width="1.2"/>
<path d="M1475.2,810.4 h6" stroke-width="1.2"/>
<path d="M1475.2,797.1 h6" stroke-width="1.2"/>
<path d="M1475.2,783.9 h6" stroke-width="1.2"/>
<path d="M1475.2,770.7 h11.5" stroke-width="1.2"/>
<path d="M1475.2,757.5 h6" stroke-width="1.2"/>
<path d="M1475.2,744.3 h6" stroke-width="1.2"/>
<path d="M1475.2,731.0 h6" stroke-width="1.2"/>
<path d="M1475.2,717.8 h6" stroke-width="1.2"/>
<path d="M1475.2,704.6 h11.5" stroke-width="1.2"/>
<path d="M1475.2,691.4 h6" stroke-width="1.2"/>
<path d="M1475.2,678.2 h6" stroke-width="1.2"/>
<path d="M1475.2,664.9 h6" stroke-width="1.2"/>
<path d="M1475.2,651.7 h6" stroke-width="1.2"/>
<path d="M1475.2,638.5 h11.5" stroke-width="1.2"/>
<path d="M1475.2,625.3 h6" stroke-width="1.2"/>
<path d="M1475.2,612.1 h6" stroke-width="1.2"/>
<path d="M1475.2,598.8 h6" stroke-width="1.2"/>
<path d="M1475.2,585.6 h6" stroke-width="1.2"/>
<path d="M1475.2,572.4 h11.5" stroke-width="1.2"/>
<path d="M1475.2,559.2 h6" stroke-width="1.2"/>
<path d="M1475.2,546.0 h6" stroke-width="1.2"/>
<path d="M1475.2,532.7 h6" stroke-width="1.2"/>
<path d="M1475.2,519.5 h6" stroke-width="1.2"/>
</g>
<g style="font-family:'Liberation Sans',sans-serif" font-size="24" fill="#000">
<text x="179.2" y="943.3" text-anchor="middle">–10</text>
<text x="341.2" y="943.3" text-anchor="middle">0</text>
<text x="503.2" y="943.3" text-anchor="middle">10</text>
<text x="665.2" y="943.3" text-anchor="middle">20</text>
<text x="827.2" y="943.3" text-anchor="middle">30</text>
<text x="989.2" y="943.3" text-anchor="middle">40</text>
<text x="1151.2" y="943.3" text-anchor="middle">50</text>
<text x="1313.2" y="943.3" text-anchor="middle">60</text>
<text x="1475.2" y="943.3" text-anchor="middle">70</text>
<text x="155.6" y="911.1" text-anchor="end">–160</text>
<text x="155.6" y="812.1" text-anchor="end">–120</text>
<text x="155.6" y="713.1" text-anchor="end">–80</text>
<text x="155.6" y="614.1" text-anchor="end">–40</text>
<text x="155.6" y="515.1" text-anchor="end">0</text>
<text x="155.6" y="416.1" text-anchor="end">40</text>
<text x="155.6" y="317.1" text-anchor="end">80</text>
<text x="155.6" y="218.1" text-anchor="end">120</text>
<text x="155.6" y="119.1" text-anchor="end">160</text>
<text x="1550.5" y="198.3" text-anchor="end">1022</text>
<text x="1550.5" y="277.5" text-anchor="end">1020</text>
<text x="1550.5" y="356.7" text-anchor="end">1018</text>
<text x="1550.5" y="435.9" text-anchor="end">1016</text>
<text x="1564.8" y="580.9" text-anchor="end">1000</text>
<text x="1564.8" y="647.0" text-anchor="end">500</text>
<text x="1564.8" y="713.1" text-anchor="end">0</text>
<text x="1564.8" y="779.2" text-anchor="end">–500</text>
<text x="1564.8" y="845.3" text-anchor="end">–1000</text>
<text x="1564.8" y="911.4" text-anchor="end">–1500</text>
</g>
<text x="558" y="990.7" style="font-family:'Liberation Sans',sans-serif" font-size="27.9">Time [min] from 2016–09–24 05:00:00 UTC</text>
<text transform="translate(74.3,636.5) rotate(-90)" style="font-family:'Liberation Sans',sans-serif" font-size="27.7">Obs’d Gravity [nm/s<tspan font-size="18" dy="-10">2</tspan><tspan dy="10">]</tspan></text>
<text transform="translate(1599.9,400) rotate(-90)" style="font-family:'Liberation Sans',sans-serif" font-size="27.7">Pressure [hPa]</text>
<text transform="translate(1614.2,778.5) rotate(-90)" style="font-family:'Liberation Sans',sans-serif" font-size="28">Tide [nm/s<tspan font-size="18" dy="-10">2</tspan><tspan dy="10">]</tspan></text>
<text x="576" y="82.2" style="font-family:'Liberation Sans',sans-serif" font-size="32.25" font-weight="bold">SCG_054 gravimeter Onsala Space Observatory, Sweden</text>
<text x="208" y="887.9" style="font-family:'Liberation Sans',sans-serif" font-size="28" font-weight="bold">The requested 1–hour, 1–second sampling</text>
<text x="1446" y="887.9" text-anchor="end" style="font-family:'Liberation Sans',sans-serif" font-size="28" font-weight="bold">End at 2016–09–24 05:59:59 UTC</text>
<text transform="translate(1403,404) rotate(-90)" style="font-family:'Liberation Sans',sans-serif" font-size="24">1 DIV = 0.5 hPa/h</text>
<text transform="translate(1442.8,403.2) rotate(-90)" style="font-family:'Liberation Sans',sans-serif" font-size="24">average = 0.0976</text>
<text transform="translate(259.4,603.8) rotate(-90)" style="font-family:'Liberation Sans',sans-serif" font-size="24">Typical noise level</text>
<rect x="183" y="18.3" width="372.5" height="162.5" fill="#fff" stroke="#888" stroke-width="1.2"/>
<path d="M220,39.2 H276" stroke="#4040ff" stroke-width="1"/><circle cx="248.2" cy="39.2" r="4.2" fill="#0000ff"/>
<path d="M220,69.7 H276" stroke="#40d0d0" stroke-width="1"/><circle cx="248.2" cy="69.7" r="4.2" fill="#00c8c8"/>
<path d="M220,100.1 H276" stroke="#000" stroke-width="3"/>
<path d="M220,130.6 H276" stroke="#c0c0c0" stroke-width="3"/>
<path d="M220,161.1 H276" stroke="#ff4040" stroke-width="1"/><circle cx="248.2" cy="161.1" r="4.2" fill="#ff0000"/>
<g style="font-family:'Liberation Sans',sans-serif" font-size="24">
<text x="295.5" y="47.6">Pressure</text>
<text x="295.5" y="78.1">dP/dt range ±0.3 hPa/s</text>
<text x="295.5" y="108.5">Residual</text>
<text x="295.5" y="139.0">... last 10 min.</text>
<text x="295.5" y="169.5">Theor.Tide</text>
</g>
<path d="M1345.5,110.9 H1378.5" stroke="#4dbaba" stroke-width="1.2" fill="none"/>
<path d="M341.3,688.6 342.0,703.7 342.7,718.0 343.4,731.6 344.1,744.4 344.8,756.4 345.5,767.5 346.2,777.7 346.9,786.9 347.6,795.2 348.3,802.5 349.0,808.7 349.7,813.9 350.4,817.9 351.1,820.8 351.8,822.4 352.5,822.9 353.2,822.2 353.9,820.7 354.6,818.4 355.3,815.4 356.0,812.0 356.7,808.1 357.4,804.1 358.1,799.9 358.8,795.7 359.5,791.7 360.2,787.7 360.9,783.2 361.6,778.0 362.3,772.4 363.0,766.3 363.7,759.8 364.4,753.1 365.1,746.2 365.8,739.2 366.5,732.2 367.2,725.3 367.9,718.5 368.6,712.1 369.3,705.9 370.0,700.2 370.7,695.0 371.4,690.5 372.1,686.6 372.8,683.5 373.5,681.3 374.2,680.0 374.9,679.8 375.6,681.0 376.3,683.5 377.0,687.2 377.7,692.0 378.4,697.5 379.1,703.6 379.8,710.1 380.5,716.9 381.2,723.6 381.9,730.3 382.6,736.6 383.3,742.3 384.0,747.5 384.7,753.1 385.4,759.1 386.1,765.5 386.8,772.0 387.5,778.4 388.2,784.7 388.9,790.5 389.6,795.7 390.3,800.2 391.0,803.7 391.7,806.1 392.4,807.2 393.1,807.2 393.8,806.8 394.5,806.0 395.2,805.0 395.9,803.6 396.6,802.0 397.3,800.1 398.0,797.9 398.7,795.6 399.4,793.1 400.1,790.4 400.8,787.5 401.5,784.5 402.2,780.5 402.9,774.2 403.6,766.6 404.3,758.2 405.0,750.0 405.7,742.7 406.4,736.9 407.1,731.3 407.8,725.5 408.5,719.6 409.2,713.9 409.9,708.4 410.6,703.1 411.3,698.4 412.0,694.1 412.7,690.6 413.4,687.8 414.1,685.9 414.8,685.0 415.5,685.7 416.2,688.7 416.9,693.8 417.6,700.7 418.3,708.9 419.0,718.2 419.7,728.1 420.4,738.2 421.1,748.3 421.8,758.0 422.5,766.9 423.2,774.5 423.9,780.7 424.6,785.0 425.3,787.0 426.0,787.1 426.7,786.9 427.4,786.7 428.1,786.4 428.8,786.0 429.5,785.6 430.2,785.0 430.9,784.5 431.6,783.8 432.3,783.2 433.0,782.5 433.7,781.3 434.4,779.5 435.1,777.1 435.8,774.1 436.5,770.7 437.2,766.9 437.9,762.8 438.6,758.5 439.3,754.0 440.0,749.5 440.7,744.9 441.4,740.5 442.1,736.1 442.8,732.0 443.5,728.2 444.2,724.7 444.9,721.7 445.6,719.2 446.3,717.3 447.0,716.0 447.7,715.5 448.4,716.1 449.1,718.1 449.8,721.3 450.5,725.5 451.2,730.3 451.9,735.5 452.6,740.9 453.3,746.2 454.0,751.1 454.7,755.3 455.4,758.7 456.1,760.9 456.8,761.7 457.5,761.6 458.2,761.2 458.9,760.6 459.6,759.8 460.3,758.9 461.0,757.8 461.7,756.5 462.4,755.2 463.1,753.7 463.8,752.2 464.5,750.5 465.2,747.5 465.9,743.5 466.6,738.8 467.3,734.0 468.0,729.4 468.7,725.4 469.4,722.6 470.1,721.4 470.8,721.5 471.5,722.0 472.2,722.7 472.9,723.7 473.6,725.0 474.3,726.5 475.0,728.2 475.7,730.0 476.4,732.1 477.1,734.3 477.8,736.7 478.5,741.2 479.2,748.3 479.9,757.0 480.6,766.5 481.3,775.7 482.0,783.8 482.7,789.8 483.4,792.8 484.1,792.7 484.8,791.4 485.5,789.2 486.2,786.2 486.9,782.5 487.6,778.3 488.3,773.7 489.0,768.9 489.7,763.9 490.4,759.0 491.1,754.2 491.8,749.8 492.5,745.7 493.2,742.2 493.9,739.4 494.6,737.4 495.3,736.4 496.0,736.5 496.7,737.4 497.4,739.0 498.1,741.0 498.8,743.4 499.5,746.0 500.2,748.5 500.9,750.7 501.6,752.5 502.3,753.7 503.0,754.2 503.7,753.1 504.4,750.1 505.1,745.5 505.8,739.8 506.5,733.4 507.2,726.7 507.9,720.0 508.6,713.8 509.3,708.6 510.0,704.6 510.7,702.4 511.4,702.2 512.1,704.2 512.8,708.0 513.5,713.4 514.2,720.2 514.9,727.9 515.6,736.4 516.3,745.4 517.0,754.5 517.7,763.6 518.4,772.2 519.1,780.2 519.8,787.3 520.5,793.1 521.2,797.4 521.9,799.9 522.6,800.5 523.3,799.9 524.0,798.6 524.7,796.8 525.4,794.5 526.1,791.9 526.8,788.9 527.5,785.8 528.2,782.6 528.9,779.4 529.6,776.4 530.3,773.4 531.0,769.9 531.7,765.9 532.4,761.5 533.1,756.7 533.8,751.8 534.5,746.6 535.2,741.3 535.9,736.1 536.6,730.9 537.3,725.9 538.0,721.1 538.7,716.6 539.4,712.5 540.1,708.8 540.8,705.8 541.5,703.3 542.2,701.6 542.9,700.6 543.6,700.5 544.3,700.7 545.0,701.1 545.7,701.7 546.4,702.4 547.1,703.2 547.8,704.2 548.5,705.3 549.2,706.5 549.9,707.8 550.6,709.1 551.3,710.8 552.0,713.8 552.7,717.9 553.4,723.0 554.1,728.9 554.8,735.6 555.5,742.7 556.2,750.2 556.9,758.0 557.6,765.8 558.3,773.5 559.0,780.9 559.7,788.0 560.4,794.5 561.1,800.3 561.8,805.2 562.5,809.1 563.2,811.8 563.9,813.2 564.6,813.1 565.3,812.2 566.0,810.4 566.7,807.8 567.4,804.4 568.1,800.5 568.8,795.9 569.5,790.8 570.2,785.3 570.9,779.3 571.6,773.0 572.3,766.4 573.0,759.7 573.7,752.7 574.4,745.7 575.1,738.7 575.8,731.7 576.5,724.8 577.2,718.1 577.9,711.6 578.6,705.3 579.3,699.5 580.0,694.1 580.7,689.1 581.4,684.7 582.1,680.9 582.8,677.8 583.5,675.4 584.2,673.9 584.9,673.1 585.6,673.5 586.3,675.2 587.0,678.3 587.7,682.6 588.4,688.0 589.1,694.3 589.8,701.5 590.5,709.4 591.2,717.8 591.9,726.8 592.6,736.2 593.3,745.8 594.0,755.5 594.7,765.2 595.4,774.9 596.1,784.3 596.8,793.3 597.5,801.9 598.2,809.9 598.9,817.1 599.6,823.6 600.3,829.1 601.0,833.5 601.7,836.8 602.4,838.8 603.1,839.3 603.8,838.3 604.5,836.0 605.2,832.3 605.9,827.5 606.6,821.6 607.3,814.7 608.0,807.0 608.7,798.5 609.4,789.4 610.1,779.8 610.8,769.7 611.5,759.4 612.2,748.9 612.9,738.3 613.6,727.7 614.3,717.3 615.0,707.1 615.7,697.3 616.4,687.9 617.1,679.2 617.8,671.1 618.5,663.9 619.2,657.5 619.9,652.2 620.6,648.0 621.3,645.1 622.0,643.5 622.7,643.5 623.4,645.3 624.1,649.1 624.8,654.5 625.5,661.4 626.2,669.7 626.9,679.2 627.6,689.7 628.3,701.1 629.0,713.2 629.7,725.9 630.4,738.9 631.1,752.2 631.8,765.5 632.5,778.7 633.2,791.7 633.9,804.2 634.6,816.1 635.3,827.3 636.0,837.6 636.7,846.7 637.4,854.6 638.1,861.1 638.8,866.1 639.5,869.3 640.2,870.6 640.9,869.6 641.6,865.9 642.3,859.7 643.0,851.5 643.7,841.4 644.4,829.6 645.1,816.6 645.8,802.6 646.5,787.7 647.2,772.4 647.9,756.9 648.6,741.4 649.3,726.2 650.0,711.7 650.7,698.1 651.4,685.6 652.1,674.5 652.8,665.1 653.5,657.8 654.2,652.7 654.9,650.1 655.6,650.1 656.3,651.8 657.0,655.1 657.7,659.9 658.4,665.8 659.1,673.0 659.8,681.2 660.5,690.2 661.2,700.1 661.9,710.6 662.6,721.7 663.3,733.1 664.0,744.9 664.7,756.8 665.4,768.7 666.1,780.6 666.8,792.2 667.5,803.5 668.2,814.4 668.9,824.6 669.6,834.2 670.3,842.9 671.0,850.6 671.7,857.3 672.4,862.7 673.1,866.8 673.8,869.5 674.5,870.6 675.2,869.9 675.9,867.4 676.6,863.1 677.3,857.4 678.0,850.3 678.7,842.0 679.4,832.7 680.1,822.5 680.8,811.5 681.5,800.0 682.2,788.1 682.9,776.0 683.6,763.8 684.3,751.6 685.0,739.7 685.7,728.2 686.4,717.3 687.1,707.1 687.8,697.7 688.5,689.4 689.2,682.3 689.9,676.6 690.6,672.4 691.3,669.7 692.0,667.3 692.7,665.0 693.4,662.9 694.1,661.1 694.8,659.5 695.5,658.3 696.2,657.6 696.9,657.3 697.6,659.2 698.3,664.4 699.0,672.7 699.7,683.4 700.4,696.2 701.1,710.7 701.8,726.2 702.5,742.5 703.2,759.1 703.9,775.5 704.6,791.2 705.3,805.8 706.0,818.9 706.7,829.9 707.4,838.6 708.1,844.3 708.8,846.7 709.5,846.3 710.2,844.9 710.9,842.6 711.6,839.5 712.3,835.5 713.0,830.8 713.7,825.4 714.4,819.4 715.1,812.9 715.8,805.9 716.5,798.5 717.2,790.7 717.9,782.7 718.6,774.5 719.3,766.1 720.0,757.7 720.7,749.2 721.4,740.8 722.1,732.5 722.8,724.4 723.5,716.6 724.2,709.1 724.9,702.0 725.6,695.3 726.3,689.2 727.0,683.6 727.7,678.7 728.4,674.5 729.1,671.1 729.8,668.5 730.5,666.9 731.2,666.2 731.9,666.9 732.6,669.5 733.3,673.7 734.0,679.5 734.7,686.6 735.4,694.9 736.1,704.2 736.8,714.3 737.5,725.0 738.2,736.3 738.9,747.9 739.6,759.6 740.3,771.3 741.0,782.8 741.7,794.0 742.4,804.6 743.1,814.5 743.8,823.5 744.5,831.5 745.2,838.2 745.9,843.6 746.6,847.3 747.3,849.4 748.0,849.5 748.7,847.2 749.4,842.8 750.1,836.4 750.8,828.3 751.5,818.8 752.2,808.0 752.9,796.4 753.6,784.0 754.3,771.2 755.0,758.2 755.7,745.2 756.4,732.5 757.1,720.4 757.8,709.1 758.5,698.9 759.2,690.0 759.9,682.6 760.6,677.0 761.3,673.4 762.0,672.2 762.7,672.5 763.4,673.2 764.1,674.3 764.8,675.8 765.5,677.7 766.2,679.8 766.9,682.2 767.6,684.7 768.3,687.4 769.0,690.7 769.7,696.3 770.4,704.3 771.1,714.1 771.8,725.4 772.5,737.6 773.2,750.5 773.9,763.5 774.6,776.3 775.3,788.4 776.0,799.5 776.7,809.0 777.4,816.6 778.1,821.8 778.8,824.3 779.5,824.1 780.2,822.6 780.9,820.1 781.6,816.6 782.3,812.1 783.0,806.9 783.7,801.0 784.4,794.5 785.1,787.4 785.8,780.0 786.5,772.3 787.2,764.4 787.9,756.3 788.6,748.3 789.3,740.3 790.0,732.6 790.7,725.1 791.4,718.0 792.1,711.4 792.8,705.4 793.5,700.1 794.2,695.5 794.9,691.9 795.6,689.2 796.3,687.6 797.0,687.1 797.7,688.5 798.4,691.7 799.1,696.7 799.8,703.1 800.5,710.8 801.2,719.5 801.9,729.0 802.6,739.0 803.3,749.3 804.0,759.8 804.7,770.1 805.4,780.0 806.1,789.4 806.8,798.0 807.5,805.5 808.2,811.7 808.9,816.4 809.6,819.4 810.3,820.5 811.0,819.2 811.7,815.6 812.4,809.8 813.1,802.3 813.8,793.2 814.5,782.8 815.2,771.4 815.9,759.4 816.6,746.9 817.3,734.2 818.0,721.7 818.7,709.5 819.4,698.1 820.1,687.5 820.8,678.2 821.5,670.4 822.2,664.4 822.9,660.5 823.6,658.8 824.3,659.5 825.0,662.1 825.7,666.3 826.4,672.0 827.1,679.0 827.8,687.1 828.5,696.2 829.2,706.1 829.9,716.6 830.6,727.5 831.3,738.6 832.0,749.9 832.7,760.9 833.4,771.7 834.1,782.1 834.8,791.7 835.5,800.6 836.2,808.4 836.9,815.1 837.6,820.4 838.3,824.1 839.0,826.2 839.7,826.3 840.4,824.8 841.1,821.8 841.8,817.4 842.5,811.8 843.2,805.2 843.9,797.7 844.6,789.4 845.3,780.6 846.0,771.4 846.7,761.9 847.4,752.3 848.1,742.7 848.8,733.3 849.5,724.3 850.2,715.8 850.9,707.9 851.6,700.9 852.3,694.9 853.0,689.9 853.7,686.3 854.4,684.1 855.1,683.5 855.8,684.4 856.5,686.7 857.2,690.1 857.9,694.5 858.6,699.9 859.3,706.0 860.0,712.8 860.7,720.0 861.4,727.7 862.1,735.6 862.8,743.5 863.5,751.5 864.2,759.2 864.9,766.7 865.6,773.7 866.3,780.1 867.0,785.8 867.7,790.7 868.4,794.5 869.1,797.3 869.8,798.8 870.5,799.0 871.2,798.9 871.9,798.7 872.6,798.4 873.3,798.1 874.0,797.0 874.7,794.4 875.4,790.3 876.1,784.9 876.8,778.5 877.5,771.2 878.2,763.3 878.9,754.9 879.6,746.3 880.3,737.6 881.0,729.1 881.7,720.9 882.4,713.2 883.1,706.3 883.8,700.4 884.5,695.6 885.2,692.2 885.9,690.3 886.6,690.1 887.3,690.9 888.0,692.4 888.7,694.4 889.4,696.5 890.1,698.9 890.8,702.2 891.5,706.5 892.2,711.6 892.9,717.3 893.6,723.7 894.3,730.5 895.0,737.7 895.7,745.1 896.4,752.7 897.1,760.3 897.8,767.8 898.5,775.1 899.2,782.1 899.9,788.8 900.6,794.8 901.3,800.3 902.0,805.0 902.7,808.9 903.4,811.8 904.1,813.6 904.8,814.2 905.5,813.5 906.2,811.4 906.9,808.1 907.6,803.7 908.3,798.3 909.0,792.1 909.7,785.1 910.4,777.5 911.1,769.5 911.8,761.1 912.5,752.4 913.2,743.7 913.9,735.0 914.6,726.5 915.3,718.2 916.0,710.4 916.7,703.0 917.4,696.4 918.1,690.5 918.8,685.5 919.5,681.5 920.2,678.7 920.9,677.2 921.6,677.4 922.3,680.7 923.0,687.2 923.7,696.3 924.4,707.6 925.1,720.4 925.8,734.2 926.5,748.5 927.2,762.9 927.9,776.7 928.6,789.5 929.3,800.8 930.0,809.9 930.7,816.4 931.4,819.7 932.1,819.9 932.8,818.9 933.5,816.9 934.2,814.1 934.9,810.6 935.6,806.4 936.3,801.6 937.0,796.3 937.7,790.5 938.4,784.3 939.1,777.9 939.8,771.3 940.5,764.5 941.2,757.6 941.9,750.8 942.6,744.1 943.3,737.5 944.0,731.2 944.7,725.2 945.4,719.6 946.1,714.5 946.8,709.9 947.5,706.0 948.2,702.8 948.9,700.3 949.6,698.8 950.3,698.1 951.0,698.8 951.7,701.0 952.4,704.7 953.1,709.6 953.8,715.5 954.5,722.0 955.2,729.1 955.9,736.5 956.6,743.9 957.3,751.1 958.0,757.9 958.7,764.0 959.4,769.3 960.1,773.5 960.8,776.4 961.5,778.5 962.2,780.6 962.9,782.5 963.6,784.3 964.3,785.9 965.0,787.3 965.7,788.3 966.4,789.0 967.1,789.3 967.8,788.7 968.5,786.4 969.2,782.7 969.9,777.8 970.6,771.9 971.3,765.2 972.0,757.9 972.7,750.2 973.4,742.3 974.1,734.4 974.8,726.7 975.5,719.5 976.2,712.9 976.9,707.1 977.6,702.4 978.3,698.9 979.0,696.8 979.7,696.5 980.4,697.8 981.1,700.7 981.8,705.0 982.5,710.5 983.2,717.0 983.9,724.3 984.6,732.2 985.3,740.6 986.0,749.3 986.7,758.0 987.4,766.7 988.1,775.0 988.8,782.9 989.5,790.1 990.2,796.4 990.9,801.8 991.6,805.9 992.3,808.6 993.0,809.7 993.7,809.1 994.4,807.0 995.1,803.7 995.8,799.2 996.5,793.8 997.2,787.6 997.9,781.0 998.6,774.0 999.3,766.8 1000.0,759.8 1000.7,752.9 1001.4,746.6 1002.1,740.8 1002.8,735.9 1003.5,731.3 1004.2,726.3 1004.9,721.2 1005.6,716.1 1006.3,711.1 1007.0,706.4 1007.7,702.0 1008.4,698.3 1009.1,695.2 1009.8,693.0 1010.5,691.8 1011.2,691.8 1011.9,693.8 1012.6,697.6 1013.3,703.2 1014.0,710.3 1014.7,718.6 1015.4,728.0 1016.1,738.3 1016.8,749.2 1017.5,760.5 1018.2,772.0 1018.9,783.5 1019.6,794.8 1020.3,805.7 1021.0,816.0 1021.7,825.4 1022.4,833.7 1023.1,840.8 1023.8,846.4 1024.5,850.2 1025.2,852.2 1025.9,852.0 1026.6,849.8 1027.3,845.7 1028.0,839.8 1028.7,832.4 1029.4,823.7 1030.1,813.8 1030.8,803.0 1031.5,791.4 1032.2,779.3 1032.9,766.8 1033.6,754.1 1034.3,741.3 1035.0,728.8 1035.7,716.7 1036.4,705.1 1037.1,694.3 1037.8,684.4 1038.5,675.7 1039.2,668.3 1039.9,662.4 1040.6,658.3 1041.3,656.1 1042.0,656.0 1042.7,658.4 1043.4,663.2 1044.1,670.2 1044.8,679.0 1045.5,689.4 1046.2,701.1 1046.9,713.9 1047.6,727.5 1048.3,741.6 1049.0,755.9 1049.7,770.2 1050.4,784.2 1051.1,797.7 1051.8,810.3 1052.5,821.9 1053.2,832.0 1053.9,840.6 1054.6,847.3 1055.3,851.8 1056.0,853.9 1056.7,853.6 1057.4,851.6 1058.1,848.1 1058.8,843.3 1059.5,837.3 1060.2,830.2 1060.9,822.2 1061.6,813.4 1062.3,803.9 1063.0,793.8 1063.7,783.4 1064.4,772.7 1065.1,761.8 1065.8,750.9 1066.5,740.2 1067.2,729.8 1067.9,719.7 1068.6,710.2 1069.3,701.4 1070.0,693.4 1070.7,686.3 1071.4,680.3 1072.1,675.5 1072.8,672.0 1073.5,670.0 1074.2,669.7 1074.9,671.1 1075.6,674.2 1076.3,678.8 1077.0,684.8 1077.7,691.9 1078.4,700.1 1079.1,709.1 1079.8,718.9 1080.5,729.1 1081.2,739.8 1081.9,750.6 1082.6,761.5 1083.3,772.3 1084.0,782.8 1084.7,792.9 1085.4,802.3 1086.1,811.0 1086.8,818.8 1087.5,825.4 1088.2,830.8 1088.9,834.8 1089.6,837.2 1090.3,837.9 1091.0,836.1 1091.7,831.9 1092.4,825.6 1093.1,817.5 1093.8,807.9 1094.5,797.3 1095.2,785.8 1095.9,773.9 1096.6,762.0 1097.3,750.2 1098.0,739.1 1098.7,728.9 1099.4,719.9 1100.1,712.5 1100.8,707.0 1101.5,703.9 1102.2,702.3 1102.9,700.8 1103.6,699.5 1104.3,698.2 1105.0,697.0 1105.7,696.0 1106.4,695.1 1107.1,694.4 1107.8,693.8 1108.5,693.4 1109.2,693.2 1109.9,693.4 1110.6,695.0 1111.3,698.2 1112.0,702.7 1112.7,708.4 1113.4,715.0 1114.1,722.5 1114.8,730.4 1115.5,738.8 1116.2,747.3 1116.9,755.8 1117.6,764.1 1118.3,771.9 1119.0,779.2 1119.7,785.6 1120.4,790.9 1121.1,795.1 1121.8,797.8 1122.5,799.0 1123.2,798.4 1123.9,796.3 1124.6,792.9 1125.3,788.3 1126.0,782.7 1126.7,776.4 1127.4,769.4 1128.1,762.0 1128.8,754.4 1129.5,746.6 1130.2,739.1 1130.9,731.8 1131.6,725.0 1132.3,718.8 1133.0,713.5 1133.7,709.2 1134.4,706.2 1135.1,704.5 1135.8,704.3 1136.5,705.8 1137.2,708.5 1137.9,712.5 1138.6,717.5 1139.3,723.3 1140.0,729.8 1140.7,736.8 1141.4,744.1 1142.1,751.6 1142.8,759.0 1143.5,766.2 1144.2,773.1 1144.9,779.4 1145.6,785.0 1146.3,789.7 1147.0,793.4 1147.7,795.8 1148.4,796.8 1149.1,796.1 1149.8,793.5 1150.5,789.3 1151.2,783.7 1151.9,776.9 1152.6,769.1 1153.3,760.6 1154.0,751.6 1154.7,742.2 1155.4,732.8 1156.1,723.5 1156.8,714.6 1157.5,706.3 1158.2,698.8 1158.9,692.3 1159.6,687.0 1160.3,683.3 1161.0,681.2 1161.7,681.1 1162.4,682.8 1163.1,686.4 1163.8,691.4 1164.5,697.8 1165.2,705.4 1165.9,714.0 1166.6,723.5 1167.3,733.5 1168.0,744.0 1168.7,754.8 1169.4,765.6 1170.1,776.3 1170.8,786.8 1171.5,796.7 1172.2,806.0 1172.9,814.5 1173.6,822.0 1174.3,828.2 1175.0,833.0 1175.7,836.3 1176.4,837.8 1177.1,837.4 1177.8,835.0 1178.5,830.8 1179.2,825.0 1179.9,817.7 1180.6,809.2 1181.3,799.6 1182.0,789.1 1182.7,777.9 1183.4,766.1 1184.1,754.0 1184.8,741.7 1185.5,729.3 1186.2,717.2 1186.9,705.4 1187.6,694.0 1188.3,683.4 1189.0,673.7 1189.7,665.0 1190.4,657.6 1191.1,651.6 1191.8,647.1 1192.5,644.5 1193.2,643.7 1193.9,646.0 1194.6,651.4 1195.3,659.7 1196.0,670.6 1196.7,683.6 1197.4,698.4 1198.1,714.8 1198.8,732.2 1199.5,750.5 1200.2,769.2 1200.9,788.0 1201.6,806.5 1202.3,824.5 1203.0,841.5 1203.7,857.2 1204.4,871.3 1205.1,883.5 1205.8,893.3 1206.5,900.4 1207.2,904.5 1207.9,905.2 1208.6,902.2 1209.3,895.8 1210.0,886.1 1210.7,873.7 1211.4,859.0 1212.1,842.1 1212.8,823.6 1213.5,803.8 1214.2,783.1 1214.9,761.8 1215.6,740.2 1216.3,718.8 1217.0,698.0 1217.7,678.0 1218.4,659.3 1219.1,642.2 1219.8,627.1 1220.5,614.4 1221.2,604.3 1221.9,597.4 1222.6,593.9 1223.3,594.1 1224.0,598.1 1224.7,605.4 1225.4,615.7 1226.1,628.7 1226.8,644.0 1227.5,661.3 1228.2,680.2 1228.9,700.4 1229.6,721.5 1230.3,743.2 1231.0,765.2 1231.7,787.0 1232.4,808.5 1233.1,829.1 1233.8,848.6 1234.5,866.6 1235.2,882.8 1235.9,896.8 1236.6,908.3 1237.3,917.0 1238.0,922.4 1238.7,924.3 1239.4,922.2 1240.1,916.1 1240.8,906.5 1241.5,893.8 1242.2,878.3 1242.9,860.5 1243.6,840.9 1244.3,819.8 1245.0,797.6 1245.7,774.7 1246.4,751.7 1247.1,728.8 1247.8,706.5 1248.5,685.2 1249.2,665.3 1249.9,647.2 1250.6,631.4 1251.3,618.2 1252.0,608.2 1252.7,601.6 1253.4,598.8 1254.1,600.2 1254.8,605.2 1255.5,613.5 1256.2,624.6 1256.9,638.3 1257.6,654.0 1258.3,671.6 1259.0,690.5 1259.7,710.4 1260.4,730.9 1261.1,751.6 1261.8,772.2 1262.5,792.3 1263.2,811.6 1263.9,829.5 1264.6,845.8 1265.3,860.1 1266.0,872.0 1266.7,881.1 1267.4,887.1 1268.1,889.6 1268.8,888.3 1269.5,883.7 1270.2,876.0 1270.9,865.7 1271.6,853.1 1272.3,838.5 1273.0,822.3 1273.7,804.8 1274.4,786.4 1275.1,767.4 1275.8,748.1 1276.5,728.9 1277.2,710.2 1277.9,692.2 1278.6,675.4 1279.3,660.1 1280.0,646.6 1280.7,635.3 1281.4,626.4 1282.1,620.5 1282.8,617.7 1283.5,618.4 1284.2,622.3 1284.9,628.9 1285.6,637.9 1286.3,649.1 1287.0,662.1 1287.7,676.6 1288.4,692.2 1289.1,708.7 1289.8,725.6 1290.5,742.8 1291.2,759.7 1291.9,776.2 1292.6,791.8 1293.3,806.3 1294.0,819.3 1294.7,830.5 1295.4,839.5 1296.1,846.1 1296.8,850.0 1297.5,850.8 1298.2,850.1 1298.9,848.7 1299.6,846.3 1300.3,843.2 1301.0,839.1 1301.7,834.2 1302.4,828.4 1303.1,821.6 1303.8,814.0 1304.5,805.3 1305.2,795.7 1305.9,785.2 1306.6,773.6 1307.3,761.1 1308.0,747.5 1308.7,732.9 1309.4,717.2 1310.1,700.5 1310.8,682.6 1311.5,663.7 1311.8,655.3" stroke="#c0c0c0" stroke-width="1.9" fill="none" stroke-linejoin="round"/>
</svg></body></html>
